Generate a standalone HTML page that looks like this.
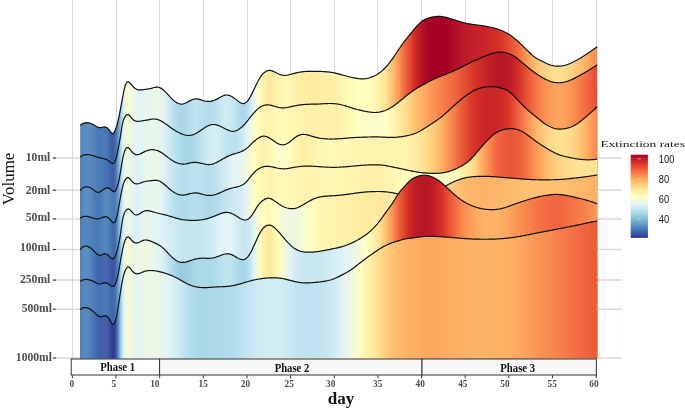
<!DOCTYPE html>
<html><head><meta charset="utf-8"><title>Extinction rates ridgeline</title>
<style>
html,body{margin:0;padding:0;background:#fff;}
body{width:685px;height:409px;overflow:hidden;font-family:"Liberation Serif",serif;}
svg{display:block;will-change:transform;}
.yl{font:bold 12.5px "Liberation Serif",serif;fill:#4d4d4d;text-anchor:end}
.xl{font:bold 9.9px "Liberation Serif",serif;fill:#4d4d4d;text-anchor:middle}
.ph{font:bold 12.1px "Liberation Serif",serif;fill:#111;text-anchor:middle}
.lg{font:10px "Liberation Sans",sans-serif;fill:#111}
</style></head><body>
<svg width="685" height="409" viewBox="0 0 685 409">
<rect width="685" height="409" fill="#fff"/>

<g stroke="#dadada" stroke-width="1" fill="none">
<line x1="72.5" y1="0" x2="72.5" y2="358.2"/>
<line x1="116.5" y1="0" x2="116.5" y2="358.2"/>
<line x1="159.5" y1="0" x2="159.5" y2="358.2"/>
<line x1="203.5" y1="0" x2="203.5" y2="358.2"/>
<line x1="247.5" y1="0" x2="247.5" y2="358.2"/>
<line x1="290.5" y1="0" x2="290.5" y2="358.2"/>
<line x1="334.5" y1="0" x2="334.5" y2="358.2"/>
<line x1="377.5" y1="0" x2="377.5" y2="358.2"/>
<line x1="421.5" y1="0" x2="421.5" y2="358.2"/>
<line x1="465.5" y1="0" x2="465.5" y2="358.2"/>
<line x1="508.5" y1="0" x2="508.5" y2="358.2"/>
<line x1="552.5" y1="0" x2="552.5" y2="358.2"/>
<line x1="596.5" y1="0" x2="596.5" y2="358.2"/>
<line x1="55.5" y1="158.0" x2="621.7" y2="158.0" stroke="#d9d9d9" stroke-width="1.5"/>
<line x1="55.5" y1="190.2" x2="621.7" y2="190.2" stroke="#d9d9d9" stroke-width="1.5"/>
<line x1="55.5" y1="218.9" x2="621.7" y2="218.9" stroke="#d9d9d9" stroke-width="1.5"/>
<line x1="55.5" y1="249.5" x2="621.7" y2="249.5" stroke="#d9d9d9" stroke-width="1.5"/>
<line x1="55.5" y1="280.1" x2="621.7" y2="280.1" stroke="#d9d9d9" stroke-width="1.5"/>
<line x1="55.5" y1="309.2" x2="621.7" y2="309.2" stroke="#d9d9d9" stroke-width="1.5"/>
<line x1="55.5" y1="358.0" x2="621.7" y2="358.0" stroke="#d9d9d9" stroke-width="1.5"/>
</g>
<defs>
<linearGradient id="g1" gradientUnits="userSpaceOnUse" x1="80.2" y1="0" x2="597.3" y2="0">
<stop offset="0.0000" stop-color="#5182bb"/>
<stop offset="0.0039" stop-color="#5688be"/>
<stop offset="0.0077" stop-color="#598bc0"/>
<stop offset="0.0116" stop-color="#5b8dc1"/>
<stop offset="0.0155" stop-color="#5a8dc0"/>
<stop offset="0.0193" stop-color="#598bbf"/>
<stop offset="0.0232" stop-color="#5687be"/>
<stop offset="0.0271" stop-color="#5283bb"/>
<stop offset="0.0309" stop-color="#4d7db8"/>
<stop offset="0.0348" stop-color="#4878b6"/>
<stop offset="0.0387" stop-color="#4777b5"/>
<stop offset="0.0425" stop-color="#4979b6"/>
<stop offset="0.0464" stop-color="#4a7ab7"/>
<stop offset="0.0503" stop-color="#4878b6"/>
<stop offset="0.0541" stop-color="#4471b2"/>
<stop offset="0.0580" stop-color="#4164ac"/>
<stop offset="0.0619" stop-color="#3e59a6"/>
<stop offset="0.0658" stop-color="#405fa9"/>
<stop offset="0.0696" stop-color="#4777b5"/>
<stop offset="0.0735" stop-color="#6498c7"/>
<stop offset="0.0774" stop-color="#8cc0db"/>
<stop offset="0.0812" stop-color="#bbe1ee"/>
<stop offset="0.0851" stop-color="#e5f5f0"/>
<stop offset="0.0890" stop-color="#f6fbd3"/>
<stop offset="0.0928" stop-color="#f9fccd"/>
<stop offset="0.0967" stop-color="#f5fbd4"/>
<stop offset="0.1006" stop-color="#eff8df"/>
<stop offset="0.1044" stop-color="#eaf6e8"/>
<stop offset="0.1083" stop-color="#e6f5ef"/>
<stop offset="0.1122" stop-color="#e4f4f2"/>
<stop offset="0.1160" stop-color="#e3f4f3"/>
<stop offset="0.1199" stop-color="#e4f4f2"/>
<stop offset="0.1238" stop-color="#e5f4f1"/>
<stop offset="0.1276" stop-color="#e6f5f0"/>
<stop offset="0.1315" stop-color="#e6f5ee"/>
<stop offset="0.1354" stop-color="#e7f5ec"/>
<stop offset="0.1392" stop-color="#e9f6ea"/>
<stop offset="0.1431" stop-color="#eaf6e8"/>
<stop offset="0.1470" stop-color="#ebf7e6"/>
<stop offset="0.1508" stop-color="#ebf7e6"/>
<stop offset="0.1547" stop-color="#e9f6e9"/>
<stop offset="0.1586" stop-color="#e6f5ee"/>
<stop offset="0.1624" stop-color="#e2f3f6"/>
<stop offset="0.1663" stop-color="#daf0f6"/>
<stop offset="0.1702" stop-color="#d0ebf3"/>
<stop offset="0.1740" stop-color="#c7e6f1"/>
<stop offset="0.1779" stop-color="#bee2ee"/>
<stop offset="0.1818" stop-color="#b6deec"/>
<stop offset="0.1857" stop-color="#b0dbea"/>
<stop offset="0.1895" stop-color="#abd9e9"/>
<stop offset="0.1934" stop-color="#a9d7e8"/>
<stop offset="0.1973" stop-color="#a8d7e8"/>
<stop offset="0.2011" stop-color="#aad9e9"/>
<stop offset="0.2050" stop-color="#aedbea"/>
<stop offset="0.2089" stop-color="#b3ddeb"/>
<stop offset="0.2127" stop-color="#b7dfec"/>
<stop offset="0.2166" stop-color="#bbe1ed"/>
<stop offset="0.2205" stop-color="#bee2ee"/>
<stop offset="0.2243" stop-color="#bfe3ef"/>
<stop offset="0.2282" stop-color="#bee2ee"/>
<stop offset="0.2321" stop-color="#bce1ee"/>
<stop offset="0.2359" stop-color="#b9e0ed"/>
<stop offset="0.2398" stop-color="#b6deec"/>
<stop offset="0.2437" stop-color="#b5deec"/>
<stop offset="0.2475" stop-color="#b4ddeb"/>
<stop offset="0.2514" stop-color="#b4ddec"/>
<stop offset="0.2553" stop-color="#b6deec"/>
<stop offset="0.2591" stop-color="#b9e0ed"/>
<stop offset="0.2630" stop-color="#bde1ee"/>
<stop offset="0.2669" stop-color="#c1e4ef"/>
<stop offset="0.2707" stop-color="#c6e6f1"/>
<stop offset="0.2746" stop-color="#cae8f2"/>
<stop offset="0.2785" stop-color="#ceeaf3"/>
<stop offset="0.2823" stop-color="#cfebf3"/>
<stop offset="0.2862" stop-color="#cfeaf3"/>
<stop offset="0.2901" stop-color="#cce9f2"/>
<stop offset="0.2939" stop-color="#c8e7f1"/>
<stop offset="0.2978" stop-color="#c2e4ef"/>
<stop offset="0.3017" stop-color="#bce1ee"/>
<stop offset="0.3056" stop-color="#b5deec"/>
<stop offset="0.3094" stop-color="#afdbea"/>
<stop offset="0.3133" stop-color="#abd9e9"/>
<stop offset="0.3172" stop-color="#abd9e9"/>
<stop offset="0.3210" stop-color="#b0dbea"/>
<stop offset="0.3249" stop-color="#b9e0ed"/>
<stop offset="0.3288" stop-color="#c7e7f1"/>
<stop offset="0.3326" stop-color="#d8eff6"/>
<stop offset="0.3365" stop-color="#e6f5ee"/>
<stop offset="0.3404" stop-color="#f2f9db"/>
<stop offset="0.3442" stop-color="#fbfdc9"/>
<stop offset="0.3481" stop-color="#fffbba"/>
<stop offset="0.3520" stop-color="#fff5af"/>
<stop offset="0.3558" stop-color="#fff0a8"/>
<stop offset="0.3597" stop-color="#ffeca2"/>
<stop offset="0.3636" stop-color="#ffea9f"/>
<stop offset="0.3674" stop-color="#ffea9f"/>
<stop offset="0.3713" stop-color="#ffeba1"/>
<stop offset="0.3752" stop-color="#ffeda4"/>
<stop offset="0.3790" stop-color="#fff0a8"/>
<stop offset="0.3829" stop-color="#fff2ac"/>
<stop offset="0.3868" stop-color="#fff4af"/>
<stop offset="0.3906" stop-color="#fff6b1"/>
<stop offset="0.3945" stop-color="#fff6b2"/>
<stop offset="0.3984" stop-color="#fff6b1"/>
<stop offset="0.4022" stop-color="#fff5b0"/>
<stop offset="0.4061" stop-color="#fff4af"/>
<stop offset="0.4100" stop-color="#fff3ac"/>
<stop offset="0.4138" stop-color="#fff1aa"/>
<stop offset="0.4177" stop-color="#fff0a8"/>
<stop offset="0.4216" stop-color="#ffefa7"/>
<stop offset="0.4254" stop-color="#ffeea5"/>
<stop offset="0.4293" stop-color="#ffeda4"/>
<stop offset="0.4332" stop-color="#ffeda4"/>
<stop offset="0.4371" stop-color="#ffeda3"/>
<stop offset="0.4409" stop-color="#ffeca3"/>
<stop offset="0.4448" stop-color="#ffeca2"/>
<stop offset="0.4487" stop-color="#ffeca2"/>
<stop offset="0.4525" stop-color="#ffeca2"/>
<stop offset="0.4564" stop-color="#ffeca2"/>
<stop offset="0.4603" stop-color="#ffeca3"/>
<stop offset="0.4641" stop-color="#ffeca3"/>
<stop offset="0.4680" stop-color="#ffeda3"/>
<stop offset="0.4719" stop-color="#ffeda4"/>
<stop offset="0.4757" stop-color="#ffeda4"/>
<stop offset="0.4796" stop-color="#ffeea5"/>
<stop offset="0.4835" stop-color="#ffeea6"/>
<stop offset="0.4873" stop-color="#ffefa7"/>
<stop offset="0.4912" stop-color="#fff0a8"/>
<stop offset="0.4951" stop-color="#fff1aa"/>
<stop offset="0.4989" stop-color="#fff3ac"/>
<stop offset="0.5028" stop-color="#fff4ae"/>
<stop offset="0.5067" stop-color="#fff5b0"/>
<stop offset="0.5105" stop-color="#fff7b2"/>
<stop offset="0.5144" stop-color="#fff8b4"/>
<stop offset="0.5183" stop-color="#fff9b6"/>
<stop offset="0.5221" stop-color="#fffab8"/>
<stop offset="0.5260" stop-color="#fffcba"/>
<stop offset="0.5299" stop-color="#fffdbc"/>
<stop offset="0.5337" stop-color="#fffebd"/>
<stop offset="0.5376" stop-color="#ffffbe"/>
<stop offset="0.5415" stop-color="#ffffbf"/>
<stop offset="0.5453" stop-color="#ffffc0"/>
<stop offset="0.5492" stop-color="#ffffbf"/>
<stop offset="0.5531" stop-color="#fffebe"/>
<stop offset="0.5570" stop-color="#fffdbc"/>
<stop offset="0.5608" stop-color="#fffcba"/>
<stop offset="0.5647" stop-color="#fffab7"/>
<stop offset="0.5686" stop-color="#fff8b4"/>
<stop offset="0.5724" stop-color="#fff5b0"/>
<stop offset="0.5763" stop-color="#fff2ab"/>
<stop offset="0.5802" stop-color="#ffefa6"/>
<stop offset="0.5840" stop-color="#ffeaa0"/>
<stop offset="0.5879" stop-color="#ffe699"/>
<stop offset="0.5918" stop-color="#fee191"/>
<stop offset="0.5956" stop-color="#fed788"/>
<stop offset="0.5995" stop-color="#ffcd7e"/>
<stop offset="0.6034" stop-color="#fec274"/>
<stop offset="0.6072" stop-color="#feb769"/>
<stop offset="0.6111" stop-color="#fdaa5f"/>
<stop offset="0.6150" stop-color="#fb9a57"/>
<stop offset="0.6188" stop-color="#f98b50"/>
<stop offset="0.6227" stop-color="#f67b49"/>
<stop offset="0.6266" stop-color="#f46c43"/>
<stop offset="0.6304" stop-color="#ee613c"/>
<stop offset="0.6343" stop-color="#e85537"/>
<stop offset="0.6382" stop-color="#e24931"/>
<stop offset="0.6420" stop-color="#dc3d2c"/>
<stop offset="0.6459" stop-color="#d62f27"/>
<stop offset="0.6498" stop-color="#cc2827"/>
<stop offset="0.6536" stop-color="#c32127"/>
<stop offset="0.6575" stop-color="#bb1a27"/>
<stop offset="0.6614" stop-color="#b51427"/>
<stop offset="0.6652" stop-color="#b00f26"/>
<stop offset="0.6691" stop-color="#ac0926"/>
<stop offset="0.6730" stop-color="#a90526"/>
<stop offset="0.6769" stop-color="#a70226"/>
<stop offset="0.6807" stop-color="#a50026"/>
<stop offset="0.6846" stop-color="#a50026"/>
<stop offset="0.6885" stop-color="#a50026"/>
<stop offset="0.6923" stop-color="#a50026"/>
<stop offset="0.6962" stop-color="#a50026"/>
<stop offset="0.7001" stop-color="#a50026"/>
<stop offset="0.7039" stop-color="#a50026"/>
<stop offset="0.7078" stop-color="#a60126"/>
<stop offset="0.7117" stop-color="#a80426"/>
<stop offset="0.7155" stop-color="#aa0726"/>
<stop offset="0.7194" stop-color="#ad0b26"/>
<stop offset="0.7233" stop-color="#af0e26"/>
<stop offset="0.7271" stop-color="#b21127"/>
<stop offset="0.7310" stop-color="#b51427"/>
<stop offset="0.7349" stop-color="#b71627"/>
<stop offset="0.7387" stop-color="#b91927"/>
<stop offset="0.7426" stop-color="#bc1b27"/>
<stop offset="0.7465" stop-color="#bd1c27"/>
<stop offset="0.7503" stop-color="#bf1e27"/>
<stop offset="0.7542" stop-color="#c11f27"/>
<stop offset="0.7581" stop-color="#c22027"/>
<stop offset="0.7619" stop-color="#c32127"/>
<stop offset="0.7658" stop-color="#c42227"/>
<stop offset="0.7697" stop-color="#c52327"/>
<stop offset="0.7735" stop-color="#c62327"/>
<stop offset="0.7774" stop-color="#c72427"/>
<stop offset="0.7813" stop-color="#c92527"/>
<stop offset="0.7851" stop-color="#ca2727"/>
<stop offset="0.7890" stop-color="#cc2827"/>
<stop offset="0.7929" stop-color="#ce2927"/>
<stop offset="0.7968" stop-color="#cf2b27"/>
<stop offset="0.8006" stop-color="#d12c27"/>
<stop offset="0.8045" stop-color="#d42e27"/>
<stop offset="0.8084" stop-color="#d62f27"/>
<stop offset="0.8122" stop-color="#d83328"/>
<stop offset="0.8161" stop-color="#da382a"/>
<stop offset="0.8200" stop-color="#dc3d2c"/>
<stop offset="0.8238" stop-color="#df422e"/>
<stop offset="0.8277" stop-color="#e14830"/>
<stop offset="0.8316" stop-color="#e44f33"/>
<stop offset="0.8354" stop-color="#e85637"/>
<stop offset="0.8393" stop-color="#ec5d3a"/>
<stop offset="0.8432" stop-color="#ef643e"/>
<stop offset="0.8470" stop-color="#f36c42"/>
<stop offset="0.8509" stop-color="#f67647"/>
<stop offset="0.8548" stop-color="#f7814b"/>
<stop offset="0.8586" stop-color="#f98b50"/>
<stop offset="0.8625" stop-color="#fa9655"/>
<stop offset="0.8664" stop-color="#fca05a"/>
<stop offset="0.8702" stop-color="#fdaa5f"/>
<stop offset="0.8741" stop-color="#fdb265"/>
<stop offset="0.8780" stop-color="#feb96b"/>
<stop offset="0.8818" stop-color="#febe70"/>
<stop offset="0.8857" stop-color="#fec374"/>
<stop offset="0.8896" stop-color="#fec778"/>
<stop offset="0.8934" stop-color="#ffcb7c"/>
<stop offset="0.8973" stop-color="#ffcf80"/>
<stop offset="0.9012" stop-color="#fed384"/>
<stop offset="0.9050" stop-color="#fed787"/>
<stop offset="0.9089" stop-color="#feda8a"/>
<stop offset="0.9128" stop-color="#fedc8c"/>
<stop offset="0.9167" stop-color="#fede8e"/>
<stop offset="0.9205" stop-color="#fedf8f"/>
<stop offset="0.9244" stop-color="#fedf8f"/>
<stop offset="0.9283" stop-color="#fedf8f"/>
<stop offset="0.9321" stop-color="#fede8e"/>
<stop offset="0.9360" stop-color="#fedc8c"/>
<stop offset="0.9399" stop-color="#feda8a"/>
<stop offset="0.9437" stop-color="#fed787"/>
<stop offset="0.9476" stop-color="#fed484"/>
<stop offset="0.9515" stop-color="#ffd081"/>
<stop offset="0.9553" stop-color="#ffcc7d"/>
<stop offset="0.9592" stop-color="#fec879"/>
<stop offset="0.9631" stop-color="#fec375"/>
<stop offset="0.9669" stop-color="#febf70"/>
<stop offset="0.9708" stop-color="#feb96c"/>
<stop offset="0.9747" stop-color="#feb467"/>
<stop offset="0.9785" stop-color="#fdaf62"/>
<stop offset="0.9824" stop-color="#fca85e"/>
<stop offset="0.9863" stop-color="#fca25b"/>
<stop offset="0.9901" stop-color="#fb9a57"/>
<stop offset="0.9940" stop-color="#fa9354"/>
<stop offset="0.9979" stop-color="#f98c50"/>
</linearGradient>
<linearGradient id="g2" gradientUnits="userSpaceOnUse" x1="80.2" y1="0" x2="597.3" y2="0">
<stop offset="0.0000" stop-color="#4e7eb9"/>
<stop offset="0.0039" stop-color="#5385bc"/>
<stop offset="0.0077" stop-color="#5788be"/>
<stop offset="0.0116" stop-color="#588abf"/>
<stop offset="0.0155" stop-color="#588abf"/>
<stop offset="0.0193" stop-color="#5688be"/>
<stop offset="0.0232" stop-color="#5486bd"/>
<stop offset="0.0271" stop-color="#5283bb"/>
<stop offset="0.0309" stop-color="#4f80ba"/>
<stop offset="0.0348" stop-color="#4d7db8"/>
<stop offset="0.0387" stop-color="#4b7bb7"/>
<stop offset="0.0425" stop-color="#4979b6"/>
<stop offset="0.0464" stop-color="#4777b5"/>
<stop offset="0.0503" stop-color="#4574b4"/>
<stop offset="0.0541" stop-color="#446fb1"/>
<stop offset="0.0580" stop-color="#4266ad"/>
<stop offset="0.0619" stop-color="#405fa9"/>
<stop offset="0.0658" stop-color="#4162ab"/>
<stop offset="0.0696" stop-color="#4a7ab7"/>
<stop offset="0.0735" stop-color="#6ea5cd"/>
<stop offset="0.0774" stop-color="#9ccde2"/>
<stop offset="0.0812" stop-color="#d4edf4"/>
<stop offset="0.0851" stop-color="#ebf6e7"/>
<stop offset="0.0890" stop-color="#f2f9d9"/>
<stop offset="0.0928" stop-color="#f4fad6"/>
<stop offset="0.0967" stop-color="#f0f8de"/>
<stop offset="0.1006" stop-color="#e9f6e9"/>
<stop offset="0.1044" stop-color="#e5f5f1"/>
<stop offset="0.1083" stop-color="#e3f4f4"/>
<stop offset="0.1122" stop-color="#e2f4f5"/>
<stop offset="0.1160" stop-color="#e3f4f4"/>
<stop offset="0.1199" stop-color="#e4f4f3"/>
<stop offset="0.1238" stop-color="#e4f4f1"/>
<stop offset="0.1276" stop-color="#e5f5f0"/>
<stop offset="0.1315" stop-color="#e6f5ee"/>
<stop offset="0.1354" stop-color="#e7f5ec"/>
<stop offset="0.1392" stop-color="#e8f6eb"/>
<stop offset="0.1431" stop-color="#e9f6ea"/>
<stop offset="0.1470" stop-color="#e8f6eb"/>
<stop offset="0.1508" stop-color="#e7f5ee"/>
<stop offset="0.1547" stop-color="#e4f4f1"/>
<stop offset="0.1586" stop-color="#e1f3f6"/>
<stop offset="0.1624" stop-color="#dcf1f7"/>
<stop offset="0.1663" stop-color="#d6eef5"/>
<stop offset="0.1702" stop-color="#d0ebf3"/>
<stop offset="0.1740" stop-color="#cae8f2"/>
<stop offset="0.1779" stop-color="#c4e5f0"/>
<stop offset="0.1818" stop-color="#bee2ee"/>
<stop offset="0.1857" stop-color="#b9e0ed"/>
<stop offset="0.1895" stop-color="#b5deec"/>
<stop offset="0.1934" stop-color="#b0dcea"/>
<stop offset="0.1973" stop-color="#addae9"/>
<stop offset="0.2011" stop-color="#a9d8e8"/>
<stop offset="0.2050" stop-color="#a7d6e7"/>
<stop offset="0.2089" stop-color="#a6d5e7"/>
<stop offset="0.2127" stop-color="#a7d6e7"/>
<stop offset="0.2166" stop-color="#a9d7e8"/>
<stop offset="0.2205" stop-color="#acd9e9"/>
<stop offset="0.2243" stop-color="#b0dbea"/>
<stop offset="0.2282" stop-color="#b5deec"/>
<stop offset="0.2321" stop-color="#bbe1ed"/>
<stop offset="0.2359" stop-color="#c1e4ef"/>
<stop offset="0.2398" stop-color="#c7e6f1"/>
<stop offset="0.2437" stop-color="#cce9f2"/>
<stop offset="0.2475" stop-color="#d0ebf3"/>
<stop offset="0.2514" stop-color="#d3edf4"/>
<stop offset="0.2553" stop-color="#d5eef5"/>
<stop offset="0.2591" stop-color="#d6eef5"/>
<stop offset="0.2630" stop-color="#d4edf5"/>
<stop offset="0.2669" stop-color="#d2ecf4"/>
<stop offset="0.2707" stop-color="#ceeaf3"/>
<stop offset="0.2746" stop-color="#cae8f2"/>
<stop offset="0.2785" stop-color="#c6e6f0"/>
<stop offset="0.2823" stop-color="#c2e4ef"/>
<stop offset="0.2862" stop-color="#bee2ee"/>
<stop offset="0.2901" stop-color="#bbe1ed"/>
<stop offset="0.2939" stop-color="#b9e0ed"/>
<stop offset="0.2978" stop-color="#b9e0ed"/>
<stop offset="0.3017" stop-color="#bbe1ee"/>
<stop offset="0.3056" stop-color="#c0e3ef"/>
<stop offset="0.3094" stop-color="#c5e6f0"/>
<stop offset="0.3133" stop-color="#cde9f2"/>
<stop offset="0.3172" stop-color="#d5edf5"/>
<stop offset="0.3210" stop-color="#def2f7"/>
<stop offset="0.3249" stop-color="#e6f5ef"/>
<stop offset="0.3288" stop-color="#edf7e3"/>
<stop offset="0.3326" stop-color="#f3fad8"/>
<stop offset="0.3365" stop-color="#f9fccd"/>
<stop offset="0.3404" stop-color="#fdfec3"/>
<stop offset="0.3442" stop-color="#fffcbb"/>
<stop offset="0.3481" stop-color="#fff9b5"/>
<stop offset="0.3520" stop-color="#fff6b1"/>
<stop offset="0.3558" stop-color="#fff4ae"/>
<stop offset="0.3597" stop-color="#fff3ad"/>
<stop offset="0.3636" stop-color="#fff3ad"/>
<stop offset="0.3674" stop-color="#fff4ae"/>
<stop offset="0.3713" stop-color="#fff5b0"/>
<stop offset="0.3752" stop-color="#fff6b2"/>
<stop offset="0.3790" stop-color="#fff8b4"/>
<stop offset="0.3829" stop-color="#fff9b6"/>
<stop offset="0.3868" stop-color="#fffab8"/>
<stop offset="0.3906" stop-color="#fffbb8"/>
<stop offset="0.3945" stop-color="#fffbb8"/>
<stop offset="0.3984" stop-color="#fffab7"/>
<stop offset="0.4022" stop-color="#fff9b6"/>
<stop offset="0.4061" stop-color="#fff8b4"/>
<stop offset="0.4100" stop-color="#fff7b3"/>
<stop offset="0.4138" stop-color="#fff6b1"/>
<stop offset="0.4177" stop-color="#fff5af"/>
<stop offset="0.4216" stop-color="#fff4ae"/>
<stop offset="0.4254" stop-color="#fff3ad"/>
<stop offset="0.4293" stop-color="#fff3ac"/>
<stop offset="0.4332" stop-color="#fff2ab"/>
<stop offset="0.4371" stop-color="#fff2ab"/>
<stop offset="0.4409" stop-color="#fff2ab"/>
<stop offset="0.4448" stop-color="#fff1aa"/>
<stop offset="0.4487" stop-color="#fff1aa"/>
<stop offset="0.4525" stop-color="#fff1aa"/>
<stop offset="0.4564" stop-color="#fff1aa"/>
<stop offset="0.4603" stop-color="#fff1aa"/>
<stop offset="0.4641" stop-color="#fff1a9"/>
<stop offset="0.4680" stop-color="#fff0a9"/>
<stop offset="0.4719" stop-color="#fff0a8"/>
<stop offset="0.4757" stop-color="#fff0a8"/>
<stop offset="0.4796" stop-color="#fff0a8"/>
<stop offset="0.4835" stop-color="#fff0a8"/>
<stop offset="0.4873" stop-color="#fff0a8"/>
<stop offset="0.4912" stop-color="#fff0a8"/>
<stop offset="0.4951" stop-color="#fff1a9"/>
<stop offset="0.4989" stop-color="#fff1aa"/>
<stop offset="0.5028" stop-color="#fff2ac"/>
<stop offset="0.5067" stop-color="#fff3ad"/>
<stop offset="0.5105" stop-color="#fff5af"/>
<stop offset="0.5144" stop-color="#fff6b2"/>
<stop offset="0.5183" stop-color="#fff8b4"/>
<stop offset="0.5221" stop-color="#fff9b7"/>
<stop offset="0.5260" stop-color="#fffbb9"/>
<stop offset="0.5299" stop-color="#fffdbb"/>
<stop offset="0.5337" stop-color="#fffebd"/>
<stop offset="0.5376" stop-color="#ffffbf"/>
<stop offset="0.5415" stop-color="#fefec2"/>
<stop offset="0.5453" stop-color="#fdfec4"/>
<stop offset="0.5492" stop-color="#fcfec6"/>
<stop offset="0.5531" stop-color="#fbfdc8"/>
<stop offset="0.5570" stop-color="#fafdc9"/>
<stop offset="0.5608" stop-color="#fafccb"/>
<stop offset="0.5647" stop-color="#f9fccc"/>
<stop offset="0.5686" stop-color="#f9fccc"/>
<stop offset="0.5724" stop-color="#f9fccc"/>
<stop offset="0.5763" stop-color="#f9fccb"/>
<stop offset="0.5802" stop-color="#fafdca"/>
<stop offset="0.5840" stop-color="#fbfdc8"/>
<stop offset="0.5879" stop-color="#fdfec5"/>
<stop offset="0.5918" stop-color="#feffc1"/>
<stop offset="0.5956" stop-color="#fffebd"/>
<stop offset="0.5995" stop-color="#fffbb9"/>
<stop offset="0.6034" stop-color="#fff8b4"/>
<stop offset="0.6072" stop-color="#fff5af"/>
<stop offset="0.6111" stop-color="#fff1aa"/>
<stop offset="0.6150" stop-color="#ffeda4"/>
<stop offset="0.6188" stop-color="#ffe99e"/>
<stop offset="0.6227" stop-color="#fee597"/>
<stop offset="0.6266" stop-color="#fee191"/>
<stop offset="0.6304" stop-color="#fedb8b"/>
<stop offset="0.6343" stop-color="#fed485"/>
<stop offset="0.6382" stop-color="#ffce7f"/>
<stop offset="0.6420" stop-color="#fec879"/>
<stop offset="0.6459" stop-color="#fec374"/>
<stop offset="0.6498" stop-color="#febe70"/>
<stop offset="0.6536" stop-color="#feb96b"/>
<stop offset="0.6575" stop-color="#feb467"/>
<stop offset="0.6614" stop-color="#fdb063"/>
<stop offset="0.6652" stop-color="#fdab5f"/>
<stop offset="0.6691" stop-color="#fca65d"/>
<stop offset="0.6730" stop-color="#fca05a"/>
<stop offset="0.6769" stop-color="#fb9b58"/>
<stop offset="0.6807" stop-color="#fa9655"/>
<stop offset="0.6846" stop-color="#fa9153"/>
<stop offset="0.6885" stop-color="#f98c50"/>
<stop offset="0.6923" stop-color="#f8874e"/>
<stop offset="0.6962" stop-color="#f8834c"/>
<stop offset="0.7001" stop-color="#f77f4b"/>
<stop offset="0.7039" stop-color="#f67b49"/>
<stop offset="0.7078" stop-color="#f67647"/>
<stop offset="0.7117" stop-color="#f57245"/>
<stop offset="0.7155" stop-color="#f46d43"/>
<stop offset="0.7194" stop-color="#f26a41"/>
<stop offset="0.7233" stop-color="#f0663f"/>
<stop offset="0.7271" stop-color="#ee623d"/>
<stop offset="0.7310" stop-color="#ec5d3b"/>
<stop offset="0.7349" stop-color="#ea5938"/>
<stop offset="0.7387" stop-color="#e75436"/>
<stop offset="0.7426" stop-color="#e54f34"/>
<stop offset="0.7465" stop-color="#e24a31"/>
<stop offset="0.7503" stop-color="#e0452f"/>
<stop offset="0.7542" stop-color="#de402d"/>
<stop offset="0.7581" stop-color="#db3b2b"/>
<stop offset="0.7619" stop-color="#d93529"/>
<stop offset="0.7658" stop-color="#d73027"/>
<stop offset="0.7697" stop-color="#d32d27"/>
<stop offset="0.7735" stop-color="#d02b27"/>
<stop offset="0.7774" stop-color="#cc2827"/>
<stop offset="0.7813" stop-color="#c92527"/>
<stop offset="0.7851" stop-color="#c52327"/>
<stop offset="0.7890" stop-color="#c22027"/>
<stop offset="0.7929" stop-color="#bf1e27"/>
<stop offset="0.7968" stop-color="#bc1b27"/>
<stop offset="0.8006" stop-color="#ba1927"/>
<stop offset="0.8045" stop-color="#b91827"/>
<stop offset="0.8084" stop-color="#b71727"/>
<stop offset="0.8122" stop-color="#b71627"/>
<stop offset="0.8161" stop-color="#b71627"/>
<stop offset="0.8200" stop-color="#b81727"/>
<stop offset="0.8238" stop-color="#ba1927"/>
<stop offset="0.8277" stop-color="#bc1b27"/>
<stop offset="0.8316" stop-color="#bf1e27"/>
<stop offset="0.8354" stop-color="#c32127"/>
<stop offset="0.8393" stop-color="#c82527"/>
<stop offset="0.8432" stop-color="#ce2927"/>
<stop offset="0.8470" stop-color="#d42e27"/>
<stop offset="0.8509" stop-color="#d93629"/>
<stop offset="0.8548" stop-color="#dd3f2d"/>
<stop offset="0.8586" stop-color="#e14830"/>
<stop offset="0.8625" stop-color="#e55034"/>
<stop offset="0.8664" stop-color="#e95838"/>
<stop offset="0.8702" stop-color="#ed5f3c"/>
<stop offset="0.8741" stop-color="#f0663f"/>
<stop offset="0.8780" stop-color="#f46d43"/>
<stop offset="0.8818" stop-color="#f57546"/>
<stop offset="0.8857" stop-color="#f67c49"/>
<stop offset="0.8896" stop-color="#f8834c"/>
<stop offset="0.8934" stop-color="#f8894f"/>
<stop offset="0.8973" stop-color="#f98f52"/>
<stop offset="0.9012" stop-color="#fa9454"/>
<stop offset="0.9050" stop-color="#fb9856"/>
<stop offset="0.9089" stop-color="#fb9c58"/>
<stop offset="0.9128" stop-color="#fb9f5a"/>
<stop offset="0.9167" stop-color="#fca25b"/>
<stop offset="0.9205" stop-color="#fca35b"/>
<stop offset="0.9244" stop-color="#fca45c"/>
<stop offset="0.9283" stop-color="#fca35c"/>
<stop offset="0.9321" stop-color="#fca25b"/>
<stop offset="0.9360" stop-color="#fca15a"/>
<stop offset="0.9399" stop-color="#fb9e59"/>
<stop offset="0.9437" stop-color="#fb9b57"/>
<stop offset="0.9476" stop-color="#fa9756"/>
<stop offset="0.9515" stop-color="#fa9253"/>
<stop offset="0.9553" stop-color="#f98d51"/>
<stop offset="0.9592" stop-color="#f8884f"/>
<stop offset="0.9631" stop-color="#f8824c"/>
<stop offset="0.9669" stop-color="#f77c49"/>
<stop offset="0.9708" stop-color="#f67647"/>
<stop offset="0.9747" stop-color="#f47044"/>
<stop offset="0.9785" stop-color="#f36a41"/>
<stop offset="0.9824" stop-color="#f0653f"/>
<stop offset="0.9863" stop-color="#ed603c"/>
<stop offset="0.9901" stop-color="#ea5a39"/>
<stop offset="0.9940" stop-color="#e75436"/>
<stop offset="0.9979" stop-color="#e44e33"/>
</linearGradient>
<linearGradient id="g3" gradientUnits="userSpaceOnUse" x1="80.2" y1="0" x2="597.3" y2="0">
<stop offset="0.0000" stop-color="#4e7eb9"/>
<stop offset="0.0039" stop-color="#5687be"/>
<stop offset="0.0077" stop-color="#5a8dc0"/>
<stop offset="0.0116" stop-color="#5c8ec1"/>
<stop offset="0.0155" stop-color="#5b8ec1"/>
<stop offset="0.0193" stop-color="#588abf"/>
<stop offset="0.0232" stop-color="#5485bd"/>
<stop offset="0.0271" stop-color="#4e7fb9"/>
<stop offset="0.0309" stop-color="#4979b6"/>
<stop offset="0.0348" stop-color="#4676b5"/>
<stop offset="0.0387" stop-color="#4979b6"/>
<stop offset="0.0425" stop-color="#4e7fb9"/>
<stop offset="0.0464" stop-color="#5485bc"/>
<stop offset="0.0503" stop-color="#5789be"/>
<stop offset="0.0541" stop-color="#5789bf"/>
<stop offset="0.0580" stop-color="#5485bd"/>
<stop offset="0.0619" stop-color="#4d7db8"/>
<stop offset="0.0658" stop-color="#4979b6"/>
<stop offset="0.0696" stop-color="#5283bc"/>
<stop offset="0.0735" stop-color="#689dc9"/>
<stop offset="0.0774" stop-color="#91c3dd"/>
<stop offset="0.0812" stop-color="#c4e5f0"/>
<stop offset="0.0851" stop-color="#e5f5f0"/>
<stop offset="0.0890" stop-color="#f0f9dd"/>
<stop offset="0.0928" stop-color="#f1f9db"/>
<stop offset="0.0967" stop-color="#edf7e4"/>
<stop offset="0.1006" stop-color="#e6f5ee"/>
<stop offset="0.1044" stop-color="#e1f3f6"/>
<stop offset="0.1083" stop-color="#def2f8"/>
<stop offset="0.1122" stop-color="#dff2f8"/>
<stop offset="0.1160" stop-color="#e1f3f6"/>
<stop offset="0.1199" stop-color="#e4f4f2"/>
<stop offset="0.1238" stop-color="#e7f5ed"/>
<stop offset="0.1276" stop-color="#e9f6ea"/>
<stop offset="0.1315" stop-color="#ebf7e7"/>
<stop offset="0.1354" stop-color="#ecf7e5"/>
<stop offset="0.1392" stop-color="#edf7e4"/>
<stop offset="0.1431" stop-color="#ecf7e4"/>
<stop offset="0.1470" stop-color="#ebf7e6"/>
<stop offset="0.1508" stop-color="#e9f6e9"/>
<stop offset="0.1547" stop-color="#e7f5ee"/>
<stop offset="0.1586" stop-color="#e3f4f3"/>
<stop offset="0.1624" stop-color="#dff3f8"/>
<stop offset="0.1663" stop-color="#d9eff6"/>
<stop offset="0.1702" stop-color="#d2ecf4"/>
<stop offset="0.1740" stop-color="#cce9f2"/>
<stop offset="0.1779" stop-color="#c7e6f1"/>
<stop offset="0.1818" stop-color="#c2e4ef"/>
<stop offset="0.1857" stop-color="#bee2ee"/>
<stop offset="0.1895" stop-color="#bbe1ed"/>
<stop offset="0.1934" stop-color="#b9e0ed"/>
<stop offset="0.1973" stop-color="#b8dfed"/>
<stop offset="0.2011" stop-color="#b8dfec"/>
<stop offset="0.2050" stop-color="#b9dfed"/>
<stop offset="0.2089" stop-color="#bae0ed"/>
<stop offset="0.2127" stop-color="#bce1ee"/>
<stop offset="0.2166" stop-color="#bee2ee"/>
<stop offset="0.2205" stop-color="#bfe2ee"/>
<stop offset="0.2243" stop-color="#bee2ee"/>
<stop offset="0.2282" stop-color="#bde2ee"/>
<stop offset="0.2321" stop-color="#bce1ee"/>
<stop offset="0.2359" stop-color="#bae0ed"/>
<stop offset="0.2398" stop-color="#b8dfed"/>
<stop offset="0.2437" stop-color="#b7deec"/>
<stop offset="0.2475" stop-color="#b6deec"/>
<stop offset="0.2514" stop-color="#b6deec"/>
<stop offset="0.2553" stop-color="#b7dfec"/>
<stop offset="0.2591" stop-color="#bae0ed"/>
<stop offset="0.2630" stop-color="#bee2ee"/>
<stop offset="0.2669" stop-color="#c2e4ef"/>
<stop offset="0.2707" stop-color="#c7e6f1"/>
<stop offset="0.2746" stop-color="#cbe9f2"/>
<stop offset="0.2785" stop-color="#d0ebf3"/>
<stop offset="0.2823" stop-color="#d4edf5"/>
<stop offset="0.2862" stop-color="#d8eff6"/>
<stop offset="0.2901" stop-color="#dcf1f7"/>
<stop offset="0.2939" stop-color="#dff2f8"/>
<stop offset="0.2978" stop-color="#e1f3f6"/>
<stop offset="0.3017" stop-color="#e3f4f4"/>
<stop offset="0.3056" stop-color="#e5f4f1"/>
<stop offset="0.3094" stop-color="#e7f5ee"/>
<stop offset="0.3133" stop-color="#e9f6ea"/>
<stop offset="0.3172" stop-color="#ecf7e6"/>
<stop offset="0.3210" stop-color="#eff8e0"/>
<stop offset="0.3249" stop-color="#f3fad8"/>
<stop offset="0.3288" stop-color="#f7fbd0"/>
<stop offset="0.3326" stop-color="#fbfdc7"/>
<stop offset="0.3365" stop-color="#ffffbf"/>
<stop offset="0.3404" stop-color="#fffbb8"/>
<stop offset="0.3442" stop-color="#fff7b3"/>
<stop offset="0.3481" stop-color="#fff4af"/>
<stop offset="0.3520" stop-color="#fff3ac"/>
<stop offset="0.3558" stop-color="#fff2ac"/>
<stop offset="0.3597" stop-color="#fff3ad"/>
<stop offset="0.3636" stop-color="#fff5b0"/>
<stop offset="0.3674" stop-color="#fff8b4"/>
<stop offset="0.3713" stop-color="#fffbb9"/>
<stop offset="0.3752" stop-color="#ffffbe"/>
<stop offset="0.3790" stop-color="#fdfec4"/>
<stop offset="0.3829" stop-color="#fafdc9"/>
<stop offset="0.3868" stop-color="#f9fccd"/>
<stop offset="0.3906" stop-color="#f8fcce"/>
<stop offset="0.3945" stop-color="#f8fccd"/>
<stop offset="0.3984" stop-color="#fafdca"/>
<stop offset="0.4022" stop-color="#fcfec6"/>
<stop offset="0.4061" stop-color="#ffffbf"/>
<stop offset="0.4100" stop-color="#fffbb9"/>
<stop offset="0.4138" stop-color="#fff7b3"/>
<stop offset="0.4177" stop-color="#fff4ae"/>
<stop offset="0.4216" stop-color="#fff1a9"/>
<stop offset="0.4254" stop-color="#ffefa7"/>
<stop offset="0.4293" stop-color="#ffeea5"/>
<stop offset="0.4332" stop-color="#ffeea5"/>
<stop offset="0.4371" stop-color="#ffefa6"/>
<stop offset="0.4409" stop-color="#fff0a8"/>
<stop offset="0.4448" stop-color="#fff1aa"/>
<stop offset="0.4487" stop-color="#fff3ac"/>
<stop offset="0.4525" stop-color="#fff4ae"/>
<stop offset="0.4564" stop-color="#fff5b0"/>
<stop offset="0.4603" stop-color="#fff6b2"/>
<stop offset="0.4641" stop-color="#fff7b3"/>
<stop offset="0.4680" stop-color="#fff8b4"/>
<stop offset="0.4719" stop-color="#fff8b5"/>
<stop offset="0.4757" stop-color="#fff9b6"/>
<stop offset="0.4796" stop-color="#fff9b6"/>
<stop offset="0.4835" stop-color="#fff9b6"/>
<stop offset="0.4873" stop-color="#fff9b6"/>
<stop offset="0.4912" stop-color="#fff9b6"/>
<stop offset="0.4951" stop-color="#fff9b6"/>
<stop offset="0.4989" stop-color="#fff9b5"/>
<stop offset="0.5028" stop-color="#fff8b5"/>
<stop offset="0.5067" stop-color="#fff8b4"/>
<stop offset="0.5105" stop-color="#fff8b4"/>
<stop offset="0.5144" stop-color="#fff7b3"/>
<stop offset="0.5183" stop-color="#fff7b2"/>
<stop offset="0.5221" stop-color="#fff6b2"/>
<stop offset="0.5260" stop-color="#fff6b1"/>
<stop offset="0.5299" stop-color="#fff6b1"/>
<stop offset="0.5337" stop-color="#fff5b0"/>
<stop offset="0.5376" stop-color="#fff5b0"/>
<stop offset="0.5415" stop-color="#fff5b0"/>
<stop offset="0.5453" stop-color="#fff5af"/>
<stop offset="0.5492" stop-color="#fff5af"/>
<stop offset="0.5531" stop-color="#fff4af"/>
<stop offset="0.5570" stop-color="#fff4af"/>
<stop offset="0.5608" stop-color="#fff4af"/>
<stop offset="0.5647" stop-color="#fff4ae"/>
<stop offset="0.5686" stop-color="#fff4ae"/>
<stop offset="0.5724" stop-color="#fff4ae"/>
<stop offset="0.5763" stop-color="#fff4ae"/>
<stop offset="0.5802" stop-color="#fff4af"/>
<stop offset="0.5840" stop-color="#fff4af"/>
<stop offset="0.5879" stop-color="#fff5af"/>
<stop offset="0.5918" stop-color="#fff5b0"/>
<stop offset="0.5956" stop-color="#fff5b0"/>
<stop offset="0.5995" stop-color="#fff5b0"/>
<stop offset="0.6034" stop-color="#fff5b0"/>
<stop offset="0.6072" stop-color="#fff5b0"/>
<stop offset="0.6111" stop-color="#fff5af"/>
<stop offset="0.6150" stop-color="#fff4af"/>
<stop offset="0.6188" stop-color="#fff4ae"/>
<stop offset="0.6227" stop-color="#fff3ad"/>
<stop offset="0.6266" stop-color="#fff2ac"/>
<stop offset="0.6304" stop-color="#fff2ab"/>
<stop offset="0.6343" stop-color="#fff1a9"/>
<stop offset="0.6382" stop-color="#ffefa7"/>
<stop offset="0.6420" stop-color="#ffeea5"/>
<stop offset="0.6459" stop-color="#ffeca3"/>
<stop offset="0.6498" stop-color="#ffeaa0"/>
<stop offset="0.6536" stop-color="#ffe89c"/>
<stop offset="0.6575" stop-color="#ffe699"/>
<stop offset="0.6614" stop-color="#fee394"/>
<stop offset="0.6652" stop-color="#fee090"/>
<stop offset="0.6691" stop-color="#fedb8b"/>
<stop offset="0.6730" stop-color="#fed686"/>
<stop offset="0.6769" stop-color="#ffd181"/>
<stop offset="0.6807" stop-color="#ffcc7d"/>
<stop offset="0.6846" stop-color="#fec778"/>
<stop offset="0.6885" stop-color="#fec173"/>
<stop offset="0.6923" stop-color="#febc6e"/>
<stop offset="0.6962" stop-color="#feb668"/>
<stop offset="0.7001" stop-color="#fdb063"/>
<stop offset="0.7039" stop-color="#fca85e"/>
<stop offset="0.7078" stop-color="#fca05a"/>
<stop offset="0.7117" stop-color="#fa9755"/>
<stop offset="0.7155" stop-color="#f98d51"/>
<stop offset="0.7194" stop-color="#f8844d"/>
<stop offset="0.7233" stop-color="#f67a49"/>
<stop offset="0.7271" stop-color="#f57145"/>
<stop offset="0.7310" stop-color="#f26941"/>
<stop offset="0.7349" stop-color="#ee613d"/>
<stop offset="0.7387" stop-color="#ea5a39"/>
<stop offset="0.7426" stop-color="#e75336"/>
<stop offset="0.7465" stop-color="#e34c32"/>
<stop offset="0.7503" stop-color="#e0452f"/>
<stop offset="0.7542" stop-color="#dd3f2d"/>
<stop offset="0.7581" stop-color="#da382a"/>
<stop offset="0.7619" stop-color="#d83228"/>
<stop offset="0.7658" stop-color="#d52e27"/>
<stop offset="0.7697" stop-color="#d12c27"/>
<stop offset="0.7735" stop-color="#cf2a27"/>
<stop offset="0.7774" stop-color="#cd2827"/>
<stop offset="0.7813" stop-color="#cb2727"/>
<stop offset="0.7851" stop-color="#ca2627"/>
<stop offset="0.7890" stop-color="#c92627"/>
<stop offset="0.7929" stop-color="#c92627"/>
<stop offset="0.7968" stop-color="#c92627"/>
<stop offset="0.8006" stop-color="#ca2627"/>
<stop offset="0.8045" stop-color="#cb2727"/>
<stop offset="0.8084" stop-color="#cc2827"/>
<stop offset="0.8122" stop-color="#ce2927"/>
<stop offset="0.8161" stop-color="#d02b27"/>
<stop offset="0.8200" stop-color="#d22d27"/>
<stop offset="0.8238" stop-color="#d62f27"/>
<stop offset="0.8277" stop-color="#d93529"/>
<stop offset="0.8316" stop-color="#dc3d2c"/>
<stop offset="0.8354" stop-color="#e04630"/>
<stop offset="0.8393" stop-color="#e54f34"/>
<stop offset="0.8432" stop-color="#ea5939"/>
<stop offset="0.8470" stop-color="#ef633d"/>
<stop offset="0.8509" stop-color="#f36c42"/>
<stop offset="0.8548" stop-color="#f67647"/>
<stop offset="0.8586" stop-color="#f7814b"/>
<stop offset="0.8625" stop-color="#f98b50"/>
<stop offset="0.8664" stop-color="#fa9454"/>
<stop offset="0.8702" stop-color="#fb9c58"/>
<stop offset="0.8741" stop-color="#fca45c"/>
<stop offset="0.8780" stop-color="#fdac60"/>
<stop offset="0.8818" stop-color="#fdb365"/>
<stop offset="0.8857" stop-color="#feb96b"/>
<stop offset="0.8896" stop-color="#febf71"/>
<stop offset="0.8934" stop-color="#fec577"/>
<stop offset="0.8973" stop-color="#ffcb7c"/>
<stop offset="0.9012" stop-color="#ffd081"/>
<stop offset="0.9050" stop-color="#fed586"/>
<stop offset="0.9089" stop-color="#fed989"/>
<stop offset="0.9128" stop-color="#fedc8c"/>
<stop offset="0.9167" stop-color="#fedf8f"/>
<stop offset="0.9205" stop-color="#fee091"/>
<stop offset="0.9244" stop-color="#fee192"/>
<stop offset="0.9283" stop-color="#fee192"/>
<stop offset="0.9321" stop-color="#fee191"/>
<stop offset="0.9360" stop-color="#fee090"/>
<stop offset="0.9399" stop-color="#fedf8f"/>
<stop offset="0.9437" stop-color="#fedd8d"/>
<stop offset="0.9476" stop-color="#fedb8b"/>
<stop offset="0.9515" stop-color="#fed888"/>
<stop offset="0.9553" stop-color="#fed484"/>
<stop offset="0.9592" stop-color="#ffcf80"/>
<stop offset="0.9631" stop-color="#ffca7b"/>
<stop offset="0.9669" stop-color="#fec475"/>
<stop offset="0.9708" stop-color="#febe70"/>
<stop offset="0.9747" stop-color="#feb86a"/>
<stop offset="0.9785" stop-color="#fdb164"/>
<stop offset="0.9824" stop-color="#fdaa5f"/>
<stop offset="0.9863" stop-color="#fca15b"/>
<stop offset="0.9901" stop-color="#fb9956"/>
<stop offset="0.9940" stop-color="#f99052"/>
<stop offset="0.9979" stop-color="#f8874e"/>
</linearGradient>
<linearGradient id="g4" gradientUnits="userSpaceOnUse" x1="80.2" y1="0" x2="597.3" y2="0">
<stop offset="0.0000" stop-color="#4e7eb9"/>
<stop offset="0.0039" stop-color="#5384bc"/>
<stop offset="0.0077" stop-color="#5586bd"/>
<stop offset="0.0116" stop-color="#5587bd"/>
<stop offset="0.0155" stop-color="#5485bd"/>
<stop offset="0.0193" stop-color="#5283bb"/>
<stop offset="0.0232" stop-color="#4f80ba"/>
<stop offset="0.0271" stop-color="#4d7db9"/>
<stop offset="0.0309" stop-color="#4c7cb8"/>
<stop offset="0.0348" stop-color="#4c7cb8"/>
<stop offset="0.0387" stop-color="#4d7eb9"/>
<stop offset="0.0425" stop-color="#5081ba"/>
<stop offset="0.0464" stop-color="#5384bc"/>
<stop offset="0.0503" stop-color="#5485bc"/>
<stop offset="0.0541" stop-color="#5081ba"/>
<stop offset="0.0580" stop-color="#4878b6"/>
<stop offset="0.0619" stop-color="#436db0"/>
<stop offset="0.0658" stop-color="#4369ae"/>
<stop offset="0.0696" stop-color="#4a7ab7"/>
<stop offset="0.0735" stop-color="#6ca2cc"/>
<stop offset="0.0774" stop-color="#9ecee3"/>
<stop offset="0.0812" stop-color="#cae8f2"/>
<stop offset="0.0851" stop-color="#e4f4f2"/>
<stop offset="0.0890" stop-color="#edf7e3"/>
<stop offset="0.0928" stop-color="#f0f8df"/>
<stop offset="0.0967" stop-color="#ebf7e7"/>
<stop offset="0.1006" stop-color="#e4f4f1"/>
<stop offset="0.1044" stop-color="#e0f3f8"/>
<stop offset="0.1083" stop-color="#ddf1f7"/>
<stop offset="0.1122" stop-color="#ddf2f7"/>
<stop offset="0.1160" stop-color="#e0f3f8"/>
<stop offset="0.1199" stop-color="#e2f4f5"/>
<stop offset="0.1238" stop-color="#e4f4f2"/>
<stop offset="0.1276" stop-color="#e5f5f0"/>
<stop offset="0.1315" stop-color="#e6f5ee"/>
<stop offset="0.1354" stop-color="#e7f5ed"/>
<stop offset="0.1392" stop-color="#e8f5ec"/>
<stop offset="0.1431" stop-color="#e8f6eb"/>
<stop offset="0.1470" stop-color="#e8f6eb"/>
<stop offset="0.1508" stop-color="#e7f5ed"/>
<stop offset="0.1547" stop-color="#e5f5f1"/>
<stop offset="0.1586" stop-color="#e1f3f6"/>
<stop offset="0.1624" stop-color="#dbf0f7"/>
<stop offset="0.1663" stop-color="#d4edf4"/>
<stop offset="0.1702" stop-color="#cce9f2"/>
<stop offset="0.1740" stop-color="#c5e6f0"/>
<stop offset="0.1779" stop-color="#bee2ee"/>
<stop offset="0.1818" stop-color="#b8dfed"/>
<stop offset="0.1857" stop-color="#b4ddeb"/>
<stop offset="0.1895" stop-color="#b0dbea"/>
<stop offset="0.1934" stop-color="#aedaea"/>
<stop offset="0.1973" stop-color="#addaea"/>
<stop offset="0.2011" stop-color="#aedaea"/>
<stop offset="0.2050" stop-color="#afdbea"/>
<stop offset="0.2089" stop-color="#b1dceb"/>
<stop offset="0.2127" stop-color="#b3ddeb"/>
<stop offset="0.2166" stop-color="#b5deec"/>
<stop offset="0.2205" stop-color="#b6deec"/>
<stop offset="0.2243" stop-color="#b6deec"/>
<stop offset="0.2282" stop-color="#b5deec"/>
<stop offset="0.2321" stop-color="#b3ddeb"/>
<stop offset="0.2359" stop-color="#b1dceb"/>
<stop offset="0.2398" stop-color="#afdbea"/>
<stop offset="0.2437" stop-color="#addae9"/>
<stop offset="0.2475" stop-color="#acd9e9"/>
<stop offset="0.2514" stop-color="#abd9e9"/>
<stop offset="0.2553" stop-color="#acdae9"/>
<stop offset="0.2591" stop-color="#aedaea"/>
<stop offset="0.2630" stop-color="#b1dceb"/>
<stop offset="0.2669" stop-color="#b4ddeb"/>
<stop offset="0.2707" stop-color="#b8dfec"/>
<stop offset="0.2746" stop-color="#bce1ee"/>
<stop offset="0.2785" stop-color="#bfe3ef"/>
<stop offset="0.2823" stop-color="#c3e5f0"/>
<stop offset="0.2862" stop-color="#c6e6f1"/>
<stop offset="0.2901" stop-color="#c9e8f1"/>
<stop offset="0.2939" stop-color="#cce9f2"/>
<stop offset="0.2978" stop-color="#ceeaf3"/>
<stop offset="0.3017" stop-color="#d0ebf3"/>
<stop offset="0.3056" stop-color="#d2ecf4"/>
<stop offset="0.3094" stop-color="#d4edf5"/>
<stop offset="0.3133" stop-color="#d8eff6"/>
<stop offset="0.3172" stop-color="#def2f7"/>
<stop offset="0.3210" stop-color="#e4f4f3"/>
<stop offset="0.3249" stop-color="#eaf6e8"/>
<stop offset="0.3288" stop-color="#f0f9dd"/>
<stop offset="0.3326" stop-color="#f6fbd1"/>
<stop offset="0.3365" stop-color="#fbfdc7"/>
<stop offset="0.3404" stop-color="#ffffbf"/>
<stop offset="0.3442" stop-color="#fffbb9"/>
<stop offset="0.3481" stop-color="#fff8b4"/>
<stop offset="0.3520" stop-color="#fff6b1"/>
<stop offset="0.3558" stop-color="#fff5af"/>
<stop offset="0.3597" stop-color="#fff4ae"/>
<stop offset="0.3636" stop-color="#fff4ae"/>
<stop offset="0.3674" stop-color="#fff5af"/>
<stop offset="0.3713" stop-color="#fff5b1"/>
<stop offset="0.3752" stop-color="#fff7b2"/>
<stop offset="0.3790" stop-color="#fff8b4"/>
<stop offset="0.3829" stop-color="#fff9b5"/>
<stop offset="0.3868" stop-color="#fffab7"/>
<stop offset="0.3906" stop-color="#fffab7"/>
<stop offset="0.3945" stop-color="#fffab8"/>
<stop offset="0.3984" stop-color="#fffab7"/>
<stop offset="0.4022" stop-color="#fff9b6"/>
<stop offset="0.4061" stop-color="#fff8b5"/>
<stop offset="0.4100" stop-color="#fff7b4"/>
<stop offset="0.4138" stop-color="#fff6b2"/>
<stop offset="0.4177" stop-color="#fff6b1"/>
<stop offset="0.4216" stop-color="#fff5b0"/>
<stop offset="0.4254" stop-color="#fff4af"/>
<stop offset="0.4293" stop-color="#fff4ae"/>
<stop offset="0.4332" stop-color="#fff4ae"/>
<stop offset="0.4371" stop-color="#fff3ad"/>
<stop offset="0.4409" stop-color="#fff3ad"/>
<stop offset="0.4448" stop-color="#fff3ad"/>
<stop offset="0.4487" stop-color="#fff4ae"/>
<stop offset="0.4525" stop-color="#fff4ae"/>
<stop offset="0.4564" stop-color="#fff4af"/>
<stop offset="0.4603" stop-color="#fff5af"/>
<stop offset="0.4641" stop-color="#fff5b0"/>
<stop offset="0.4680" stop-color="#fff5b0"/>
<stop offset="0.4719" stop-color="#fff6b1"/>
<stop offset="0.4757" stop-color="#fff6b1"/>
<stop offset="0.4796" stop-color="#fff6b2"/>
<stop offset="0.4835" stop-color="#fff6b2"/>
<stop offset="0.4873" stop-color="#fff6b2"/>
<stop offset="0.4912" stop-color="#fff6b2"/>
<stop offset="0.4951" stop-color="#fff6b2"/>
<stop offset="0.4989" stop-color="#fff6b2"/>
<stop offset="0.5028" stop-color="#fff6b1"/>
<stop offset="0.5067" stop-color="#fff6b1"/>
<stop offset="0.5105" stop-color="#fff5b0"/>
<stop offset="0.5144" stop-color="#fff5b0"/>
<stop offset="0.5183" stop-color="#fff4af"/>
<stop offset="0.5221" stop-color="#fff4ae"/>
<stop offset="0.5260" stop-color="#fff4ae"/>
<stop offset="0.5299" stop-color="#fff3ad"/>
<stop offset="0.5337" stop-color="#fff3ac"/>
<stop offset="0.5376" stop-color="#fff2ac"/>
<stop offset="0.5415" stop-color="#fff2ab"/>
<stop offset="0.5453" stop-color="#fff1aa"/>
<stop offset="0.5492" stop-color="#fff1aa"/>
<stop offset="0.5531" stop-color="#fff1a9"/>
<stop offset="0.5570" stop-color="#fff1a9"/>
<stop offset="0.5608" stop-color="#fff0a9"/>
<stop offset="0.5647" stop-color="#fff0a9"/>
<stop offset="0.5686" stop-color="#fff0a8"/>
<stop offset="0.5724" stop-color="#fff0a8"/>
<stop offset="0.5763" stop-color="#fff0a9"/>
<stop offset="0.5802" stop-color="#fff1a9"/>
<stop offset="0.5840" stop-color="#fff1aa"/>
<stop offset="0.5879" stop-color="#fff2ab"/>
<stop offset="0.5918" stop-color="#fff2ac"/>
<stop offset="0.5956" stop-color="#fff3ad"/>
<stop offset="0.5995" stop-color="#fff4af"/>
<stop offset="0.6034" stop-color="#fff5b0"/>
<stop offset="0.6072" stop-color="#fff6b2"/>
<stop offset="0.6111" stop-color="#fff8b4"/>
<stop offset="0.6150" stop-color="#fff9b5"/>
<stop offset="0.6188" stop-color="#fffab7"/>
<stop offset="0.6227" stop-color="#fffbb8"/>
<stop offset="0.6266" stop-color="#fffcba"/>
<stop offset="0.6304" stop-color="#fffdbc"/>
<stop offset="0.6343" stop-color="#fffebd"/>
<stop offset="0.6382" stop-color="#ffffbf"/>
<stop offset="0.6420" stop-color="#feffc1"/>
<stop offset="0.6459" stop-color="#fdfec3"/>
<stop offset="0.6498" stop-color="#fdfec5"/>
<stop offset="0.6536" stop-color="#fcfec6"/>
<stop offset="0.6575" stop-color="#fbfdc7"/>
<stop offset="0.6614" stop-color="#fbfdc8"/>
<stop offset="0.6652" stop-color="#fafdc9"/>
<stop offset="0.6691" stop-color="#fafdca"/>
<stop offset="0.6730" stop-color="#fafdca"/>
<stop offset="0.6769" stop-color="#fafccb"/>
<stop offset="0.6807" stop-color="#f9fccb"/>
<stop offset="0.6846" stop-color="#f9fccb"/>
<stop offset="0.6885" stop-color="#f9fccb"/>
<stop offset="0.6923" stop-color="#fafccb"/>
<stop offset="0.6962" stop-color="#fafdca"/>
<stop offset="0.7001" stop-color="#fafdc9"/>
<stop offset="0.7039" stop-color="#fbfdc8"/>
<stop offset="0.7078" stop-color="#fcfec6"/>
<stop offset="0.7117" stop-color="#fdfec3"/>
<stop offset="0.7155" stop-color="#feffc0"/>
<stop offset="0.7194" stop-color="#fffebe"/>
<stop offset="0.7233" stop-color="#fffcbb"/>
<stop offset="0.7271" stop-color="#fffab7"/>
<stop offset="0.7310" stop-color="#fff8b4"/>
<stop offset="0.7349" stop-color="#fff5b0"/>
<stop offset="0.7387" stop-color="#fff2ac"/>
<stop offset="0.7426" stop-color="#ffefa7"/>
<stop offset="0.7465" stop-color="#ffeca2"/>
<stop offset="0.7503" stop-color="#ffe89c"/>
<stop offset="0.7542" stop-color="#fee395"/>
<stop offset="0.7581" stop-color="#fedd8e"/>
<stop offset="0.7619" stop-color="#fed585"/>
<stop offset="0.7658" stop-color="#ffcb7c"/>
<stop offset="0.7697" stop-color="#fec273"/>
<stop offset="0.7735" stop-color="#feb86a"/>
<stop offset="0.7774" stop-color="#fdaf61"/>
<stop offset="0.7813" stop-color="#fca35c"/>
<stop offset="0.7851" stop-color="#fb9856"/>
<stop offset="0.7890" stop-color="#f98e51"/>
<stop offset="0.7929" stop-color="#f8844d"/>
<stop offset="0.7968" stop-color="#f67a48"/>
<stop offset="0.8006" stop-color="#f57044"/>
<stop offset="0.8045" stop-color="#f26941"/>
<stop offset="0.8084" stop-color="#f0653f"/>
<stop offset="0.8122" stop-color="#ee613c"/>
<stop offset="0.8161" stop-color="#ec5d3b"/>
<stop offset="0.8200" stop-color="#eb5b39"/>
<stop offset="0.8238" stop-color="#ea5938"/>
<stop offset="0.8277" stop-color="#e95838"/>
<stop offset="0.8316" stop-color="#e95738"/>
<stop offset="0.8354" stop-color="#e95738"/>
<stop offset="0.8393" stop-color="#e95838"/>
<stop offset="0.8432" stop-color="#ea5a39"/>
<stop offset="0.8470" stop-color="#ec5d3a"/>
<stop offset="0.8509" stop-color="#ed603c"/>
<stop offset="0.8548" stop-color="#f0643e"/>
<stop offset="0.8586" stop-color="#f26a41"/>
<stop offset="0.8625" stop-color="#f47044"/>
<stop offset="0.8664" stop-color="#f67847"/>
<stop offset="0.8702" stop-color="#f7804b"/>
<stop offset="0.8741" stop-color="#f8884f"/>
<stop offset="0.8780" stop-color="#f99052"/>
<stop offset="0.8818" stop-color="#fb9756"/>
<stop offset="0.8857" stop-color="#fb9f59"/>
<stop offset="0.8896" stop-color="#fca65d"/>
<stop offset="0.8934" stop-color="#fdac60"/>
<stop offset="0.8973" stop-color="#fdb264"/>
<stop offset="0.9012" stop-color="#feb769"/>
<stop offset="0.9050" stop-color="#febb6d"/>
<stop offset="0.9089" stop-color="#fec072"/>
<stop offset="0.9128" stop-color="#fec576"/>
<stop offset="0.9167" stop-color="#fec97a"/>
<stop offset="0.9205" stop-color="#ffcd7d"/>
<stop offset="0.9244" stop-color="#ffd081"/>
<stop offset="0.9283" stop-color="#fed384"/>
<stop offset="0.9321" stop-color="#fed686"/>
<stop offset="0.9360" stop-color="#fed888"/>
<stop offset="0.9399" stop-color="#feda8a"/>
<stop offset="0.9437" stop-color="#fedb8c"/>
<stop offset="0.9476" stop-color="#fedd8d"/>
<stop offset="0.9515" stop-color="#fedf8f"/>
<stop offset="0.9553" stop-color="#fee090"/>
<stop offset="0.9592" stop-color="#fee192"/>
<stop offset="0.9631" stop-color="#fee293"/>
<stop offset="0.9669" stop-color="#fee294"/>
<stop offset="0.9708" stop-color="#fee395"/>
<stop offset="0.9747" stop-color="#fee395"/>
<stop offset="0.9785" stop-color="#fee495"/>
<stop offset="0.9824" stop-color="#fee496"/>
<stop offset="0.9863" stop-color="#fee495"/>
<stop offset="0.9901" stop-color="#fee395"/>
<stop offset="0.9940" stop-color="#fee394"/>
<stop offset="0.9979" stop-color="#fee294"/>
</linearGradient>
<linearGradient id="g5" gradientUnits="userSpaceOnUse" x1="80.2" y1="0" x2="597.3" y2="0">
<stop offset="0.0000" stop-color="#4e7eb9"/>
<stop offset="0.0039" stop-color="#5688be"/>
<stop offset="0.0077" stop-color="#5a8dc1"/>
<stop offset="0.0116" stop-color="#5b8ec1"/>
<stop offset="0.0155" stop-color="#598bc0"/>
<stop offset="0.0193" stop-color="#5586bd"/>
<stop offset="0.0232" stop-color="#4f7fba"/>
<stop offset="0.0271" stop-color="#4777b5"/>
<stop offset="0.0309" stop-color="#446eb0"/>
<stop offset="0.0348" stop-color="#4266ad"/>
<stop offset="0.0387" stop-color="#4164ac"/>
<stop offset="0.0425" stop-color="#4267ad"/>
<stop offset="0.0464" stop-color="#436baf"/>
<stop offset="0.0503" stop-color="#436aaf"/>
<stop offset="0.0541" stop-color="#4164ac"/>
<stop offset="0.0580" stop-color="#3f5aa7"/>
<stop offset="0.0619" stop-color="#3c53a3"/>
<stop offset="0.0658" stop-color="#3e57a5"/>
<stop offset="0.0696" stop-color="#436caf"/>
<stop offset="0.0735" stop-color="#5a8cc0"/>
<stop offset="0.0774" stop-color="#83b9d7"/>
<stop offset="0.0812" stop-color="#bee2ee"/>
<stop offset="0.0851" stop-color="#e0f3f8"/>
<stop offset="0.0890" stop-color="#e9f6ea"/>
<stop offset="0.0928" stop-color="#ecf7e4"/>
<stop offset="0.0967" stop-color="#e9f6e9"/>
<stop offset="0.1006" stop-color="#e3f4f3"/>
<stop offset="0.1044" stop-color="#dcf1f7"/>
<stop offset="0.1083" stop-color="#daf0f6"/>
<stop offset="0.1122" stop-color="#dbf1f7"/>
<stop offset="0.1160" stop-color="#e0f3f8"/>
<stop offset="0.1199" stop-color="#e4f4f2"/>
<stop offset="0.1238" stop-color="#e7f5ee"/>
<stop offset="0.1276" stop-color="#e8f5ec"/>
<stop offset="0.1315" stop-color="#e8f5ec"/>
<stop offset="0.1354" stop-color="#e6f5ee"/>
<stop offset="0.1392" stop-color="#e5f5f0"/>
<stop offset="0.1431" stop-color="#e3f4f3"/>
<stop offset="0.1470" stop-color="#e2f4f5"/>
<stop offset="0.1508" stop-color="#e0f3f8"/>
<stop offset="0.1547" stop-color="#def2f8"/>
<stop offset="0.1586" stop-color="#ddf1f7"/>
<stop offset="0.1624" stop-color="#dbf0f6"/>
<stop offset="0.1663" stop-color="#d9eff6"/>
<stop offset="0.1702" stop-color="#d6eef5"/>
<stop offset="0.1740" stop-color="#d4edf5"/>
<stop offset="0.1779" stop-color="#d2ecf4"/>
<stop offset="0.1818" stop-color="#cfebf3"/>
<stop offset="0.1857" stop-color="#cde9f2"/>
<stop offset="0.1895" stop-color="#cae8f2"/>
<stop offset="0.1934" stop-color="#c8e7f1"/>
<stop offset="0.1973" stop-color="#c7e6f1"/>
<stop offset="0.2011" stop-color="#c6e6f0"/>
<stop offset="0.2050" stop-color="#c5e5f0"/>
<stop offset="0.2089" stop-color="#c4e5f0"/>
<stop offset="0.2127" stop-color="#c3e5f0"/>
<stop offset="0.2166" stop-color="#c3e5f0"/>
<stop offset="0.2205" stop-color="#c3e5f0"/>
<stop offset="0.2243" stop-color="#c4e5f0"/>
<stop offset="0.2282" stop-color="#c4e5f0"/>
<stop offset="0.2321" stop-color="#c5e5f0"/>
<stop offset="0.2359" stop-color="#c6e6f1"/>
<stop offset="0.2398" stop-color="#c8e7f1"/>
<stop offset="0.2437" stop-color="#cae8f2"/>
<stop offset="0.2475" stop-color="#cce9f2"/>
<stop offset="0.2514" stop-color="#ceeaf3"/>
<stop offset="0.2553" stop-color="#d1ecf4"/>
<stop offset="0.2591" stop-color="#d4edf5"/>
<stop offset="0.2630" stop-color="#d8eff6"/>
<stop offset="0.2669" stop-color="#dbf1f7"/>
<stop offset="0.2707" stop-color="#def2f8"/>
<stop offset="0.2746" stop-color="#e1f3f7"/>
<stop offset="0.2785" stop-color="#e2f4f5"/>
<stop offset="0.2823" stop-color="#e3f4f4"/>
<stop offset="0.2862" stop-color="#e3f4f4"/>
<stop offset="0.2901" stop-color="#e1f3f6"/>
<stop offset="0.2939" stop-color="#dff2f8"/>
<stop offset="0.2978" stop-color="#daf0f6"/>
<stop offset="0.3017" stop-color="#d6eef5"/>
<stop offset="0.3056" stop-color="#d0ebf3"/>
<stop offset="0.3094" stop-color="#cbe9f2"/>
<stop offset="0.3133" stop-color="#c7e7f1"/>
<stop offset="0.3172" stop-color="#c5e6f0"/>
<stop offset="0.3210" stop-color="#c5e6f0"/>
<stop offset="0.3249" stop-color="#c9e7f1"/>
<stop offset="0.3288" stop-color="#d0ebf3"/>
<stop offset="0.3326" stop-color="#daf0f6"/>
<stop offset="0.3365" stop-color="#e5f5f0"/>
<stop offset="0.3404" stop-color="#eef8e1"/>
<stop offset="0.3442" stop-color="#f5fbd4"/>
<stop offset="0.3481" stop-color="#fafdc9"/>
<stop offset="0.3520" stop-color="#feffc1"/>
<stop offset="0.3558" stop-color="#fffdbc"/>
<stop offset="0.3597" stop-color="#fffab8"/>
<stop offset="0.3636" stop-color="#fff9b6"/>
<stop offset="0.3674" stop-color="#fffab7"/>
<stop offset="0.3713" stop-color="#fffcbb"/>
<stop offset="0.3752" stop-color="#ffffc0"/>
<stop offset="0.3790" stop-color="#fcfdc6"/>
<stop offset="0.3829" stop-color="#f9fccd"/>
<stop offset="0.3868" stop-color="#f6fbd3"/>
<stop offset="0.3906" stop-color="#f3fad8"/>
<stop offset="0.3945" stop-color="#f1f9dc"/>
<stop offset="0.3984" stop-color="#eff8df"/>
<stop offset="0.4022" stop-color="#eef8e2"/>
<stop offset="0.4061" stop-color="#edf7e3"/>
<stop offset="0.4100" stop-color="#edf7e4"/>
<stop offset="0.4138" stop-color="#edf7e3"/>
<stop offset="0.4177" stop-color="#eef8e1"/>
<stop offset="0.4216" stop-color="#f0f9dd"/>
<stop offset="0.4254" stop-color="#f2f9d9"/>
<stop offset="0.4293" stop-color="#f5fad4"/>
<stop offset="0.4332" stop-color="#f8fccf"/>
<stop offset="0.4371" stop-color="#fafdca"/>
<stop offset="0.4409" stop-color="#fdfec4"/>
<stop offset="0.4448" stop-color="#ffffbf"/>
<stop offset="0.4487" stop-color="#fffdbc"/>
<stop offset="0.4525" stop-color="#fffbb8"/>
<stop offset="0.4564" stop-color="#fff9b6"/>
<stop offset="0.4603" stop-color="#fff7b3"/>
<stop offset="0.4641" stop-color="#fff6b2"/>
<stop offset="0.4680" stop-color="#fff5b0"/>
<stop offset="0.4719" stop-color="#fff5af"/>
<stop offset="0.4757" stop-color="#fff4af"/>
<stop offset="0.4796" stop-color="#fff4ae"/>
<stop offset="0.4835" stop-color="#fff4ae"/>
<stop offset="0.4873" stop-color="#fff3ad"/>
<stop offset="0.4912" stop-color="#fff3ad"/>
<stop offset="0.4951" stop-color="#fff3ad"/>
<stop offset="0.4989" stop-color="#fff2ac"/>
<stop offset="0.5028" stop-color="#fff2ab"/>
<stop offset="0.5067" stop-color="#fff1aa"/>
<stop offset="0.5105" stop-color="#fff1aa"/>
<stop offset="0.5144" stop-color="#fff0a9"/>
<stop offset="0.5183" stop-color="#fff0a8"/>
<stop offset="0.5221" stop-color="#ffefa7"/>
<stop offset="0.5260" stop-color="#ffeea6"/>
<stop offset="0.5299" stop-color="#ffeea4"/>
<stop offset="0.5337" stop-color="#ffeda3"/>
<stop offset="0.5376" stop-color="#ffeca2"/>
<stop offset="0.5415" stop-color="#ffeca2"/>
<stop offset="0.5453" stop-color="#ffeba1"/>
<stop offset="0.5492" stop-color="#ffeba0"/>
<stop offset="0.5531" stop-color="#ffeaa0"/>
<stop offset="0.5570" stop-color="#ffea9f"/>
<stop offset="0.5608" stop-color="#ffea9f"/>
<stop offset="0.5647" stop-color="#ffe99e"/>
<stop offset="0.5686" stop-color="#ffe99e"/>
<stop offset="0.5724" stop-color="#ffe99e"/>
<stop offset="0.5763" stop-color="#ffe99e"/>
<stop offset="0.5802" stop-color="#ffe99e"/>
<stop offset="0.5840" stop-color="#ffe99e"/>
<stop offset="0.5879" stop-color="#ffea9f"/>
<stop offset="0.5918" stop-color="#ffea9f"/>
<stop offset="0.5956" stop-color="#ffeba0"/>
<stop offset="0.5995" stop-color="#ffeba1"/>
<stop offset="0.6034" stop-color="#ffeca2"/>
<stop offset="0.6072" stop-color="#ffeda4"/>
<stop offset="0.6111" stop-color="#ffeea5"/>
<stop offset="0.6150" stop-color="#ffefa7"/>
<stop offset="0.6188" stop-color="#fff0a9"/>
<stop offset="0.6227" stop-color="#fff1aa"/>
<stop offset="0.6266" stop-color="#fff2ac"/>
<stop offset="0.6304" stop-color="#fff3ad"/>
<stop offset="0.6343" stop-color="#fff4ae"/>
<stop offset="0.6382" stop-color="#fff5af"/>
<stop offset="0.6420" stop-color="#fff5b0"/>
<stop offset="0.6459" stop-color="#fff6b1"/>
<stop offset="0.6498" stop-color="#fff6b1"/>
<stop offset="0.6536" stop-color="#fff6b1"/>
<stop offset="0.6575" stop-color="#fff6b1"/>
<stop offset="0.6614" stop-color="#fff5b0"/>
<stop offset="0.6652" stop-color="#fff4af"/>
<stop offset="0.6691" stop-color="#fff3ad"/>
<stop offset="0.6730" stop-color="#fff2ab"/>
<stop offset="0.6769" stop-color="#fff1a9"/>
<stop offset="0.6807" stop-color="#ffefa6"/>
<stop offset="0.6846" stop-color="#ffeca3"/>
<stop offset="0.6885" stop-color="#ffea9f"/>
<stop offset="0.6923" stop-color="#ffe79b"/>
<stop offset="0.6962" stop-color="#fee496"/>
<stop offset="0.7001" stop-color="#fee192"/>
<stop offset="0.7039" stop-color="#fedd8d"/>
<stop offset="0.7078" stop-color="#fed889"/>
<stop offset="0.7117" stop-color="#fed484"/>
<stop offset="0.7155" stop-color="#ffd080"/>
<stop offset="0.7194" stop-color="#ffcc7d"/>
<stop offset="0.7233" stop-color="#fec879"/>
<stop offset="0.7271" stop-color="#fec576"/>
<stop offset="0.7310" stop-color="#fec273"/>
<stop offset="0.7349" stop-color="#febf71"/>
<stop offset="0.7387" stop-color="#febd6e"/>
<stop offset="0.7426" stop-color="#febb6d"/>
<stop offset="0.7465" stop-color="#feb96b"/>
<stop offset="0.7503" stop-color="#feb76a"/>
<stop offset="0.7542" stop-color="#feb669"/>
<stop offset="0.7581" stop-color="#feb568"/>
<stop offset="0.7619" stop-color="#feb567"/>
<stop offset="0.7658" stop-color="#feb467"/>
<stop offset="0.7697" stop-color="#fdb466"/>
<stop offset="0.7735" stop-color="#fdb466"/>
<stop offset="0.7774" stop-color="#fdb466"/>
<stop offset="0.7813" stop-color="#fdb466"/>
<stop offset="0.7851" stop-color="#fdb466"/>
<stop offset="0.7890" stop-color="#feb466"/>
<stop offset="0.7929" stop-color="#feb467"/>
<stop offset="0.7968" stop-color="#feb567"/>
<stop offset="0.8006" stop-color="#feb568"/>
<stop offset="0.8045" stop-color="#feb668"/>
<stop offset="0.8084" stop-color="#feb769"/>
<stop offset="0.8122" stop-color="#feb769"/>
<stop offset="0.8161" stop-color="#feb86a"/>
<stop offset="0.8200" stop-color="#feb86b"/>
<stop offset="0.8238" stop-color="#feb96b"/>
<stop offset="0.8277" stop-color="#feba6c"/>
<stop offset="0.8316" stop-color="#feba6c"/>
<stop offset="0.8354" stop-color="#febb6d"/>
<stop offset="0.8393" stop-color="#febc6d"/>
<stop offset="0.8432" stop-color="#febc6e"/>
<stop offset="0.8470" stop-color="#febd6f"/>
<stop offset="0.8509" stop-color="#febd6f"/>
<stop offset="0.8548" stop-color="#febe70"/>
<stop offset="0.8586" stop-color="#febf70"/>
<stop offset="0.8625" stop-color="#febf71"/>
<stop offset="0.8664" stop-color="#fec071"/>
<stop offset="0.8702" stop-color="#fec072"/>
<stop offset="0.8741" stop-color="#fec072"/>
<stop offset="0.8780" stop-color="#fec172"/>
<stop offset="0.8818" stop-color="#fec172"/>
<stop offset="0.8857" stop-color="#fec173"/>
<stop offset="0.8896" stop-color="#fec173"/>
<stop offset="0.8934" stop-color="#fec173"/>
<stop offset="0.8973" stop-color="#fec173"/>
<stop offset="0.9012" stop-color="#fec173"/>
<stop offset="0.9050" stop-color="#fec173"/>
<stop offset="0.9089" stop-color="#fec173"/>
<stop offset="0.9128" stop-color="#fec173"/>
<stop offset="0.9167" stop-color="#fec172"/>
<stop offset="0.9205" stop-color="#fec172"/>
<stop offset="0.9244" stop-color="#fec072"/>
<stop offset="0.9283" stop-color="#fec072"/>
<stop offset="0.9321" stop-color="#febf71"/>
<stop offset="0.9360" stop-color="#febf70"/>
<stop offset="0.9399" stop-color="#febe70"/>
<stop offset="0.9437" stop-color="#febd6f"/>
<stop offset="0.9476" stop-color="#febc6e"/>
<stop offset="0.9515" stop-color="#febc6e"/>
<stop offset="0.9553" stop-color="#febb6d"/>
<stop offset="0.9592" stop-color="#feba6c"/>
<stop offset="0.9631" stop-color="#feb96b"/>
<stop offset="0.9669" stop-color="#feb86a"/>
<stop offset="0.9708" stop-color="#feb769"/>
<stop offset="0.9747" stop-color="#feb668"/>
<stop offset="0.9785" stop-color="#feb567"/>
<stop offset="0.9824" stop-color="#fdb466"/>
<stop offset="0.9863" stop-color="#fdb365"/>
<stop offset="0.9901" stop-color="#fdb164"/>
<stop offset="0.9940" stop-color="#fdb063"/>
<stop offset="0.9979" stop-color="#fdaf62"/>
</linearGradient>
<linearGradient id="g6" gradientUnits="userSpaceOnUse" x1="80.2" y1="0" x2="597.3" y2="0">
<stop offset="0.0000" stop-color="#4e7eb9"/>
<stop offset="0.0039" stop-color="#5384bc"/>
<stop offset="0.0077" stop-color="#5587bd"/>
<stop offset="0.0116" stop-color="#5688be"/>
<stop offset="0.0155" stop-color="#5587bd"/>
<stop offset="0.0193" stop-color="#5385bc"/>
<stop offset="0.0232" stop-color="#5081ba"/>
<stop offset="0.0271" stop-color="#4d7db8"/>
<stop offset="0.0309" stop-color="#4878b6"/>
<stop offset="0.0348" stop-color="#4575b4"/>
<stop offset="0.0387" stop-color="#4573b3"/>
<stop offset="0.0425" stop-color="#4676b5"/>
<stop offset="0.0464" stop-color="#4979b6"/>
<stop offset="0.0503" stop-color="#4979b6"/>
<stop offset="0.0541" stop-color="#4575b4"/>
<stop offset="0.0580" stop-color="#436db0"/>
<stop offset="0.0619" stop-color="#4267ad"/>
<stop offset="0.0658" stop-color="#436aaf"/>
<stop offset="0.0696" stop-color="#4b7cb8"/>
<stop offset="0.0735" stop-color="#6aa0cb"/>
<stop offset="0.0774" stop-color="#9acbe1"/>
<stop offset="0.0812" stop-color="#c9e8f2"/>
<stop offset="0.0851" stop-color="#e9f6ea"/>
<stop offset="0.0890" stop-color="#f5fad4"/>
<stop offset="0.0928" stop-color="#f7fccf"/>
<stop offset="0.0967" stop-color="#f4fad7"/>
<stop offset="0.1006" stop-color="#eef8e1"/>
<stop offset="0.1044" stop-color="#eaf6e8"/>
<stop offset="0.1083" stop-color="#e8f6eb"/>
<stop offset="0.1122" stop-color="#e9f6e9"/>
<stop offset="0.1160" stop-color="#ecf7e5"/>
<stop offset="0.1199" stop-color="#eef8e1"/>
<stop offset="0.1238" stop-color="#f0f8de"/>
<stop offset="0.1276" stop-color="#f0f9dd"/>
<stop offset="0.1315" stop-color="#eff8df"/>
<stop offset="0.1354" stop-color="#eef8e2"/>
<stop offset="0.1392" stop-color="#ecf7e5"/>
<stop offset="0.1431" stop-color="#e9f6e9"/>
<stop offset="0.1470" stop-color="#e7f5ed"/>
<stop offset="0.1508" stop-color="#e4f4f2"/>
<stop offset="0.1547" stop-color="#e0f3f8"/>
<stop offset="0.1586" stop-color="#daf0f6"/>
<stop offset="0.1624" stop-color="#d3ecf4"/>
<stop offset="0.1663" stop-color="#cae8f2"/>
<stop offset="0.1702" stop-color="#c1e4ef"/>
<stop offset="0.1740" stop-color="#b9dfed"/>
<stop offset="0.1779" stop-color="#b0dbea"/>
<stop offset="0.1818" stop-color="#a9d7e8"/>
<stop offset="0.1857" stop-color="#a3d2e5"/>
<stop offset="0.1895" stop-color="#9ecee3"/>
<stop offset="0.1934" stop-color="#9ccce2"/>
<stop offset="0.1973" stop-color="#9bcbe2"/>
<stop offset="0.2011" stop-color="#9bcce2"/>
<stop offset="0.2050" stop-color="#9dcde3"/>
<stop offset="0.2089" stop-color="#9fcfe4"/>
<stop offset="0.2127" stop-color="#a2d1e5"/>
<stop offset="0.2166" stop-color="#a5d4e6"/>
<stop offset="0.2205" stop-color="#a7d6e7"/>
<stop offset="0.2243" stop-color="#a9d8e8"/>
<stop offset="0.2282" stop-color="#abd9e9"/>
<stop offset="0.2321" stop-color="#acd9e9"/>
<stop offset="0.2359" stop-color="#acdae9"/>
<stop offset="0.2398" stop-color="#acdae9"/>
<stop offset="0.2437" stop-color="#acdae9"/>
<stop offset="0.2475" stop-color="#acd9e9"/>
<stop offset="0.2514" stop-color="#acdae9"/>
<stop offset="0.2553" stop-color="#addaea"/>
<stop offset="0.2591" stop-color="#afdbea"/>
<stop offset="0.2630" stop-color="#b2dceb"/>
<stop offset="0.2669" stop-color="#b5deec"/>
<stop offset="0.2707" stop-color="#b8dfed"/>
<stop offset="0.2746" stop-color="#bbe1ed"/>
<stop offset="0.2785" stop-color="#bee2ee"/>
<stop offset="0.2823" stop-color="#bfe3ef"/>
<stop offset="0.2862" stop-color="#bfe3ef"/>
<stop offset="0.2901" stop-color="#bee2ee"/>
<stop offset="0.2939" stop-color="#bbe1ed"/>
<stop offset="0.2978" stop-color="#b6deec"/>
<stop offset="0.3017" stop-color="#b1dceb"/>
<stop offset="0.3056" stop-color="#acd9e9"/>
<stop offset="0.3094" stop-color="#a8d7e8"/>
<stop offset="0.3133" stop-color="#a6d5e7"/>
<stop offset="0.3172" stop-color="#a7d6e7"/>
<stop offset="0.3210" stop-color="#acdae9"/>
<stop offset="0.3249" stop-color="#b5deec"/>
<stop offset="0.3288" stop-color="#c2e4ef"/>
<stop offset="0.3326" stop-color="#d2ecf4"/>
<stop offset="0.3365" stop-color="#e2f4f4"/>
<stop offset="0.3404" stop-color="#eff8e0"/>
<stop offset="0.3442" stop-color="#f9fccd"/>
<stop offset="0.3481" stop-color="#fffdbc"/>
<stop offset="0.3520" stop-color="#fff5b0"/>
<stop offset="0.3558" stop-color="#fff0a8"/>
<stop offset="0.3597" stop-color="#ffeca3"/>
<stop offset="0.3636" stop-color="#ffeaa0"/>
<stop offset="0.3674" stop-color="#ffeba0"/>
<stop offset="0.3713" stop-color="#ffeda3"/>
<stop offset="0.3752" stop-color="#fff0a9"/>
<stop offset="0.3790" stop-color="#fff5b0"/>
<stop offset="0.3829" stop-color="#fffab8"/>
<stop offset="0.3868" stop-color="#feffc0"/>
<stop offset="0.3906" stop-color="#f9fccb"/>
<stop offset="0.3945" stop-color="#f4fad6"/>
<stop offset="0.3984" stop-color="#eff8e0"/>
<stop offset="0.4022" stop-color="#e9f6ea"/>
<stop offset="0.4061" stop-color="#e3f4f3"/>
<stop offset="0.4100" stop-color="#ddf2f7"/>
<stop offset="0.4138" stop-color="#d7eef5"/>
<stop offset="0.4177" stop-color="#d2ecf4"/>
<stop offset="0.4216" stop-color="#ceeaf3"/>
<stop offset="0.4254" stop-color="#cbe8f2"/>
<stop offset="0.4293" stop-color="#c9e7f1"/>
<stop offset="0.4332" stop-color="#c7e7f1"/>
<stop offset="0.4371" stop-color="#c6e6f1"/>
<stop offset="0.4409" stop-color="#c6e6f1"/>
<stop offset="0.4448" stop-color="#c6e6f1"/>
<stop offset="0.4487" stop-color="#c7e6f1"/>
<stop offset="0.4525" stop-color="#c7e7f1"/>
<stop offset="0.4564" stop-color="#c8e7f1"/>
<stop offset="0.4603" stop-color="#c9e8f1"/>
<stop offset="0.4641" stop-color="#cae8f2"/>
<stop offset="0.4680" stop-color="#cce9f2"/>
<stop offset="0.4719" stop-color="#cdeaf3"/>
<stop offset="0.4757" stop-color="#cfeaf3"/>
<stop offset="0.4796" stop-color="#d0ebf3"/>
<stop offset="0.4835" stop-color="#d2ecf4"/>
<stop offset="0.4873" stop-color="#d4edf4"/>
<stop offset="0.4912" stop-color="#d6eef5"/>
<stop offset="0.4951" stop-color="#d7eff6"/>
<stop offset="0.4989" stop-color="#d9f0f6"/>
<stop offset="0.5028" stop-color="#dbf1f7"/>
<stop offset="0.5067" stop-color="#def2f7"/>
<stop offset="0.5105" stop-color="#e0f3f8"/>
<stop offset="0.5144" stop-color="#e2f4f5"/>
<stop offset="0.5183" stop-color="#e4f4f2"/>
<stop offset="0.5221" stop-color="#e6f5ee"/>
<stop offset="0.5260" stop-color="#e9f6ea"/>
<stop offset="0.5299" stop-color="#ecf7e6"/>
<stop offset="0.5337" stop-color="#eef8e1"/>
<stop offset="0.5376" stop-color="#f1f9dc"/>
<stop offset="0.5415" stop-color="#f4fad7"/>
<stop offset="0.5453" stop-color="#f7fbd1"/>
<stop offset="0.5492" stop-color="#fafccb"/>
<stop offset="0.5531" stop-color="#fdfec4"/>
<stop offset="0.5570" stop-color="#fffebd"/>
<stop offset="0.5608" stop-color="#fffab7"/>
<stop offset="0.5647" stop-color="#fff5b0"/>
<stop offset="0.5686" stop-color="#fff0a8"/>
<stop offset="0.5724" stop-color="#ffeba0"/>
<stop offset="0.5763" stop-color="#fee597"/>
<stop offset="0.5802" stop-color="#fede8e"/>
<stop offset="0.5840" stop-color="#fed383"/>
<stop offset="0.5879" stop-color="#fec879"/>
<stop offset="0.5918" stop-color="#febd6e"/>
<stop offset="0.5956" stop-color="#fdb264"/>
<stop offset="0.5995" stop-color="#fca55c"/>
<stop offset="0.6034" stop-color="#fa9755"/>
<stop offset="0.6072" stop-color="#f8874e"/>
<stop offset="0.6111" stop-color="#f57546"/>
<stop offset="0.6150" stop-color="#f0663f"/>
<stop offset="0.6188" stop-color="#ea5a39"/>
<stop offset="0.6227" stop-color="#e55034"/>
<stop offset="0.6266" stop-color="#e0452f"/>
<stop offset="0.6304" stop-color="#db392a"/>
<stop offset="0.6343" stop-color="#d42e27"/>
<stop offset="0.6382" stop-color="#cd2827"/>
<stop offset="0.6420" stop-color="#c62427"/>
<stop offset="0.6459" stop-color="#c22027"/>
<stop offset="0.6498" stop-color="#be1d27"/>
<stop offset="0.6536" stop-color="#bb1a27"/>
<stop offset="0.6575" stop-color="#b91827"/>
<stop offset="0.6614" stop-color="#b81727"/>
<stop offset="0.6652" stop-color="#b71727"/>
<stop offset="0.6691" stop-color="#b81727"/>
<stop offset="0.6730" stop-color="#b91827"/>
<stop offset="0.6769" stop-color="#bb1a27"/>
<stop offset="0.6807" stop-color="#be1d27"/>
<stop offset="0.6846" stop-color="#c22027"/>
<stop offset="0.6885" stop-color="#c62427"/>
<stop offset="0.6923" stop-color="#cc2827"/>
<stop offset="0.6962" stop-color="#d22c27"/>
<stop offset="0.7001" stop-color="#d83228"/>
<stop offset="0.7039" stop-color="#dc3c2b"/>
<stop offset="0.7078" stop-color="#e0462f"/>
<stop offset="0.7117" stop-color="#e54f33"/>
<stop offset="0.7155" stop-color="#e95738"/>
<stop offset="0.7194" stop-color="#ed5f3c"/>
<stop offset="0.7233" stop-color="#f16740"/>
<stop offset="0.7271" stop-color="#f46f44"/>
<stop offset="0.7310" stop-color="#f67848"/>
<stop offset="0.7349" stop-color="#f7804b"/>
<stop offset="0.7387" stop-color="#f8884e"/>
<stop offset="0.7426" stop-color="#f98e51"/>
<stop offset="0.7465" stop-color="#fa9454"/>
<stop offset="0.7503" stop-color="#fb9957"/>
<stop offset="0.7542" stop-color="#fb9e59"/>
<stop offset="0.7581" stop-color="#fca25b"/>
<stop offset="0.7619" stop-color="#fca65d"/>
<stop offset="0.7658" stop-color="#fda95f"/>
<stop offset="0.7697" stop-color="#fdac60"/>
<stop offset="0.7735" stop-color="#fdae61"/>
<stop offset="0.7774" stop-color="#fdb063"/>
<stop offset="0.7813" stop-color="#fdb164"/>
<stop offset="0.7851" stop-color="#fdb265"/>
<stop offset="0.7890" stop-color="#fdb366"/>
<stop offset="0.7929" stop-color="#fdb466"/>
<stop offset="0.7968" stop-color="#fdb466"/>
<stop offset="0.8006" stop-color="#fdb366"/>
<stop offset="0.8045" stop-color="#fdb365"/>
<stop offset="0.8084" stop-color="#fdb264"/>
<stop offset="0.8122" stop-color="#fdb063"/>
<stop offset="0.8161" stop-color="#fdaf62"/>
<stop offset="0.8200" stop-color="#fdac60"/>
<stop offset="0.8238" stop-color="#fda95e"/>
<stop offset="0.8277" stop-color="#fca65d"/>
<stop offset="0.8316" stop-color="#fca25b"/>
<stop offset="0.8354" stop-color="#fb9e59"/>
<stop offset="0.8393" stop-color="#fb9a57"/>
<stop offset="0.8432" stop-color="#fa9755"/>
<stop offset="0.8470" stop-color="#fa9354"/>
<stop offset="0.8509" stop-color="#fa9052"/>
<stop offset="0.8548" stop-color="#f98d51"/>
<stop offset="0.8586" stop-color="#f9894f"/>
<stop offset="0.8625" stop-color="#f8864e"/>
<stop offset="0.8664" stop-color="#f8834c"/>
<stop offset="0.8702" stop-color="#f77f4b"/>
<stop offset="0.8741" stop-color="#f77c49"/>
<stop offset="0.8780" stop-color="#f67948"/>
<stop offset="0.8818" stop-color="#f67647"/>
<stop offset="0.8857" stop-color="#f57446"/>
<stop offset="0.8896" stop-color="#f57145"/>
<stop offset="0.8934" stop-color="#f46f44"/>
<stop offset="0.8973" stop-color="#f46d43"/>
<stop offset="0.9012" stop-color="#f36c42"/>
<stop offset="0.9050" stop-color="#f36a42"/>
<stop offset="0.9089" stop-color="#f26941"/>
<stop offset="0.9128" stop-color="#f26840"/>
<stop offset="0.9167" stop-color="#f16840"/>
<stop offset="0.9205" stop-color="#f16840"/>
<stop offset="0.9244" stop-color="#f16840"/>
<stop offset="0.9283" stop-color="#f26840"/>
<stop offset="0.9321" stop-color="#f26941"/>
<stop offset="0.9360" stop-color="#f36b42"/>
<stop offset="0.9399" stop-color="#f36c42"/>
<stop offset="0.9437" stop-color="#f46e43"/>
<stop offset="0.9476" stop-color="#f57044"/>
<stop offset="0.9515" stop-color="#f57345"/>
<stop offset="0.9553" stop-color="#f57546"/>
<stop offset="0.9592" stop-color="#f67847"/>
<stop offset="0.9631" stop-color="#f67a48"/>
<stop offset="0.9669" stop-color="#f77d4a"/>
<stop offset="0.9708" stop-color="#f77f4b"/>
<stop offset="0.9747" stop-color="#f7824c"/>
<stop offset="0.9785" stop-color="#f8854d"/>
<stop offset="0.9824" stop-color="#f8884f"/>
<stop offset="0.9863" stop-color="#f98b50"/>
<stop offset="0.9901" stop-color="#f98f52"/>
<stop offset="0.9940" stop-color="#fa9253"/>
<stop offset="0.9979" stop-color="#fa9655"/>
</linearGradient>
<linearGradient id="g7" gradientUnits="userSpaceOnUse" x1="80.2" y1="0" x2="597.3" y2="0">
<stop offset="0.0000" stop-color="#4f80ba"/>
<stop offset="0.0039" stop-color="#5586bd"/>
<stop offset="0.0077" stop-color="#5789bf"/>
<stop offset="0.0116" stop-color="#5789bf"/>
<stop offset="0.0155" stop-color="#5587bd"/>
<stop offset="0.0193" stop-color="#5182bb"/>
<stop offset="0.0232" stop-color="#4b7bb7"/>
<stop offset="0.0271" stop-color="#4574b3"/>
<stop offset="0.0309" stop-color="#436aaf"/>
<stop offset="0.0348" stop-color="#4162ab"/>
<stop offset="0.0387" stop-color="#405ea9"/>
<stop offset="0.0425" stop-color="#405fa9"/>
<stop offset="0.0464" stop-color="#4162ab"/>
<stop offset="0.0503" stop-color="#4161aa"/>
<stop offset="0.0541" stop-color="#3f5aa7"/>
<stop offset="0.0580" stop-color="#394a9f"/>
<stop offset="0.0619" stop-color="#323997"/>
<stop offset="0.0658" stop-color="#333b97"/>
<stop offset="0.0696" stop-color="#3e59a6"/>
<stop offset="0.0735" stop-color="#5b8dc1"/>
<stop offset="0.0774" stop-color="#90c3dd"/>
<stop offset="0.0812" stop-color="#c4e5f0"/>
<stop offset="0.0851" stop-color="#e5f4f1"/>
<stop offset="0.0890" stop-color="#f1f9dc"/>
<stop offset="0.0928" stop-color="#f6fbd3"/>
<stop offset="0.0967" stop-color="#f2f9da"/>
<stop offset="0.1006" stop-color="#ebf7e6"/>
<stop offset="0.1044" stop-color="#e6f5ef"/>
<stop offset="0.1083" stop-color="#e4f4f2"/>
<stop offset="0.1122" stop-color="#e4f4f2"/>
<stop offset="0.1160" stop-color="#e5f5f0"/>
<stop offset="0.1199" stop-color="#e8f5ec"/>
<stop offset="0.1238" stop-color="#eaf6e8"/>
<stop offset="0.1276" stop-color="#ebf7e6"/>
<stop offset="0.1315" stop-color="#ecf7e4"/>
<stop offset="0.1354" stop-color="#edf7e4"/>
<stop offset="0.1392" stop-color="#ecf7e4"/>
<stop offset="0.1431" stop-color="#ecf7e5"/>
<stop offset="0.1470" stop-color="#ebf7e6"/>
<stop offset="0.1508" stop-color="#eaf6e8"/>
<stop offset="0.1547" stop-color="#e9f6ea"/>
<stop offset="0.1586" stop-color="#e7f5ec"/>
<stop offset="0.1624" stop-color="#e6f5ef"/>
<stop offset="0.1663" stop-color="#e4f4f2"/>
<stop offset="0.1702" stop-color="#e2f4f5"/>
<stop offset="0.1740" stop-color="#e0f3f8"/>
<stop offset="0.1779" stop-color="#dcf1f7"/>
<stop offset="0.1818" stop-color="#d8eff6"/>
<stop offset="0.1857" stop-color="#d4edf5"/>
<stop offset="0.1895" stop-color="#d0ebf3"/>
<stop offset="0.1934" stop-color="#cbe9f2"/>
<stop offset="0.1973" stop-color="#c6e6f1"/>
<stop offset="0.2011" stop-color="#c1e4ef"/>
<stop offset="0.2050" stop-color="#bde2ee"/>
<stop offset="0.2089" stop-color="#b9dfed"/>
<stop offset="0.2127" stop-color="#b5deec"/>
<stop offset="0.2166" stop-color="#b2dceb"/>
<stop offset="0.2205" stop-color="#afdbea"/>
<stop offset="0.2243" stop-color="#addaea"/>
<stop offset="0.2282" stop-color="#acd9e9"/>
<stop offset="0.2321" stop-color="#abd9e9"/>
<stop offset="0.2359" stop-color="#aad8e9"/>
<stop offset="0.2398" stop-color="#aad8e8"/>
<stop offset="0.2437" stop-color="#aad8e9"/>
<stop offset="0.2475" stop-color="#aad8e9"/>
<stop offset="0.2514" stop-color="#abd9e9"/>
<stop offset="0.2553" stop-color="#abd9e9"/>
<stop offset="0.2591" stop-color="#acdae9"/>
<stop offset="0.2630" stop-color="#addae9"/>
<stop offset="0.2669" stop-color="#addaea"/>
<stop offset="0.2707" stop-color="#aedaea"/>
<stop offset="0.2746" stop-color="#aedaea"/>
<stop offset="0.2785" stop-color="#aedbea"/>
<stop offset="0.2823" stop-color="#afdbea"/>
<stop offset="0.2862" stop-color="#b0dbea"/>
<stop offset="0.2901" stop-color="#b1dceb"/>
<stop offset="0.2939" stop-color="#b2dceb"/>
<stop offset="0.2978" stop-color="#b4ddeb"/>
<stop offset="0.3017" stop-color="#b6deec"/>
<stop offset="0.3056" stop-color="#b8dfec"/>
<stop offset="0.3094" stop-color="#bae0ed"/>
<stop offset="0.3133" stop-color="#bde1ee"/>
<stop offset="0.3172" stop-color="#bfe3ef"/>
<stop offset="0.3210" stop-color="#c2e4ef"/>
<stop offset="0.3249" stop-color="#c4e5f0"/>
<stop offset="0.3288" stop-color="#c7e6f1"/>
<stop offset="0.3326" stop-color="#c9e7f1"/>
<stop offset="0.3365" stop-color="#cbe8f2"/>
<stop offset="0.3404" stop-color="#cde9f2"/>
<stop offset="0.3442" stop-color="#ceeaf3"/>
<stop offset="0.3481" stop-color="#d0ebf3"/>
<stop offset="0.3520" stop-color="#d1ebf4"/>
<stop offset="0.3558" stop-color="#d2ecf4"/>
<stop offset="0.3597" stop-color="#d3ecf4"/>
<stop offset="0.3636" stop-color="#d3edf4"/>
<stop offset="0.3674" stop-color="#d4edf4"/>
<stop offset="0.3713" stop-color="#d4edf5"/>
<stop offset="0.3752" stop-color="#d4edf5"/>
<stop offset="0.3790" stop-color="#d4edf4"/>
<stop offset="0.3829" stop-color="#d3edf4"/>
<stop offset="0.3868" stop-color="#d2ecf4"/>
<stop offset="0.3906" stop-color="#d1ebf4"/>
<stop offset="0.3945" stop-color="#cfebf3"/>
<stop offset="0.3984" stop-color="#cdeaf3"/>
<stop offset="0.4022" stop-color="#cbe9f2"/>
<stop offset="0.4061" stop-color="#c9e7f1"/>
<stop offset="0.4100" stop-color="#c7e6f1"/>
<stop offset="0.4138" stop-color="#c5e5f0"/>
<stop offset="0.4177" stop-color="#c3e4f0"/>
<stop offset="0.4216" stop-color="#c1e4ef"/>
<stop offset="0.4254" stop-color="#c0e3ef"/>
<stop offset="0.4293" stop-color="#bfe3ef"/>
<stop offset="0.4332" stop-color="#bfe2ee"/>
<stop offset="0.4371" stop-color="#bee2ee"/>
<stop offset="0.4409" stop-color="#bee2ee"/>
<stop offset="0.4448" stop-color="#bfe2ef"/>
<stop offset="0.4487" stop-color="#bfe3ef"/>
<stop offset="0.4525" stop-color="#c0e3ef"/>
<stop offset="0.4564" stop-color="#c1e3ef"/>
<stop offset="0.4603" stop-color="#c2e4ef"/>
<stop offset="0.4641" stop-color="#c3e4f0"/>
<stop offset="0.4680" stop-color="#c4e5f0"/>
<stop offset="0.4719" stop-color="#c5e6f0"/>
<stop offset="0.4757" stop-color="#c7e6f1"/>
<stop offset="0.4796" stop-color="#c9e7f1"/>
<stop offset="0.4835" stop-color="#cbe8f2"/>
<stop offset="0.4873" stop-color="#cdeaf3"/>
<stop offset="0.4912" stop-color="#d1ebf4"/>
<stop offset="0.4951" stop-color="#d4edf5"/>
<stop offset="0.4989" stop-color="#d8eff6"/>
<stop offset="0.5028" stop-color="#dcf1f7"/>
<stop offset="0.5067" stop-color="#e0f3f8"/>
<stop offset="0.5105" stop-color="#e3f4f3"/>
<stop offset="0.5144" stop-color="#e6f5ee"/>
<stop offset="0.5183" stop-color="#eaf6e9"/>
<stop offset="0.5221" stop-color="#edf7e3"/>
<stop offset="0.5260" stop-color="#f1f9dd"/>
<stop offset="0.5299" stop-color="#f4fad6"/>
<stop offset="0.5337" stop-color="#f8fccf"/>
<stop offset="0.5376" stop-color="#fbfdc8"/>
<stop offset="0.5415" stop-color="#feffc0"/>
<stop offset="0.5453" stop-color="#fffcba"/>
<stop offset="0.5492" stop-color="#fff8b4"/>
<stop offset="0.5531" stop-color="#fff4af"/>
<stop offset="0.5570" stop-color="#fff1a9"/>
<stop offset="0.5608" stop-color="#ffeda4"/>
<stop offset="0.5647" stop-color="#ffe99e"/>
<stop offset="0.5686" stop-color="#ffe699"/>
<stop offset="0.5724" stop-color="#fee394"/>
<stop offset="0.5763" stop-color="#fedf8f"/>
<stop offset="0.5802" stop-color="#feda8a"/>
<stop offset="0.5840" stop-color="#fed585"/>
<stop offset="0.5879" stop-color="#ffd181"/>
<stop offset="0.5918" stop-color="#ffcd7d"/>
<stop offset="0.5956" stop-color="#fec97a"/>
<stop offset="0.5995" stop-color="#fec677"/>
<stop offset="0.6034" stop-color="#fec374"/>
<stop offset="0.6072" stop-color="#fec071"/>
<stop offset="0.6111" stop-color="#febd6f"/>
<stop offset="0.6150" stop-color="#febb6d"/>
<stop offset="0.6188" stop-color="#feb86b"/>
<stop offset="0.6227" stop-color="#feb668"/>
<stop offset="0.6266" stop-color="#feb467"/>
<stop offset="0.6304" stop-color="#fdb265"/>
<stop offset="0.6343" stop-color="#fdb164"/>
<stop offset="0.6382" stop-color="#fdb063"/>
<stop offset="0.6420" stop-color="#fdaf62"/>
<stop offset="0.6459" stop-color="#fdae61"/>
<stop offset="0.6498" stop-color="#fdad60"/>
<stop offset="0.6536" stop-color="#fdab60"/>
<stop offset="0.6575" stop-color="#fdaa5f"/>
<stop offset="0.6614" stop-color="#fda95e"/>
<stop offset="0.6652" stop-color="#fca85e"/>
<stop offset="0.6691" stop-color="#fca75e"/>
<stop offset="0.6730" stop-color="#fca75e"/>
<stop offset="0.6769" stop-color="#fca75d"/>
<stop offset="0.6807" stop-color="#fca75e"/>
<stop offset="0.6846" stop-color="#fca85e"/>
<stop offset="0.6885" stop-color="#fca85e"/>
<stop offset="0.6923" stop-color="#fca85e"/>
<stop offset="0.6962" stop-color="#fda95e"/>
<stop offset="0.7001" stop-color="#fdaa5f"/>
<stop offset="0.7039" stop-color="#fdaa5f"/>
<stop offset="0.7078" stop-color="#fdab5f"/>
<stop offset="0.7117" stop-color="#fdac60"/>
<stop offset="0.7155" stop-color="#fdad60"/>
<stop offset="0.7194" stop-color="#fdad61"/>
<stop offset="0.7233" stop-color="#fdae61"/>
<stop offset="0.7271" stop-color="#fdaf62"/>
<stop offset="0.7310" stop-color="#fdb062"/>
<stop offset="0.7349" stop-color="#fdb063"/>
<stop offset="0.7387" stop-color="#fdb164"/>
<stop offset="0.7426" stop-color="#fdb164"/>
<stop offset="0.7465" stop-color="#fdb265"/>
<stop offset="0.7503" stop-color="#fdb265"/>
<stop offset="0.7542" stop-color="#fdb365"/>
<stop offset="0.7581" stop-color="#fdb366"/>
<stop offset="0.7619" stop-color="#fdb466"/>
<stop offset="0.7658" stop-color="#fdb466"/>
<stop offset="0.7697" stop-color="#feb467"/>
<stop offset="0.7735" stop-color="#feb467"/>
<stop offset="0.7774" stop-color="#feb467"/>
<stop offset="0.7813" stop-color="#feb467"/>
<stop offset="0.7851" stop-color="#feb467"/>
<stop offset="0.7890" stop-color="#feb467"/>
<stop offset="0.7929" stop-color="#feb467"/>
<stop offset="0.7968" stop-color="#fdb466"/>
<stop offset="0.8006" stop-color="#fdb466"/>
<stop offset="0.8045" stop-color="#fdb366"/>
<stop offset="0.8084" stop-color="#fdb365"/>
<stop offset="0.8122" stop-color="#fdb265"/>
<stop offset="0.8161" stop-color="#fdb264"/>
<stop offset="0.8200" stop-color="#fdb164"/>
<stop offset="0.8238" stop-color="#fdb063"/>
<stop offset="0.8277" stop-color="#fdaf62"/>
<stop offset="0.8316" stop-color="#fdae61"/>
<stop offset="0.8354" stop-color="#fdad61"/>
<stop offset="0.8393" stop-color="#fdac60"/>
<stop offset="0.8432" stop-color="#fdaa5f"/>
<stop offset="0.8470" stop-color="#fda95e"/>
<stop offset="0.8509" stop-color="#fca75e"/>
<stop offset="0.8548" stop-color="#fca55d"/>
<stop offset="0.8586" stop-color="#fca35c"/>
<stop offset="0.8625" stop-color="#fca15b"/>
<stop offset="0.8664" stop-color="#fb9f5a"/>
<stop offset="0.8702" stop-color="#fb9d59"/>
<stop offset="0.8741" stop-color="#fb9b58"/>
<stop offset="0.8780" stop-color="#fb9957"/>
<stop offset="0.8818" stop-color="#fa9756"/>
<stop offset="0.8857" stop-color="#fa9555"/>
<stop offset="0.8896" stop-color="#fa9354"/>
<stop offset="0.8934" stop-color="#fa9153"/>
<stop offset="0.8973" stop-color="#f98f52"/>
<stop offset="0.9012" stop-color="#f98d51"/>
<stop offset="0.9050" stop-color="#f98b50"/>
<stop offset="0.9089" stop-color="#f9894f"/>
<stop offset="0.9128" stop-color="#f8874e"/>
<stop offset="0.9167" stop-color="#f8854d"/>
<stop offset="0.9205" stop-color="#f8834c"/>
<stop offset="0.9244" stop-color="#f7814b"/>
<stop offset="0.9283" stop-color="#f77f4a"/>
<stop offset="0.9321" stop-color="#f77d4a"/>
<stop offset="0.9360" stop-color="#f67b49"/>
<stop offset="0.9399" stop-color="#f67948"/>
<stop offset="0.9437" stop-color="#f67647"/>
<stop offset="0.9476" stop-color="#f57446"/>
<stop offset="0.9515" stop-color="#f57245"/>
<stop offset="0.9553" stop-color="#f47044"/>
<stop offset="0.9592" stop-color="#f46d43"/>
<stop offset="0.9631" stop-color="#f36b42"/>
<stop offset="0.9669" stop-color="#f26941"/>
<stop offset="0.9708" stop-color="#f16740"/>
<stop offset="0.9747" stop-color="#f0653f"/>
<stop offset="0.9785" stop-color="#ef643e"/>
<stop offset="0.9824" stop-color="#ee623d"/>
<stop offset="0.9863" stop-color="#ed603c"/>
<stop offset="0.9901" stop-color="#ec5e3b"/>
<stop offset="0.9940" stop-color="#eb5c3a"/>
<stop offset="0.9979" stop-color="#ea5a39"/>
</linearGradient>
<linearGradient id="lg" x1="0" y1="1" x2="0" y2="0">
<stop offset="0.000" stop-color="#313695"/>
<stop offset="0.025" stop-color="#38469d"/>
<stop offset="0.050" stop-color="#3d55a5"/>
<stop offset="0.075" stop-color="#4265ac"/>
<stop offset="0.100" stop-color="#4575b4"/>
<stop offset="0.125" stop-color="#5283bb"/>
<stop offset="0.150" stop-color="#5e91c3"/>
<stop offset="0.175" stop-color="#699fca"/>
<stop offset="0.200" stop-color="#74add1"/>
<stop offset="0.225" stop-color="#82b8d7"/>
<stop offset="0.250" stop-color="#90c3dd"/>
<stop offset="0.275" stop-color="#9ecee3"/>
<stop offset="0.300" stop-color="#abd9e9"/>
<stop offset="0.325" stop-color="#b9dfed"/>
<stop offset="0.350" stop-color="#c6e6f0"/>
<stop offset="0.375" stop-color="#d3ecf4"/>
<stop offset="0.400" stop-color="#e0f3f8"/>
<stop offset="0.425" stop-color="#e9f6ea"/>
<stop offset="0.450" stop-color="#f1f9dc"/>
<stop offset="0.475" stop-color="#f8fcce"/>
<stop offset="0.500" stop-color="#ffffbf"/>
<stop offset="0.525" stop-color="#fff7b3"/>
<stop offset="0.550" stop-color="#ffefa7"/>
<stop offset="0.575" stop-color="#ffe89c"/>
<stop offset="0.600" stop-color="#fee090"/>
<stop offset="0.625" stop-color="#fed484"/>
<stop offset="0.650" stop-color="#fec778"/>
<stop offset="0.675" stop-color="#febb6d"/>
<stop offset="0.700" stop-color="#fdae61"/>
<stop offset="0.725" stop-color="#fb9f59"/>
<stop offset="0.750" stop-color="#f98f52"/>
<stop offset="0.775" stop-color="#f77e4a"/>
<stop offset="0.800" stop-color="#f46d43"/>
<stop offset="0.825" stop-color="#ed5f3c"/>
<stop offset="0.850" stop-color="#e65135"/>
<stop offset="0.875" stop-color="#de422e"/>
<stop offset="0.900" stop-color="#d73027"/>
<stop offset="0.925" stop-color="#ca2727"/>
<stop offset="0.950" stop-color="#be1d27"/>
<stop offset="0.975" stop-color="#b11027"/>
<stop offset="1.000" stop-color="#a50026"/>
</linearGradient></defs>
<path d="M80.2,125.20 L81.2,124.48 L82.2,123.89 L83.2,123.42 L84.2,123.08 L85.2,122.84 L86.2,122.72 L87.2,122.70 L88.2,122.78 L89.2,122.95 L90.2,123.21 L91.2,123.55 L92.2,123.97 L93.2,124.46 L94.2,125.02 L95.2,125.64 L96.2,126.27 L97.2,126.84 L98.2,127.30 L99.2,127.57 L100.2,127.61 L101.2,127.46 L102.2,127.22 L103.2,127.00 L104.2,126.90 L105.2,127.00 L106.2,127.35 L107.2,127.95 L108.2,128.83 L109.2,130.00 L110.2,131.41 L111.2,132.73 L112.2,133.56 L113.2,133.50 L114.2,132.34 L115.2,130.26 L116.2,127.52 L117.2,124.21 L118.2,120.19 L119.2,115.51 L120.2,110.40 L121.2,105.08 L122.2,99.70 L123.2,94.40 L124.2,89.44 L125.2,85.47 L126.2,83.03 L127.2,81.90 L128.2,81.77 L129.2,82.31 L130.2,83.28 L131.2,84.47 L132.2,85.67 L133.2,86.75 L134.2,87.70 L135.2,88.49 L136.2,89.10 L137.2,89.53 L138.2,89.80 L139.2,89.94 L140.2,89.96 L141.2,89.91 L142.2,89.79 L143.2,89.66 L144.2,89.52 L145.2,89.38 L146.2,89.25 L147.2,89.11 L148.2,88.95 L149.2,88.77 L150.2,88.56 L151.2,88.32 L152.2,88.05 L153.2,87.78 L154.2,87.52 L155.2,87.32 L156.2,87.19 L157.2,87.16 L158.2,87.26 L159.2,87.50 L160.2,87.87 L161.2,88.38 L162.2,89.01 L163.2,89.76 L164.2,90.62 L165.2,91.58 L166.2,92.62 L167.2,93.72 L168.2,94.84 L169.2,95.97 L170.2,97.07 L171.2,98.12 L172.2,99.11 L173.2,100.02 L174.2,100.86 L175.2,101.62 L176.2,102.30 L177.2,102.88 L178.2,103.37 L179.2,103.75 L180.2,103.99 L181.2,104.10 L182.2,104.05 L183.2,103.86 L184.2,103.55 L185.2,103.14 L186.2,102.67 L187.2,102.16 L188.2,101.64 L189.2,101.12 L190.2,100.63 L191.2,100.17 L192.2,99.76 L193.2,99.42 L194.2,99.15 L195.2,98.97 L196.2,98.90 L197.2,98.94 L198.2,99.09 L199.2,99.31 L200.2,99.59 L201.2,99.91 L202.2,100.24 L203.2,100.55 L204.2,100.84 L205.2,101.08 L206.2,101.26 L207.2,101.39 L208.2,101.45 L209.2,101.44 L210.2,101.36 L211.2,101.19 L212.2,100.95 L213.2,100.65 L214.2,100.29 L215.2,99.87 L216.2,99.41 L217.2,98.90 L218.2,98.36 L219.2,97.80 L220.2,97.25 L221.2,96.72 L222.2,96.22 L223.2,95.79 L224.2,95.43 L225.2,95.17 L226.2,95.02 L227.2,95.01 L228.2,95.14 L229.2,95.40 L230.2,95.78 L231.2,96.26 L232.2,96.82 L233.2,97.45 L234.2,98.14 L235.2,98.87 L236.2,99.63 L237.2,100.39 L238.2,101.15 L239.2,101.88 L240.2,102.54 L241.2,103.07 L242.2,103.44 L243.2,103.59 L244.2,103.48 L245.2,103.06 L246.2,102.36 L247.2,101.39 L248.2,100.16 L249.2,98.69 L250.2,96.99 L251.2,95.13 L252.2,93.13 L253.2,91.04 L254.2,88.92 L255.2,86.80 L256.2,84.73 L257.2,82.72 L258.2,80.82 L259.2,79.04 L260.2,77.40 L261.2,75.94 L262.2,74.66 L263.2,73.57 L264.2,72.65 L265.2,71.90 L266.2,71.30 L267.2,70.85 L268.2,70.55 L269.2,70.40 L270.2,70.42 L271.2,70.61 L272.2,70.92 L273.2,71.33 L274.2,71.80 L275.2,72.30 L276.2,72.81 L277.2,73.31 L278.2,73.78 L279.2,74.21 L280.2,74.58 L281.2,74.88 L282.2,75.11 L283.2,75.26 L284.2,75.33 L285.2,75.33 L286.2,75.27 L287.2,75.14 L288.2,74.96 L289.2,74.74 L290.2,74.48 L291.2,74.21 L292.2,73.92 L293.2,73.63 L294.2,73.35 L295.2,73.09 L296.2,72.85 L297.2,72.63 L298.2,72.43 L299.2,72.25 L300.2,72.08 L301.2,71.94 L302.2,71.81 L303.2,71.70 L304.2,71.60 L305.2,71.52 L306.2,71.45 L307.2,71.40 L308.2,71.36 L309.2,71.33 L310.2,71.31 L311.2,71.30 L312.2,71.30 L313.2,71.30 L314.2,71.30 L315.2,71.31 L316.2,71.32 L317.2,71.34 L318.2,71.36 L319.2,71.39 L320.2,71.42 L321.2,71.46 L322.2,71.51 L323.2,71.56 L324.2,71.63 L325.2,71.70 L326.2,71.78 L327.2,71.87 L328.2,71.97 L329.2,72.08 L330.2,72.21 L331.2,72.36 L332.2,72.52 L333.2,72.70 L334.2,72.90 L335.2,73.12 L336.2,73.35 L337.2,73.60 L338.2,73.86 L339.2,74.12 L340.2,74.39 L341.2,74.67 L342.2,74.94 L343.2,75.22 L344.2,75.49 L345.2,75.75 L346.2,76.01 L347.2,76.27 L348.2,76.52 L349.2,76.76 L350.2,77.00 L351.2,77.23 L352.2,77.46 L353.2,77.68 L354.2,77.89 L355.2,78.10 L356.2,78.29 L357.2,78.46 L358.2,78.62 L359.2,78.74 L360.2,78.84 L361.2,78.90 L362.2,78.92 L363.2,78.90 L364.2,78.83 L365.2,78.72 L366.2,78.56 L367.2,78.36 L368.2,78.12 L369.2,77.85 L370.2,77.54 L371.2,77.19 L372.2,76.80 L373.2,76.39 L374.2,75.94 L375.2,75.44 L376.2,74.91 L377.2,74.32 L378.2,73.69 L379.2,73.01 L380.2,72.28 L381.2,71.48 L382.2,70.63 L383.2,69.73 L384.2,68.76 L385.2,67.74 L386.2,66.67 L387.2,65.53 L388.2,64.35 L389.2,63.10 L390.2,61.81 L391.2,60.48 L392.2,59.10 L393.2,57.69 L394.2,56.24 L395.2,54.76 L396.2,53.25 L397.2,51.74 L398.2,50.22 L399.2,48.72 L400.2,47.24 L401.2,45.79 L402.2,44.38 L403.2,43.00 L404.2,41.66 L405.2,40.34 L406.2,39.04 L407.2,37.77 L408.2,36.52 L409.2,35.28 L410.2,34.06 L411.2,32.84 L412.2,31.63 L413.2,30.42 L414.2,29.21 L415.2,28.02 L416.2,26.85 L417.2,25.73 L418.2,24.66 L419.2,23.65 L420.2,22.71 L421.2,21.86 L422.2,21.10 L423.2,20.44 L424.2,19.86 L425.2,19.36 L426.2,18.92 L427.2,18.53 L428.2,18.19 L429.2,17.88 L430.2,17.60 L431.2,17.35 L432.2,17.13 L433.2,16.94 L434.2,16.77 L435.2,16.63 L436.2,16.52 L437.2,16.44 L438.2,16.40 L439.2,16.41 L440.2,16.45 L441.2,16.53 L442.2,16.64 L443.2,16.79 L444.2,16.97 L445.2,17.17 L446.2,17.40 L447.2,17.65 L448.2,17.92 L449.2,18.21 L450.2,18.51 L451.2,18.82 L452.2,19.14 L453.2,19.47 L454.2,19.80 L455.2,20.12 L456.2,20.45 L457.2,20.77 L458.2,21.09 L459.2,21.40 L460.2,21.70 L461.2,22.00 L462.2,22.28 L463.2,22.55 L464.2,22.80 L465.2,23.04 L466.2,23.27 L467.2,23.48 L468.2,23.68 L469.2,23.86 L470.2,24.04 L471.2,24.20 L472.2,24.36 L473.2,24.50 L474.2,24.64 L475.2,24.76 L476.2,24.89 L477.2,25.01 L478.2,25.13 L479.2,25.26 L480.2,25.39 L481.2,25.53 L482.2,25.67 L483.2,25.83 L484.2,26.00 L485.2,26.19 L486.2,26.38 L487.2,26.58 L488.2,26.79 L489.2,27.00 L490.2,27.22 L491.2,27.44 L492.2,27.67 L493.2,27.90 L494.2,28.14 L495.2,28.40 L496.2,28.67 L497.2,28.97 L498.2,29.30 L499.2,29.66 L500.2,30.04 L501.2,30.44 L502.2,30.86 L503.2,31.29 L504.2,31.73 L505.2,32.20 L506.2,32.69 L507.2,33.22 L508.2,33.80 L509.2,34.43 L510.2,35.11 L511.2,35.83 L512.2,36.58 L513.2,37.36 L514.2,38.16 L515.2,38.98 L516.2,39.81 L517.2,40.67 L518.2,41.55 L519.2,42.46 L520.2,43.39 L521.2,44.34 L522.2,45.32 L523.2,46.30 L524.2,47.30 L525.2,48.30 L526.2,49.31 L527.2,50.31 L528.2,51.31 L529.2,52.30 L530.2,53.28 L531.2,54.23 L532.2,55.14 L533.2,56.00 L534.2,56.78 L535.2,57.48 L536.2,58.10 L537.2,58.67 L538.2,59.19 L539.2,59.70 L540.2,60.20 L541.2,60.72 L542.2,61.25 L543.2,61.77 L544.2,62.29 L545.2,62.80 L546.2,63.29 L547.2,63.75 L548.2,64.18 L549.2,64.57 L550.2,64.92 L551.2,65.22 L552.2,65.49 L553.2,65.71 L554.2,65.89 L555.2,66.03 L556.2,66.13 L557.2,66.19 L558.2,66.21 L559.2,66.19 L560.2,66.13 L561.2,66.02 L562.2,65.88 L563.2,65.70 L564.2,65.49 L565.2,65.23 L566.2,64.94 L567.2,64.61 L568.2,64.24 L569.2,63.85 L570.2,63.43 L571.2,62.98 L572.2,62.51 L573.2,62.02 L574.2,61.51 L575.2,60.99 L576.2,60.46 L577.2,59.91 L578.2,59.35 L579.2,58.77 L580.2,58.18 L581.2,57.57 L582.2,56.94 L583.2,56.31 L584.2,55.66 L585.2,55.01 L586.2,54.35 L587.2,53.69 L588.2,53.02 L589.2,52.34 L590.2,51.66 L591.2,50.97 L592.2,50.27 L593.2,49.57 L594.2,48.86 L595.2,48.14 L596.2,47.41 L597.2,46.67 L597.3,358.2 L80.2,358.2 Z" fill="url(#g1)" stroke="none"/>
<path d="M80.2,125.20 L81.2,124.48 L82.2,123.89 L83.2,123.42 L84.2,123.08 L85.2,122.84 L86.2,122.72 L87.2,122.70 L88.2,122.78 L89.2,122.95 L90.2,123.21 L91.2,123.55 L92.2,123.97 L93.2,124.46 L94.2,125.02 L95.2,125.64 L96.2,126.27 L97.2,126.84 L98.2,127.30 L99.2,127.57 L100.2,127.61 L101.2,127.46 L102.2,127.22 L103.2,127.00 L104.2,126.90 L105.2,127.00 L106.2,127.35 L107.2,127.95 L108.2,128.83 L109.2,130.00 L110.2,131.41 L111.2,132.73 L112.2,133.56 L113.2,133.50 L114.2,132.34 L115.2,130.26 L116.2,127.52 L117.2,124.21 L118.2,120.19 L119.2,115.51 L120.2,110.40 L121.2,105.08 L122.2,99.70 L123.2,94.40 L124.2,89.44 L125.2,85.47 L126.2,83.03 L127.2,81.90 L128.2,81.77 L129.2,82.31 L130.2,83.28 L131.2,84.47 L132.2,85.67 L133.2,86.75 L134.2,87.70 L135.2,88.49 L136.2,89.10 L137.2,89.53 L138.2,89.80 L139.2,89.94 L140.2,89.96 L141.2,89.91 L142.2,89.79 L143.2,89.66 L144.2,89.52 L145.2,89.38 L146.2,89.25 L147.2,89.11 L148.2,88.95 L149.2,88.77 L150.2,88.56 L151.2,88.32 L152.2,88.05 L153.2,87.78 L154.2,87.52 L155.2,87.32 L156.2,87.19 L157.2,87.16 L158.2,87.26 L159.2,87.50 L160.2,87.87 L161.2,88.38 L162.2,89.01 L163.2,89.76 L164.2,90.62 L165.2,91.58 L166.2,92.62 L167.2,93.72 L168.2,94.84 L169.2,95.97 L170.2,97.07 L171.2,98.12 L172.2,99.11 L173.2,100.02 L174.2,100.86 L175.2,101.62 L176.2,102.30 L177.2,102.88 L178.2,103.37 L179.2,103.75 L180.2,103.99 L181.2,104.10 L182.2,104.05 L183.2,103.86 L184.2,103.55 L185.2,103.14 L186.2,102.67 L187.2,102.16 L188.2,101.64 L189.2,101.12 L190.2,100.63 L191.2,100.17 L192.2,99.76 L193.2,99.42 L194.2,99.15 L195.2,98.97 L196.2,98.90 L197.2,98.94 L198.2,99.09 L199.2,99.31 L200.2,99.59 L201.2,99.91 L202.2,100.24 L203.2,100.55 L204.2,100.84 L205.2,101.08 L206.2,101.26 L207.2,101.39 L208.2,101.45 L209.2,101.44 L210.2,101.36 L211.2,101.19 L212.2,100.95 L213.2,100.65 L214.2,100.29 L215.2,99.87 L216.2,99.41 L217.2,98.90 L218.2,98.36 L219.2,97.80 L220.2,97.25 L221.2,96.72 L222.2,96.22 L223.2,95.79 L224.2,95.43 L225.2,95.17 L226.2,95.02 L227.2,95.01 L228.2,95.14 L229.2,95.40 L230.2,95.78 L231.2,96.26 L232.2,96.82 L233.2,97.45 L234.2,98.14 L235.2,98.87 L236.2,99.63 L237.2,100.39 L238.2,101.15 L239.2,101.88 L240.2,102.54 L241.2,103.07 L242.2,103.44 L243.2,103.59 L244.2,103.48 L245.2,103.06 L246.2,102.36 L247.2,101.39 L248.2,100.16 L249.2,98.69 L250.2,96.99 L251.2,95.13 L252.2,93.13 L253.2,91.04 L254.2,88.92 L255.2,86.80 L256.2,84.73 L257.2,82.72 L258.2,80.82 L259.2,79.04 L260.2,77.40 L261.2,75.94 L262.2,74.66 L263.2,73.57 L264.2,72.65 L265.2,71.90 L266.2,71.30 L267.2,70.85 L268.2,70.55 L269.2,70.40 L270.2,70.42 L271.2,70.61 L272.2,70.92 L273.2,71.33 L274.2,71.80 L275.2,72.30 L276.2,72.81 L277.2,73.31 L278.2,73.78 L279.2,74.21 L280.2,74.58 L281.2,74.88 L282.2,75.11 L283.2,75.26 L284.2,75.33 L285.2,75.33 L286.2,75.27 L287.2,75.14 L288.2,74.96 L289.2,74.74 L290.2,74.48 L291.2,74.21 L292.2,73.92 L293.2,73.63 L294.2,73.35 L295.2,73.09 L296.2,72.85 L297.2,72.63 L298.2,72.43 L299.2,72.25 L300.2,72.08 L301.2,71.94 L302.2,71.81 L303.2,71.70 L304.2,71.60 L305.2,71.52 L306.2,71.45 L307.2,71.40 L308.2,71.36 L309.2,71.33 L310.2,71.31 L311.2,71.30 L312.2,71.30 L313.2,71.30 L314.2,71.30 L315.2,71.31 L316.2,71.32 L317.2,71.34 L318.2,71.36 L319.2,71.39 L320.2,71.42 L321.2,71.46 L322.2,71.51 L323.2,71.56 L324.2,71.63 L325.2,71.70 L326.2,71.78 L327.2,71.87 L328.2,71.97 L329.2,72.08 L330.2,72.21 L331.2,72.36 L332.2,72.52 L333.2,72.70 L334.2,72.90 L335.2,73.12 L336.2,73.35 L337.2,73.60 L338.2,73.86 L339.2,74.12 L340.2,74.39 L341.2,74.67 L342.2,74.94 L343.2,75.22 L344.2,75.49 L345.2,75.75 L346.2,76.01 L347.2,76.27 L348.2,76.52 L349.2,76.76 L350.2,77.00 L351.2,77.23 L352.2,77.46 L353.2,77.68 L354.2,77.89 L355.2,78.10 L356.2,78.29 L357.2,78.46 L358.2,78.62 L359.2,78.74 L360.2,78.84 L361.2,78.90 L362.2,78.92 L363.2,78.90 L364.2,78.83 L365.2,78.72 L366.2,78.56 L367.2,78.36 L368.2,78.12 L369.2,77.85 L370.2,77.54 L371.2,77.19 L372.2,76.80 L373.2,76.39 L374.2,75.94 L375.2,75.44 L376.2,74.91 L377.2,74.32 L378.2,73.69 L379.2,73.01 L380.2,72.28 L381.2,71.48 L382.2,70.63 L383.2,69.73 L384.2,68.76 L385.2,67.74 L386.2,66.67 L387.2,65.53 L388.2,64.35 L389.2,63.10 L390.2,61.81 L391.2,60.48 L392.2,59.10 L393.2,57.69 L394.2,56.24 L395.2,54.76 L396.2,53.25 L397.2,51.74 L398.2,50.22 L399.2,48.72 L400.2,47.24 L401.2,45.79 L402.2,44.38 L403.2,43.00 L404.2,41.66 L405.2,40.34 L406.2,39.04 L407.2,37.77 L408.2,36.52 L409.2,35.28 L410.2,34.06 L411.2,32.84 L412.2,31.63 L413.2,30.42 L414.2,29.21 L415.2,28.02 L416.2,26.85 L417.2,25.73 L418.2,24.66 L419.2,23.65 L420.2,22.71 L421.2,21.86 L422.2,21.10 L423.2,20.44 L424.2,19.86 L425.2,19.36 L426.2,18.92 L427.2,18.53 L428.2,18.19 L429.2,17.88 L430.2,17.60 L431.2,17.35 L432.2,17.13 L433.2,16.94 L434.2,16.77 L435.2,16.63 L436.2,16.52 L437.2,16.44 L438.2,16.40 L439.2,16.41 L440.2,16.45 L441.2,16.53 L442.2,16.64 L443.2,16.79 L444.2,16.97 L445.2,17.17 L446.2,17.40 L447.2,17.65 L448.2,17.92 L449.2,18.21 L450.2,18.51 L451.2,18.82 L452.2,19.14 L453.2,19.47 L454.2,19.80 L455.2,20.12 L456.2,20.45 L457.2,20.77 L458.2,21.09 L459.2,21.40 L460.2,21.70 L461.2,22.00 L462.2,22.28 L463.2,22.55 L464.2,22.80 L465.2,23.04 L466.2,23.27 L467.2,23.48 L468.2,23.68 L469.2,23.86 L470.2,24.04 L471.2,24.20 L472.2,24.36 L473.2,24.50 L474.2,24.64 L475.2,24.76 L476.2,24.89 L477.2,25.01 L478.2,25.13 L479.2,25.26 L480.2,25.39 L481.2,25.53 L482.2,25.67 L483.2,25.83 L484.2,26.00 L485.2,26.19 L486.2,26.38 L487.2,26.58 L488.2,26.79 L489.2,27.00 L490.2,27.22 L491.2,27.44 L492.2,27.67 L493.2,27.90 L494.2,28.14 L495.2,28.40 L496.2,28.67 L497.2,28.97 L498.2,29.30 L499.2,29.66 L500.2,30.04 L501.2,30.44 L502.2,30.86 L503.2,31.29 L504.2,31.73 L505.2,32.20 L506.2,32.69 L507.2,33.22 L508.2,33.80 L509.2,34.43 L510.2,35.11 L511.2,35.83 L512.2,36.58 L513.2,37.36 L514.2,38.16 L515.2,38.98 L516.2,39.81 L517.2,40.67 L518.2,41.55 L519.2,42.46 L520.2,43.39 L521.2,44.34 L522.2,45.32 L523.2,46.30 L524.2,47.30 L525.2,48.30 L526.2,49.31 L527.2,50.31 L528.2,51.31 L529.2,52.30 L530.2,53.28 L531.2,54.23 L532.2,55.14 L533.2,56.00 L534.2,56.78 L535.2,57.48 L536.2,58.10 L537.2,58.67 L538.2,59.19 L539.2,59.70 L540.2,60.20 L541.2,60.72 L542.2,61.25 L543.2,61.77 L544.2,62.29 L545.2,62.80 L546.2,63.29 L547.2,63.75 L548.2,64.18 L549.2,64.57 L550.2,64.92 L551.2,65.22 L552.2,65.49 L553.2,65.71 L554.2,65.89 L555.2,66.03 L556.2,66.13 L557.2,66.19 L558.2,66.21 L559.2,66.19 L560.2,66.13 L561.2,66.02 L562.2,65.88 L563.2,65.70 L564.2,65.49 L565.2,65.23 L566.2,64.94 L567.2,64.61 L568.2,64.24 L569.2,63.85 L570.2,63.43 L571.2,62.98 L572.2,62.51 L573.2,62.02 L574.2,61.51 L575.2,60.99 L576.2,60.46 L577.2,59.91 L578.2,59.35 L579.2,58.77 L580.2,58.18 L581.2,57.57 L582.2,56.94 L583.2,56.31 L584.2,55.66 L585.2,55.01 L586.2,54.35 L587.2,53.69 L588.2,53.02 L589.2,52.34 L590.2,51.66 L591.2,50.97 L592.2,50.27 L593.2,49.57 L594.2,48.86 L595.2,48.14 L596.2,47.41 L597.2,46.67" fill="none" stroke="#111" stroke-width="1.2" stroke-linejoin="round"/>
<path d="M80.2,157.10 L81.2,156.32 L82.2,155.69 L83.2,155.22 L84.2,154.87 L85.2,154.64 L86.2,154.53 L87.2,154.51 L88.2,154.58 L89.2,154.72 L90.2,154.92 L91.2,155.17 L92.2,155.46 L93.2,155.78 L94.2,156.11 L95.2,156.44 L96.2,156.76 L97.2,157.06 L98.2,157.33 L99.2,157.58 L100.2,157.81 L101.2,158.04 L102.2,158.27 L103.2,158.51 L104.2,158.77 L105.2,159.06 L106.2,159.41 L107.2,159.85 L108.2,160.44 L109.2,161.20 L110.2,162.13 L111.2,163.01 L112.2,163.60 L113.2,163.64 L114.2,162.88 L115.2,161.08 L116.2,158.00 L117.2,153.59 L118.2,148.51 L119.2,143.41 L120.2,137.86 L121.2,131.30 L122.2,125.00 L123.2,120.82 L124.2,118.34 L125.2,116.61 L126.2,115.32 L127.2,114.58 L128.2,114.56 L129.2,115.26 L130.2,116.41 L131.2,117.68 L132.2,118.80 L133.2,119.70 L134.2,120.39 L135.2,120.88 L136.2,121.18 L137.2,121.32 L138.2,121.34 L139.2,121.27 L140.2,121.14 L141.2,120.98 L142.2,120.83 L143.2,120.68 L144.2,120.53 L145.2,120.37 L146.2,120.21 L147.2,120.04 L148.2,119.86 L149.2,119.66 L150.2,119.46 L151.2,119.28 L152.2,119.13 L153.2,119.02 L154.2,118.99 L155.2,119.04 L156.2,119.18 L157.2,119.40 L158.2,119.71 L159.2,120.09 L160.2,120.53 L161.2,121.05 L162.2,121.62 L163.2,122.24 L164.2,122.91 L165.2,123.62 L166.2,124.35 L167.2,125.09 L168.2,125.84 L169.2,126.58 L170.2,127.31 L171.2,128.02 L172.2,128.70 L173.2,129.36 L174.2,129.99 L175.2,130.59 L176.2,131.16 L177.2,131.71 L178.2,132.24 L179.2,132.73 L180.2,133.21 L181.2,133.66 L182.2,134.07 L183.2,134.45 L184.2,134.78 L185.2,135.06 L186.2,135.28 L187.2,135.43 L188.2,135.50 L189.2,135.49 L190.2,135.39 L191.2,135.21 L192.2,134.95 L193.2,134.62 L194.2,134.22 L195.2,133.76 L196.2,133.24 L197.2,132.68 L198.2,132.07 L199.2,131.43 L200.2,130.76 L201.2,130.08 L202.2,129.40 L203.2,128.72 L204.2,128.06 L205.2,127.43 L206.2,126.84 L207.2,126.30 L208.2,125.81 L209.2,125.39 L210.2,125.04 L211.2,124.77 L212.2,124.59 L213.2,124.51 L214.2,124.52 L215.2,124.64 L216.2,124.84 L217.2,125.12 L218.2,125.46 L219.2,125.86 L220.2,126.29 L221.2,126.76 L222.2,127.25 L223.2,127.75 L224.2,128.24 L225.2,128.73 L226.2,129.21 L227.2,129.66 L228.2,130.09 L229.2,130.47 L230.2,130.81 L231.2,131.08 L232.2,131.25 L233.2,131.31 L234.2,131.23 L235.2,131.02 L236.2,130.68 L237.2,130.23 L238.2,129.68 L239.2,129.05 L240.2,128.34 L241.2,127.55 L242.2,126.68 L243.2,125.73 L244.2,124.72 L245.2,123.63 L246.2,122.47 L247.2,121.25 L248.2,120.00 L249.2,118.72 L250.2,117.43 L251.2,116.16 L252.2,114.91 L253.2,113.70 L254.2,112.56 L255.2,111.47 L256.2,110.45 L257.2,109.50 L258.2,108.62 L259.2,107.83 L260.2,107.13 L261.2,106.53 L262.2,106.01 L263.2,105.59 L264.2,105.27 L265.2,105.04 L266.2,104.90 L267.2,104.86 L268.2,104.90 L269.2,105.01 L270.2,105.19 L271.2,105.41 L272.2,105.66 L273.2,105.94 L274.2,106.23 L275.2,106.51 L276.2,106.79 L277.2,107.05 L278.2,107.29 L279.2,107.49 L280.2,107.66 L281.2,107.79 L282.2,107.87 L283.2,107.90 L284.2,107.87 L285.2,107.78 L286.2,107.65 L287.2,107.48 L288.2,107.28 L289.2,107.06 L290.2,106.82 L291.2,106.59 L292.2,106.35 L293.2,106.13 L294.2,105.92 L295.2,105.72 L296.2,105.54 L297.2,105.36 L298.2,105.20 L299.2,105.05 L300.2,104.92 L301.2,104.79 L302.2,104.68 L303.2,104.58 L304.2,104.50 L305.2,104.43 L306.2,104.37 L307.2,104.32 L308.2,104.28 L309.2,104.25 L310.2,104.22 L311.2,104.20 L312.2,104.18 L313.2,104.16 L314.2,104.14 L315.2,104.12 L316.2,104.09 L317.2,104.06 L318.2,104.03 L319.2,103.99 L320.2,103.94 L321.2,103.88 L322.2,103.82 L323.2,103.76 L324.2,103.70 L325.2,103.64 L326.2,103.59 L327.2,103.55 L328.2,103.51 L329.2,103.49 L330.2,103.49 L331.2,103.50 L332.2,103.53 L333.2,103.58 L334.2,103.65 L335.2,103.74 L336.2,103.85 L337.2,103.99 L338.2,104.14 L339.2,104.32 L340.2,104.52 L341.2,104.75 L342.2,104.99 L343.2,105.26 L344.2,105.54 L345.2,105.84 L346.2,106.15 L347.2,106.47 L348.2,106.79 L349.2,107.11 L350.2,107.44 L351.2,107.76 L352.2,108.07 L353.2,108.37 L354.2,108.66 L355.2,108.94 L356.2,109.21 L357.2,109.46 L358.2,109.71 L359.2,109.95 L360.2,110.18 L361.2,110.40 L362.2,110.62 L363.2,110.83 L364.2,111.04 L365.2,111.24 L366.2,111.44 L367.2,111.64 L368.2,111.82 L369.2,112.00 L370.2,112.15 L371.2,112.28 L372.2,112.39 L373.2,112.46 L374.2,112.50 L375.2,112.50 L376.2,112.46 L377.2,112.39 L378.2,112.27 L379.2,112.12 L380.2,111.93 L381.2,111.71 L382.2,111.44 L383.2,111.15 L384.2,110.81 L385.2,110.44 L386.2,110.04 L387.2,109.60 L388.2,109.12 L389.2,108.60 L390.2,108.05 L391.2,107.46 L392.2,106.83 L393.2,106.17 L394.2,105.48 L395.2,104.76 L396.2,104.01 L397.2,103.24 L398.2,102.45 L399.2,101.65 L400.2,100.84 L401.2,100.01 L402.2,99.19 L403.2,98.36 L404.2,97.53 L405.2,96.70 L406.2,95.88 L407.2,95.07 L408.2,94.28 L409.2,93.50 L410.2,92.74 L411.2,92.00 L412.2,91.29 L413.2,90.60 L414.2,89.94 L415.2,89.31 L416.2,88.69 L417.2,88.09 L418.2,87.51 L419.2,86.93 L420.2,86.38 L421.2,85.82 L422.2,85.28 L423.2,84.74 L424.2,84.20 L425.2,83.66 L426.2,83.12 L427.2,82.59 L428.2,82.06 L429.2,81.53 L430.2,81.01 L431.2,80.49 L432.2,79.99 L433.2,79.50 L434.2,79.01 L435.2,78.54 L436.2,78.09 L437.2,77.65 L438.2,77.23 L439.2,76.81 L440.2,76.41 L441.2,76.02 L442.2,75.63 L443.2,75.24 L444.2,74.86 L445.2,74.48 L446.2,74.09 L447.2,73.70 L448.2,73.30 L449.2,72.90 L450.2,72.48 L451.2,72.05 L452.2,71.62 L453.2,71.17 L454.2,70.72 L455.2,70.26 L456.2,69.79 L457.2,69.32 L458.2,68.84 L459.2,68.35 L460.2,67.85 L461.2,67.35 L462.2,66.84 L463.2,66.33 L464.2,65.82 L465.2,65.30 L466.2,64.79 L467.2,64.27 L468.2,63.76 L469.2,63.26 L470.2,62.76 L471.2,62.26 L472.2,61.78 L473.2,61.30 L474.2,60.83 L475.2,60.38 L476.2,59.93 L477.2,59.49 L478.2,59.05 L479.2,58.62 L480.2,58.20 L481.2,57.77 L482.2,57.34 L483.2,56.91 L484.2,56.49 L485.2,56.06 L486.2,55.64 L487.2,55.23 L488.2,54.83 L489.2,54.45 L490.2,54.09 L491.2,53.76 L492.2,53.45 L493.2,53.18 L494.2,52.93 L495.2,52.72 L496.2,52.53 L497.2,52.37 L498.2,52.24 L499.2,52.15 L500.2,52.10 L501.2,52.10 L502.2,52.16 L503.2,52.27 L504.2,52.42 L505.2,52.62 L506.2,52.85 L507.2,53.11 L508.2,53.42 L509.2,53.76 L510.2,54.17 L511.2,54.63 L512.2,55.15 L513.2,55.73 L514.2,56.36 L515.2,57.04 L516.2,57.76 L517.2,58.52 L518.2,59.30 L519.2,60.10 L520.2,60.92 L521.2,61.75 L522.2,62.59 L523.2,63.43 L524.2,64.28 L525.2,65.12 L526.2,65.97 L527.2,66.81 L528.2,67.64 L529.2,68.46 L530.2,69.27 L531.2,70.06 L532.2,70.84 L533.2,71.60 L534.2,72.34 L535.2,73.05 L536.2,73.75 L537.2,74.42 L538.2,75.07 L539.2,75.70 L540.2,76.32 L541.2,76.91 L542.2,77.49 L543.2,78.04 L544.2,78.58 L545.2,79.10 L546.2,79.59 L547.2,80.05 L548.2,80.48 L549.2,80.88 L550.2,81.25 L551.2,81.58 L552.2,81.87 L553.2,82.12 L554.2,82.33 L555.2,82.49 L556.2,82.62 L557.2,82.70 L558.2,82.74 L559.2,82.74 L560.2,82.69 L561.2,82.61 L562.2,82.49 L563.2,82.33 L564.2,82.13 L565.2,81.89 L566.2,81.62 L567.2,81.32 L568.2,80.98 L569.2,80.61 L570.2,80.21 L571.2,79.79 L572.2,79.33 L573.2,78.86 L574.2,78.37 L575.2,77.86 L576.2,77.34 L577.2,76.80 L578.2,76.26 L579.2,75.72 L580.2,75.17 L581.2,74.61 L582.2,74.05 L583.2,73.48 L584.2,72.91 L585.2,72.33 L586.2,71.75 L587.2,71.16 L588.2,70.56 L589.2,69.96 L590.2,69.35 L591.2,68.73 L592.2,68.11 L593.2,67.47 L594.2,66.83 L595.2,66.19 L596.2,65.53 L597.2,64.87 L597.3,358.2 L80.2,358.2 Z" fill="url(#g2)" stroke="none"/>
<path d="M80.2,157.10 L81.2,156.32 L82.2,155.69 L83.2,155.22 L84.2,154.87 L85.2,154.64 L86.2,154.53 L87.2,154.51 L88.2,154.58 L89.2,154.72 L90.2,154.92 L91.2,155.17 L92.2,155.46 L93.2,155.78 L94.2,156.11 L95.2,156.44 L96.2,156.76 L97.2,157.06 L98.2,157.33 L99.2,157.58 L100.2,157.81 L101.2,158.04 L102.2,158.27 L103.2,158.51 L104.2,158.77 L105.2,159.06 L106.2,159.41 L107.2,159.85 L108.2,160.44 L109.2,161.20 L110.2,162.13 L111.2,163.01 L112.2,163.60 L113.2,163.64 L114.2,162.88 L115.2,161.08 L116.2,158.00 L117.2,153.59 L118.2,148.51 L119.2,143.41 L120.2,137.86 L121.2,131.30 L122.2,125.00 L123.2,120.82 L124.2,118.34 L125.2,116.61 L126.2,115.32 L127.2,114.58 L128.2,114.56 L129.2,115.26 L130.2,116.41 L131.2,117.68 L132.2,118.80 L133.2,119.70 L134.2,120.39 L135.2,120.88 L136.2,121.18 L137.2,121.32 L138.2,121.34 L139.2,121.27 L140.2,121.14 L141.2,120.98 L142.2,120.83 L143.2,120.68 L144.2,120.53 L145.2,120.37 L146.2,120.21 L147.2,120.04 L148.2,119.86 L149.2,119.66 L150.2,119.46 L151.2,119.28 L152.2,119.13 L153.2,119.02 L154.2,118.99 L155.2,119.04 L156.2,119.18 L157.2,119.40 L158.2,119.71 L159.2,120.09 L160.2,120.53 L161.2,121.05 L162.2,121.62 L163.2,122.24 L164.2,122.91 L165.2,123.62 L166.2,124.35 L167.2,125.09 L168.2,125.84 L169.2,126.58 L170.2,127.31 L171.2,128.02 L172.2,128.70 L173.2,129.36 L174.2,129.99 L175.2,130.59 L176.2,131.16 L177.2,131.71 L178.2,132.24 L179.2,132.73 L180.2,133.21 L181.2,133.66 L182.2,134.07 L183.2,134.45 L184.2,134.78 L185.2,135.06 L186.2,135.28 L187.2,135.43 L188.2,135.50 L189.2,135.49 L190.2,135.39 L191.2,135.21 L192.2,134.95 L193.2,134.62 L194.2,134.22 L195.2,133.76 L196.2,133.24 L197.2,132.68 L198.2,132.07 L199.2,131.43 L200.2,130.76 L201.2,130.08 L202.2,129.40 L203.2,128.72 L204.2,128.06 L205.2,127.43 L206.2,126.84 L207.2,126.30 L208.2,125.81 L209.2,125.39 L210.2,125.04 L211.2,124.77 L212.2,124.59 L213.2,124.51 L214.2,124.52 L215.2,124.64 L216.2,124.84 L217.2,125.12 L218.2,125.46 L219.2,125.86 L220.2,126.29 L221.2,126.76 L222.2,127.25 L223.2,127.75 L224.2,128.24 L225.2,128.73 L226.2,129.21 L227.2,129.66 L228.2,130.09 L229.2,130.47 L230.2,130.81 L231.2,131.08 L232.2,131.25 L233.2,131.31 L234.2,131.23 L235.2,131.02 L236.2,130.68 L237.2,130.23 L238.2,129.68 L239.2,129.05 L240.2,128.34 L241.2,127.55 L242.2,126.68 L243.2,125.73 L244.2,124.72 L245.2,123.63 L246.2,122.47 L247.2,121.25 L248.2,120.00 L249.2,118.72 L250.2,117.43 L251.2,116.16 L252.2,114.91 L253.2,113.70 L254.2,112.56 L255.2,111.47 L256.2,110.45 L257.2,109.50 L258.2,108.62 L259.2,107.83 L260.2,107.13 L261.2,106.53 L262.2,106.01 L263.2,105.59 L264.2,105.27 L265.2,105.04 L266.2,104.90 L267.2,104.86 L268.2,104.90 L269.2,105.01 L270.2,105.19 L271.2,105.41 L272.2,105.66 L273.2,105.94 L274.2,106.23 L275.2,106.51 L276.2,106.79 L277.2,107.05 L278.2,107.29 L279.2,107.49 L280.2,107.66 L281.2,107.79 L282.2,107.87 L283.2,107.90 L284.2,107.87 L285.2,107.78 L286.2,107.65 L287.2,107.48 L288.2,107.28 L289.2,107.06 L290.2,106.82 L291.2,106.59 L292.2,106.35 L293.2,106.13 L294.2,105.92 L295.2,105.72 L296.2,105.54 L297.2,105.36 L298.2,105.20 L299.2,105.05 L300.2,104.92 L301.2,104.79 L302.2,104.68 L303.2,104.58 L304.2,104.50 L305.2,104.43 L306.2,104.37 L307.2,104.32 L308.2,104.28 L309.2,104.25 L310.2,104.22 L311.2,104.20 L312.2,104.18 L313.2,104.16 L314.2,104.14 L315.2,104.12 L316.2,104.09 L317.2,104.06 L318.2,104.03 L319.2,103.99 L320.2,103.94 L321.2,103.88 L322.2,103.82 L323.2,103.76 L324.2,103.70 L325.2,103.64 L326.2,103.59 L327.2,103.55 L328.2,103.51 L329.2,103.49 L330.2,103.49 L331.2,103.50 L332.2,103.53 L333.2,103.58 L334.2,103.65 L335.2,103.74 L336.2,103.85 L337.2,103.99 L338.2,104.14 L339.2,104.32 L340.2,104.52 L341.2,104.75 L342.2,104.99 L343.2,105.26 L344.2,105.54 L345.2,105.84 L346.2,106.15 L347.2,106.47 L348.2,106.79 L349.2,107.11 L350.2,107.44 L351.2,107.76 L352.2,108.07 L353.2,108.37 L354.2,108.66 L355.2,108.94 L356.2,109.21 L357.2,109.46 L358.2,109.71 L359.2,109.95 L360.2,110.18 L361.2,110.40 L362.2,110.62 L363.2,110.83 L364.2,111.04 L365.2,111.24 L366.2,111.44 L367.2,111.64 L368.2,111.82 L369.2,112.00 L370.2,112.15 L371.2,112.28 L372.2,112.39 L373.2,112.46 L374.2,112.50 L375.2,112.50 L376.2,112.46 L377.2,112.39 L378.2,112.27 L379.2,112.12 L380.2,111.93 L381.2,111.71 L382.2,111.44 L383.2,111.15 L384.2,110.81 L385.2,110.44 L386.2,110.04 L387.2,109.60 L388.2,109.12 L389.2,108.60 L390.2,108.05 L391.2,107.46 L392.2,106.83 L393.2,106.17 L394.2,105.48 L395.2,104.76 L396.2,104.01 L397.2,103.24 L398.2,102.45 L399.2,101.65 L400.2,100.84 L401.2,100.01 L402.2,99.19 L403.2,98.36 L404.2,97.53 L405.2,96.70 L406.2,95.88 L407.2,95.07 L408.2,94.28 L409.2,93.50 L410.2,92.74 L411.2,92.00 L412.2,91.29 L413.2,90.60 L414.2,89.94 L415.2,89.31 L416.2,88.69 L417.2,88.09 L418.2,87.51 L419.2,86.93 L420.2,86.38 L421.2,85.82 L422.2,85.28 L423.2,84.74 L424.2,84.20 L425.2,83.66 L426.2,83.12 L427.2,82.59 L428.2,82.06 L429.2,81.53 L430.2,81.01 L431.2,80.49 L432.2,79.99 L433.2,79.50 L434.2,79.01 L435.2,78.54 L436.2,78.09 L437.2,77.65 L438.2,77.23 L439.2,76.81 L440.2,76.41 L441.2,76.02 L442.2,75.63 L443.2,75.24 L444.2,74.86 L445.2,74.48 L446.2,74.09 L447.2,73.70 L448.2,73.30 L449.2,72.90 L450.2,72.48 L451.2,72.05 L452.2,71.62 L453.2,71.17 L454.2,70.72 L455.2,70.26 L456.2,69.79 L457.2,69.32 L458.2,68.84 L459.2,68.35 L460.2,67.85 L461.2,67.35 L462.2,66.84 L463.2,66.33 L464.2,65.82 L465.2,65.30 L466.2,64.79 L467.2,64.27 L468.2,63.76 L469.2,63.26 L470.2,62.76 L471.2,62.26 L472.2,61.78 L473.2,61.30 L474.2,60.83 L475.2,60.38 L476.2,59.93 L477.2,59.49 L478.2,59.05 L479.2,58.62 L480.2,58.20 L481.2,57.77 L482.2,57.34 L483.2,56.91 L484.2,56.49 L485.2,56.06 L486.2,55.64 L487.2,55.23 L488.2,54.83 L489.2,54.45 L490.2,54.09 L491.2,53.76 L492.2,53.45 L493.2,53.18 L494.2,52.93 L495.2,52.72 L496.2,52.53 L497.2,52.37 L498.2,52.24 L499.2,52.15 L500.2,52.10 L501.2,52.10 L502.2,52.16 L503.2,52.27 L504.2,52.42 L505.2,52.62 L506.2,52.85 L507.2,53.11 L508.2,53.42 L509.2,53.76 L510.2,54.17 L511.2,54.63 L512.2,55.15 L513.2,55.73 L514.2,56.36 L515.2,57.04 L516.2,57.76 L517.2,58.52 L518.2,59.30 L519.2,60.10 L520.2,60.92 L521.2,61.75 L522.2,62.59 L523.2,63.43 L524.2,64.28 L525.2,65.12 L526.2,65.97 L527.2,66.81 L528.2,67.64 L529.2,68.46 L530.2,69.27 L531.2,70.06 L532.2,70.84 L533.2,71.60 L534.2,72.34 L535.2,73.05 L536.2,73.75 L537.2,74.42 L538.2,75.07 L539.2,75.70 L540.2,76.32 L541.2,76.91 L542.2,77.49 L543.2,78.04 L544.2,78.58 L545.2,79.10 L546.2,79.59 L547.2,80.05 L548.2,80.48 L549.2,80.88 L550.2,81.25 L551.2,81.58 L552.2,81.87 L553.2,82.12 L554.2,82.33 L555.2,82.49 L556.2,82.62 L557.2,82.70 L558.2,82.74 L559.2,82.74 L560.2,82.69 L561.2,82.61 L562.2,82.49 L563.2,82.33 L564.2,82.13 L565.2,81.89 L566.2,81.62 L567.2,81.32 L568.2,80.98 L569.2,80.61 L570.2,80.21 L571.2,79.79 L572.2,79.33 L573.2,78.86 L574.2,78.37 L575.2,77.86 L576.2,77.34 L577.2,76.80 L578.2,76.26 L579.2,75.72 L580.2,75.17 L581.2,74.61 L582.2,74.05 L583.2,73.48 L584.2,72.91 L585.2,72.33 L586.2,71.75 L587.2,71.16 L588.2,70.56 L589.2,69.96 L590.2,69.35 L591.2,68.73 L592.2,68.11 L593.2,67.47 L594.2,66.83 L595.2,66.19 L596.2,65.53 L597.2,64.87" fill="none" stroke="#111" stroke-width="1.2" stroke-linejoin="round"/>
<path d="M80.2,190.50 L81.2,189.34 L82.2,188.42 L83.2,187.71 L84.2,187.21 L85.2,186.90 L86.2,186.77 L87.2,186.80 L88.2,186.98 L89.2,187.30 L90.2,187.73 L91.2,188.27 L92.2,188.91 L93.2,189.62 L94.2,190.39 L95.2,191.15 L96.2,191.79 L97.2,192.24 L98.2,192.40 L99.2,192.22 L100.2,191.75 L101.2,191.10 L102.2,190.36 L103.2,189.63 L104.2,188.99 L105.2,188.47 L106.2,188.12 L107.2,187.96 L108.2,188.03 L109.2,188.35 L110.2,188.96 L111.2,189.86 L112.2,190.84 L113.2,191.55 L114.2,191.66 L115.2,190.95 L116.2,189.38 L117.2,186.89 L118.2,183.42 L119.2,178.91 L120.2,173.32 L121.2,167.11 L122.2,161.08 L123.2,156.06 L124.2,152.35 L125.2,149.80 L126.2,148.22 L127.2,147.54 L128.2,147.67 L129.2,148.44 L130.2,149.60 L131.2,150.88 L132.2,152.04 L133.2,153.03 L134.2,153.80 L135.2,154.35 L136.2,154.65 L137.2,154.71 L138.2,154.58 L139.2,154.29 L140.2,153.88 L141.2,153.39 L142.2,152.87 L143.2,152.35 L144.2,151.85 L145.2,151.39 L146.2,150.98 L147.2,150.61 L148.2,150.30 L149.2,150.04 L150.2,149.85 L151.2,149.72 L152.2,149.67 L153.2,149.70 L154.2,149.80 L155.2,149.97 L156.2,150.21 L157.2,150.52 L158.2,150.90 L159.2,151.35 L160.2,151.86 L161.2,152.44 L162.2,153.08 L163.2,153.77 L164.2,154.50 L165.2,155.26 L166.2,156.03 L167.2,156.82 L168.2,157.60 L169.2,158.36 L170.2,159.10 L171.2,159.80 L172.2,160.45 L173.2,161.05 L174.2,161.60 L175.2,162.10 L176.2,162.55 L177.2,162.94 L178.2,163.28 L179.2,163.56 L180.2,163.78 L181.2,163.95 L182.2,164.06 L183.2,164.11 L184.2,164.09 L185.2,164.01 L186.2,163.86 L187.2,163.66 L188.2,163.43 L189.2,163.19 L190.2,162.94 L191.2,162.73 L192.2,162.55 L193.2,162.44 L194.2,162.39 L195.2,162.40 L196.2,162.47 L197.2,162.57 L198.2,162.72 L199.2,162.89 L200.2,163.09 L201.2,163.31 L202.2,163.53 L203.2,163.76 L204.2,163.98 L205.2,164.18 L206.2,164.36 L207.2,164.49 L208.2,164.57 L209.2,164.58 L210.2,164.52 L211.2,164.38 L212.2,164.15 L213.2,163.85 L214.2,163.49 L215.2,163.07 L216.2,162.61 L217.2,162.11 L218.2,161.58 L219.2,161.02 L220.2,160.46 L221.2,159.89 L222.2,159.32 L223.2,158.76 L224.2,158.20 L225.2,157.65 L226.2,157.12 L227.2,156.62 L228.2,156.14 L229.2,155.69 L230.2,155.27 L231.2,154.89 L232.2,154.53 L233.2,154.19 L234.2,153.87 L235.2,153.56 L236.2,153.26 L237.2,152.95 L238.2,152.64 L239.2,152.31 L240.2,151.96 L241.2,151.57 L242.2,151.14 L243.2,150.65 L244.2,150.08 L245.2,149.44 L246.2,148.71 L247.2,147.89 L248.2,147.01 L249.2,146.08 L250.2,145.12 L251.2,144.15 L252.2,143.18 L253.2,142.23 L254.2,141.31 L255.2,140.43 L256.2,139.61 L257.2,138.85 L258.2,138.17 L259.2,137.57 L260.2,137.07 L261.2,136.67 L262.2,136.38 L263.2,136.22 L264.2,136.18 L265.2,136.29 L266.2,136.53 L267.2,136.88 L268.2,137.34 L269.2,137.88 L270.2,138.49 L271.2,139.15 L272.2,139.85 L273.2,140.56 L274.2,141.27 L275.2,141.96 L276.2,142.61 L277.2,143.20 L278.2,143.72 L279.2,144.14 L280.2,144.47 L281.2,144.70 L282.2,144.80 L283.2,144.76 L284.2,144.61 L285.2,144.33 L286.2,143.94 L287.2,143.45 L288.2,142.87 L289.2,142.21 L290.2,141.48 L291.2,140.69 L292.2,139.87 L293.2,139.05 L294.2,138.24 L295.2,137.46 L296.2,136.75 L297.2,136.12 L298.2,135.59 L299.2,135.16 L300.2,134.82 L301.2,134.58 L302.2,134.43 L303.2,134.38 L304.2,134.41 L305.2,134.52 L306.2,134.69 L307.2,134.91 L308.2,135.17 L309.2,135.45 L310.2,135.74 L311.2,136.04 L312.2,136.33 L313.2,136.61 L314.2,136.89 L315.2,137.15 L316.2,137.41 L317.2,137.64 L318.2,137.86 L319.2,138.06 L320.2,138.23 L321.2,138.39 L322.2,138.52 L323.2,138.64 L324.2,138.74 L325.2,138.82 L326.2,138.89 L327.2,138.94 L328.2,138.98 L329.2,139.01 L330.2,139.03 L331.2,139.04 L332.2,139.03 L333.2,139.02 L334.2,139.00 L335.2,138.97 L336.2,138.93 L337.2,138.88 L338.2,138.82 L339.2,138.76 L340.2,138.69 L341.2,138.62 L342.2,138.53 L343.2,138.45 L344.2,138.36 L345.2,138.28 L346.2,138.19 L347.2,138.10 L348.2,138.01 L349.2,137.93 L350.2,137.85 L351.2,137.77 L352.2,137.70 L353.2,137.63 L354.2,137.57 L355.2,137.51 L356.2,137.46 L357.2,137.41 L358.2,137.36 L359.2,137.32 L360.2,137.28 L361.2,137.24 L362.2,137.21 L363.2,137.17 L364.2,137.14 L365.2,137.11 L366.2,137.08 L367.2,137.05 L368.2,137.02 L369.2,137.00 L370.2,136.98 L371.2,136.96 L372.2,136.94 L373.2,136.93 L374.2,136.92 L375.2,136.92 L376.2,136.92 L377.2,136.93 L378.2,136.95 L379.2,136.97 L380.2,137.00 L381.2,137.03 L382.2,137.08 L383.2,137.12 L384.2,137.17 L385.2,137.22 L386.2,137.27 L387.2,137.31 L388.2,137.35 L389.2,137.38 L390.2,137.40 L391.2,137.41 L392.2,137.40 L393.2,137.38 L394.2,137.34 L395.2,137.29 L396.2,137.23 L397.2,137.15 L398.2,137.06 L399.2,136.95 L400.2,136.83 L401.2,136.71 L402.2,136.56 L403.2,136.41 L404.2,136.25 L405.2,136.08 L406.2,135.90 L407.2,135.70 L408.2,135.49 L409.2,135.26 L410.2,135.01 L411.2,134.73 L412.2,134.44 L413.2,134.11 L414.2,133.76 L415.2,133.38 L416.2,132.97 L417.2,132.52 L418.2,132.03 L419.2,131.51 L420.2,130.97 L421.2,130.40 L422.2,129.81 L423.2,129.20 L424.2,128.57 L425.2,127.93 L426.2,127.29 L427.2,126.64 L428.2,125.99 L429.2,125.34 L430.2,124.69 L431.2,124.04 L432.2,123.40 L433.2,122.75 L434.2,122.09 L435.2,121.43 L436.2,120.75 L437.2,120.06 L438.2,119.35 L439.2,118.61 L440.2,117.86 L441.2,117.08 L442.2,116.27 L443.2,115.44 L444.2,114.58 L445.2,113.70 L446.2,112.81 L447.2,111.90 L448.2,110.98 L449.2,110.06 L450.2,109.13 L451.2,108.20 L452.2,107.28 L453.2,106.36 L454.2,105.46 L455.2,104.56 L456.2,103.68 L457.2,102.80 L458.2,101.94 L459.2,101.09 L460.2,100.25 L461.2,99.42 L462.2,98.61 L463.2,97.81 L464.2,97.02 L465.2,96.26 L466.2,95.52 L467.2,94.80 L468.2,94.11 L469.2,93.44 L470.2,92.80 L471.2,92.19 L472.2,91.61 L473.2,91.05 L474.2,90.53 L475.2,90.04 L476.2,89.58 L477.2,89.15 L478.2,88.76 L479.2,88.41 L480.2,88.08 L481.2,87.80 L482.2,87.54 L483.2,87.32 L484.2,87.12 L485.2,86.96 L486.2,86.83 L487.2,86.73 L488.2,86.65 L489.2,86.61 L490.2,86.59 L491.2,86.60 L492.2,86.63 L493.2,86.69 L494.2,86.78 L495.2,86.89 L496.2,87.02 L497.2,87.18 L498.2,87.36 L499.2,87.57 L500.2,87.80 L501.2,88.05 L502.2,88.34 L503.2,88.66 L504.2,89.02 L505.2,89.43 L506.2,89.90 L507.2,90.43 L508.2,91.03 L509.2,91.70 L510.2,92.46 L511.2,93.30 L512.2,94.21 L513.2,95.19 L514.2,96.21 L515.2,97.26 L516.2,98.34 L517.2,99.43 L518.2,100.52 L519.2,101.59 L520.2,102.65 L521.2,103.69 L522.2,104.72 L523.2,105.72 L524.2,106.71 L525.2,107.67 L526.2,108.61 L527.2,109.53 L528.2,110.42 L529.2,111.29 L530.2,112.13 L531.2,112.96 L532.2,113.77 L533.2,114.58 L534.2,115.38 L535.2,116.17 L536.2,116.96 L537.2,117.76 L538.2,118.56 L539.2,119.37 L540.2,120.17 L541.2,120.97 L542.2,121.75 L543.2,122.51 L544.2,123.25 L545.2,123.95 L546.2,124.61 L547.2,125.23 L548.2,125.80 L549.2,126.33 L550.2,126.81 L551.2,127.24 L552.2,127.63 L553.2,127.98 L554.2,128.29 L555.2,128.55 L556.2,128.76 L557.2,128.93 L558.2,129.05 L559.2,129.11 L560.2,129.12 L561.2,129.08 L562.2,129.00 L563.2,128.88 L564.2,128.74 L565.2,128.56 L566.2,128.37 L567.2,128.15 L568.2,127.91 L569.2,127.62 L570.2,127.30 L571.2,126.94 L572.2,126.52 L573.2,126.05 L574.2,125.52 L575.2,124.94 L576.2,124.31 L577.2,123.64 L578.2,122.94 L579.2,122.20 L580.2,121.44 L581.2,120.67 L582.2,119.87 L583.2,119.07 L584.2,118.26 L585.2,117.43 L586.2,116.59 L587.2,115.75 L588.2,114.89 L589.2,114.03 L590.2,113.15 L591.2,112.28 L592.2,111.39 L593.2,110.50 L594.2,109.60 L595.2,108.70 L596.2,107.80 L597.2,106.89 L597.3,358.2 L80.2,358.2 Z" fill="url(#g3)" stroke="none"/>
<path d="M80.2,190.50 L81.2,189.34 L82.2,188.42 L83.2,187.71 L84.2,187.21 L85.2,186.90 L86.2,186.77 L87.2,186.80 L88.2,186.98 L89.2,187.30 L90.2,187.73 L91.2,188.27 L92.2,188.91 L93.2,189.62 L94.2,190.39 L95.2,191.15 L96.2,191.79 L97.2,192.24 L98.2,192.40 L99.2,192.22 L100.2,191.75 L101.2,191.10 L102.2,190.36 L103.2,189.63 L104.2,188.99 L105.2,188.47 L106.2,188.12 L107.2,187.96 L108.2,188.03 L109.2,188.35 L110.2,188.96 L111.2,189.86 L112.2,190.84 L113.2,191.55 L114.2,191.66 L115.2,190.95 L116.2,189.38 L117.2,186.89 L118.2,183.42 L119.2,178.91 L120.2,173.32 L121.2,167.11 L122.2,161.08 L123.2,156.06 L124.2,152.35 L125.2,149.80 L126.2,148.22 L127.2,147.54 L128.2,147.67 L129.2,148.44 L130.2,149.60 L131.2,150.88 L132.2,152.04 L133.2,153.03 L134.2,153.80 L135.2,154.35 L136.2,154.65 L137.2,154.71 L138.2,154.58 L139.2,154.29 L140.2,153.88 L141.2,153.39 L142.2,152.87 L143.2,152.35 L144.2,151.85 L145.2,151.39 L146.2,150.98 L147.2,150.61 L148.2,150.30 L149.2,150.04 L150.2,149.85 L151.2,149.72 L152.2,149.67 L153.2,149.70 L154.2,149.80 L155.2,149.97 L156.2,150.21 L157.2,150.52 L158.2,150.90 L159.2,151.35 L160.2,151.86 L161.2,152.44 L162.2,153.08 L163.2,153.77 L164.2,154.50 L165.2,155.26 L166.2,156.03 L167.2,156.82 L168.2,157.60 L169.2,158.36 L170.2,159.10 L171.2,159.80 L172.2,160.45 L173.2,161.05 L174.2,161.60 L175.2,162.10 L176.2,162.55 L177.2,162.94 L178.2,163.28 L179.2,163.56 L180.2,163.78 L181.2,163.95 L182.2,164.06 L183.2,164.11 L184.2,164.09 L185.2,164.01 L186.2,163.86 L187.2,163.66 L188.2,163.43 L189.2,163.19 L190.2,162.94 L191.2,162.73 L192.2,162.55 L193.2,162.44 L194.2,162.39 L195.2,162.40 L196.2,162.47 L197.2,162.57 L198.2,162.72 L199.2,162.89 L200.2,163.09 L201.2,163.31 L202.2,163.53 L203.2,163.76 L204.2,163.98 L205.2,164.18 L206.2,164.36 L207.2,164.49 L208.2,164.57 L209.2,164.58 L210.2,164.52 L211.2,164.38 L212.2,164.15 L213.2,163.85 L214.2,163.49 L215.2,163.07 L216.2,162.61 L217.2,162.11 L218.2,161.58 L219.2,161.02 L220.2,160.46 L221.2,159.89 L222.2,159.32 L223.2,158.76 L224.2,158.20 L225.2,157.65 L226.2,157.12 L227.2,156.62 L228.2,156.14 L229.2,155.69 L230.2,155.27 L231.2,154.89 L232.2,154.53 L233.2,154.19 L234.2,153.87 L235.2,153.56 L236.2,153.26 L237.2,152.95 L238.2,152.64 L239.2,152.31 L240.2,151.96 L241.2,151.57 L242.2,151.14 L243.2,150.65 L244.2,150.08 L245.2,149.44 L246.2,148.71 L247.2,147.89 L248.2,147.01 L249.2,146.08 L250.2,145.12 L251.2,144.15 L252.2,143.18 L253.2,142.23 L254.2,141.31 L255.2,140.43 L256.2,139.61 L257.2,138.85 L258.2,138.17 L259.2,137.57 L260.2,137.07 L261.2,136.67 L262.2,136.38 L263.2,136.22 L264.2,136.18 L265.2,136.29 L266.2,136.53 L267.2,136.88 L268.2,137.34 L269.2,137.88 L270.2,138.49 L271.2,139.15 L272.2,139.85 L273.2,140.56 L274.2,141.27 L275.2,141.96 L276.2,142.61 L277.2,143.20 L278.2,143.72 L279.2,144.14 L280.2,144.47 L281.2,144.70 L282.2,144.80 L283.2,144.76 L284.2,144.61 L285.2,144.33 L286.2,143.94 L287.2,143.45 L288.2,142.87 L289.2,142.21 L290.2,141.48 L291.2,140.69 L292.2,139.87 L293.2,139.05 L294.2,138.24 L295.2,137.46 L296.2,136.75 L297.2,136.12 L298.2,135.59 L299.2,135.16 L300.2,134.82 L301.2,134.58 L302.2,134.43 L303.2,134.38 L304.2,134.41 L305.2,134.52 L306.2,134.69 L307.2,134.91 L308.2,135.17 L309.2,135.45 L310.2,135.74 L311.2,136.04 L312.2,136.33 L313.2,136.61 L314.2,136.89 L315.2,137.15 L316.2,137.41 L317.2,137.64 L318.2,137.86 L319.2,138.06 L320.2,138.23 L321.2,138.39 L322.2,138.52 L323.2,138.64 L324.2,138.74 L325.2,138.82 L326.2,138.89 L327.2,138.94 L328.2,138.98 L329.2,139.01 L330.2,139.03 L331.2,139.04 L332.2,139.03 L333.2,139.02 L334.2,139.00 L335.2,138.97 L336.2,138.93 L337.2,138.88 L338.2,138.82 L339.2,138.76 L340.2,138.69 L341.2,138.62 L342.2,138.53 L343.2,138.45 L344.2,138.36 L345.2,138.28 L346.2,138.19 L347.2,138.10 L348.2,138.01 L349.2,137.93 L350.2,137.85 L351.2,137.77 L352.2,137.70 L353.2,137.63 L354.2,137.57 L355.2,137.51 L356.2,137.46 L357.2,137.41 L358.2,137.36 L359.2,137.32 L360.2,137.28 L361.2,137.24 L362.2,137.21 L363.2,137.17 L364.2,137.14 L365.2,137.11 L366.2,137.08 L367.2,137.05 L368.2,137.02 L369.2,137.00 L370.2,136.98 L371.2,136.96 L372.2,136.94 L373.2,136.93 L374.2,136.92 L375.2,136.92 L376.2,136.92 L377.2,136.93 L378.2,136.95 L379.2,136.97 L380.2,137.00 L381.2,137.03 L382.2,137.08 L383.2,137.12 L384.2,137.17 L385.2,137.22 L386.2,137.27 L387.2,137.31 L388.2,137.35 L389.2,137.38 L390.2,137.40 L391.2,137.41 L392.2,137.40 L393.2,137.38 L394.2,137.34 L395.2,137.29 L396.2,137.23 L397.2,137.15 L398.2,137.06 L399.2,136.95 L400.2,136.83 L401.2,136.71 L402.2,136.56 L403.2,136.41 L404.2,136.25 L405.2,136.08 L406.2,135.90 L407.2,135.70 L408.2,135.49 L409.2,135.26 L410.2,135.01 L411.2,134.73 L412.2,134.44 L413.2,134.11 L414.2,133.76 L415.2,133.38 L416.2,132.97 L417.2,132.52 L418.2,132.03 L419.2,131.51 L420.2,130.97 L421.2,130.40 L422.2,129.81 L423.2,129.20 L424.2,128.57 L425.2,127.93 L426.2,127.29 L427.2,126.64 L428.2,125.99 L429.2,125.34 L430.2,124.69 L431.2,124.04 L432.2,123.40 L433.2,122.75 L434.2,122.09 L435.2,121.43 L436.2,120.75 L437.2,120.06 L438.2,119.35 L439.2,118.61 L440.2,117.86 L441.2,117.08 L442.2,116.27 L443.2,115.44 L444.2,114.58 L445.2,113.70 L446.2,112.81 L447.2,111.90 L448.2,110.98 L449.2,110.06 L450.2,109.13 L451.2,108.20 L452.2,107.28 L453.2,106.36 L454.2,105.46 L455.2,104.56 L456.2,103.68 L457.2,102.80 L458.2,101.94 L459.2,101.09 L460.2,100.25 L461.2,99.42 L462.2,98.61 L463.2,97.81 L464.2,97.02 L465.2,96.26 L466.2,95.52 L467.2,94.80 L468.2,94.11 L469.2,93.44 L470.2,92.80 L471.2,92.19 L472.2,91.61 L473.2,91.05 L474.2,90.53 L475.2,90.04 L476.2,89.58 L477.2,89.15 L478.2,88.76 L479.2,88.41 L480.2,88.08 L481.2,87.80 L482.2,87.54 L483.2,87.32 L484.2,87.12 L485.2,86.96 L486.2,86.83 L487.2,86.73 L488.2,86.65 L489.2,86.61 L490.2,86.59 L491.2,86.60 L492.2,86.63 L493.2,86.69 L494.2,86.78 L495.2,86.89 L496.2,87.02 L497.2,87.18 L498.2,87.36 L499.2,87.57 L500.2,87.80 L501.2,88.05 L502.2,88.34 L503.2,88.66 L504.2,89.02 L505.2,89.43 L506.2,89.90 L507.2,90.43 L508.2,91.03 L509.2,91.70 L510.2,92.46 L511.2,93.30 L512.2,94.21 L513.2,95.19 L514.2,96.21 L515.2,97.26 L516.2,98.34 L517.2,99.43 L518.2,100.52 L519.2,101.59 L520.2,102.65 L521.2,103.69 L522.2,104.72 L523.2,105.72 L524.2,106.71 L525.2,107.67 L526.2,108.61 L527.2,109.53 L528.2,110.42 L529.2,111.29 L530.2,112.13 L531.2,112.96 L532.2,113.77 L533.2,114.58 L534.2,115.38 L535.2,116.17 L536.2,116.96 L537.2,117.76 L538.2,118.56 L539.2,119.37 L540.2,120.17 L541.2,120.97 L542.2,121.75 L543.2,122.51 L544.2,123.25 L545.2,123.95 L546.2,124.61 L547.2,125.23 L548.2,125.80 L549.2,126.33 L550.2,126.81 L551.2,127.24 L552.2,127.63 L553.2,127.98 L554.2,128.29 L555.2,128.55 L556.2,128.76 L557.2,128.93 L558.2,129.05 L559.2,129.11 L560.2,129.12 L561.2,129.08 L562.2,129.00 L563.2,128.88 L564.2,128.74 L565.2,128.56 L566.2,128.37 L567.2,128.15 L568.2,127.91 L569.2,127.62 L570.2,127.30 L571.2,126.94 L572.2,126.52 L573.2,126.05 L574.2,125.52 L575.2,124.94 L576.2,124.31 L577.2,123.64 L578.2,122.94 L579.2,122.20 L580.2,121.44 L581.2,120.67 L582.2,119.87 L583.2,119.07 L584.2,118.26 L585.2,117.43 L586.2,116.59 L587.2,115.75 L588.2,114.89 L589.2,114.03 L590.2,113.15 L591.2,112.28 L592.2,111.39 L593.2,110.50 L594.2,109.60 L595.2,108.70 L596.2,107.80 L597.2,106.89" fill="none" stroke="#111" stroke-width="1.2" stroke-linejoin="round"/>
<path d="M80.2,218.20 L81.2,217.48 L82.2,216.95 L83.2,216.59 L84.2,216.37 L85.2,216.29 L86.2,216.32 L87.2,216.45 L88.2,216.65 L89.2,216.91 L90.2,217.21 L91.2,217.52 L92.2,217.84 L93.2,218.14 L94.2,218.40 L95.2,218.61 L96.2,218.74 L97.2,218.79 L98.2,218.74 L99.2,218.60 L100.2,218.36 L101.2,218.01 L102.2,217.60 L103.2,217.19 L104.2,216.87 L105.2,216.70 L106.2,216.77 L107.2,217.10 L108.2,217.68 L109.2,218.50 L110.2,219.54 L111.2,220.78 L112.2,221.97 L113.2,222.71 L114.2,222.64 L115.2,221.49 L116.2,219.10 L117.2,215.33 L118.2,210.25 L119.2,204.46 L120.2,198.60 L121.2,193.16 L122.2,188.43 L123.2,184.67 L124.2,181.89 L125.2,179.88 L126.2,178.46 L127.2,177.63 L128.2,177.53 L129.2,178.18 L130.2,179.31 L131.2,180.58 L132.2,181.69 L133.2,182.57 L134.2,183.23 L135.2,183.66 L136.2,183.88 L137.2,183.91 L138.2,183.78 L139.2,183.53 L140.2,183.19 L141.2,182.81 L142.2,182.41 L143.2,182.04 L144.2,181.72 L145.2,181.47 L146.2,181.27 L147.2,181.12 L148.2,181.00 L149.2,180.89 L150.2,180.78 L151.2,180.66 L152.2,180.54 L153.2,180.42 L154.2,180.33 L155.2,180.29 L156.2,180.32 L157.2,180.44 L158.2,180.67 L159.2,181.03 L160.2,181.51 L161.2,182.10 L162.2,182.77 L163.2,183.52 L164.2,184.32 L165.2,185.17 L166.2,186.04 L167.2,186.92 L168.2,187.81 L169.2,188.68 L170.2,189.53 L171.2,190.35 L172.2,191.12 L173.2,191.84 L174.2,192.49 L175.2,193.07 L176.2,193.57 L177.2,194.01 L178.2,194.37 L179.2,194.66 L180.2,194.87 L181.2,195.00 L182.2,195.05 L183.2,195.04 L184.2,194.96 L185.2,194.84 L186.2,194.66 L187.2,194.45 L188.2,194.20 L189.2,193.94 L190.2,193.69 L191.2,193.44 L192.2,193.23 L193.2,193.06 L194.2,192.94 L195.2,192.90 L196.2,192.94 L197.2,193.05 L198.2,193.21 L199.2,193.42 L200.2,193.67 L201.2,193.93 L202.2,194.21 L203.2,194.47 L204.2,194.72 L205.2,194.94 L206.2,195.13 L207.2,195.28 L208.2,195.39 L209.2,195.44 L210.2,195.44 L211.2,195.38 L212.2,195.26 L213.2,195.07 L214.2,194.84 L215.2,194.56 L216.2,194.23 L217.2,193.87 L218.2,193.48 L219.2,193.07 L220.2,192.64 L221.2,192.20 L222.2,191.75 L223.2,191.30 L224.2,190.85 L225.2,190.42 L226.2,189.99 L227.2,189.59 L228.2,189.21 L229.2,188.87 L230.2,188.55 L231.2,188.27 L232.2,188.01 L233.2,187.77 L234.2,187.54 L235.2,187.30 L236.2,187.07 L237.2,186.82 L238.2,186.54 L239.2,186.24 L240.2,185.89 L241.2,185.48 L242.2,184.99 L243.2,184.41 L244.2,183.71 L245.2,182.88 L246.2,181.92 L247.2,180.83 L248.2,179.65 L249.2,178.41 L250.2,177.15 L251.2,175.90 L252.2,174.68 L253.2,173.54 L254.2,172.48 L255.2,171.51 L256.2,170.63 L257.2,169.83 L258.2,169.12 L259.2,168.49 L260.2,167.95 L261.2,167.49 L262.2,167.11 L263.2,166.80 L264.2,166.58 L265.2,166.42 L266.2,166.32 L267.2,166.30 L268.2,166.33 L269.2,166.42 L270.2,166.55 L271.2,166.72 L272.2,166.92 L273.2,167.14 L274.2,167.36 L275.2,167.59 L276.2,167.81 L277.2,168.03 L278.2,168.22 L279.2,168.40 L280.2,168.55 L281.2,168.67 L282.2,168.75 L283.2,168.80 L284.2,168.80 L285.2,168.75 L286.2,168.67 L287.2,168.56 L288.2,168.42 L289.2,168.26 L290.2,168.08 L291.2,167.90 L292.2,167.71 L293.2,167.52 L294.2,167.34 L295.2,167.16 L296.2,167.00 L297.2,166.85 L298.2,166.72 L299.2,166.60 L300.2,166.49 L301.2,166.39 L302.2,166.31 L303.2,166.24 L304.2,166.18 L305.2,166.14 L306.2,166.11 L307.2,166.09 L308.2,166.09 L309.2,166.10 L310.2,166.13 L311.2,166.16 L312.2,166.20 L313.2,166.25 L314.2,166.30 L315.2,166.36 L316.2,166.43 L317.2,166.50 L318.2,166.57 L319.2,166.64 L320.2,166.71 L321.2,166.79 L322.2,166.86 L323.2,166.92 L324.2,166.98 L325.2,167.04 L326.2,167.10 L327.2,167.15 L328.2,167.19 L329.2,167.23 L330.2,167.26 L331.2,167.29 L332.2,167.31 L333.2,167.32 L334.2,167.32 L335.2,167.31 L336.2,167.30 L337.2,167.27 L338.2,167.24 L339.2,167.19 L340.2,167.14 L341.2,167.09 L342.2,167.02 L343.2,166.95 L344.2,166.88 L345.2,166.80 L346.2,166.71 L347.2,166.63 L348.2,166.54 L349.2,166.45 L350.2,166.36 L351.2,166.26 L352.2,166.17 L353.2,166.08 L354.2,165.99 L355.2,165.90 L356.2,165.81 L357.2,165.72 L358.2,165.63 L359.2,165.55 L360.2,165.47 L361.2,165.39 L362.2,165.32 L363.2,165.25 L364.2,165.18 L365.2,165.12 L366.2,165.06 L367.2,165.01 L368.2,164.96 L369.2,164.92 L370.2,164.88 L371.2,164.85 L372.2,164.83 L373.2,164.81 L374.2,164.80 L375.2,164.80 L376.2,164.81 L377.2,164.82 L378.2,164.85 L379.2,164.89 L380.2,164.95 L381.2,165.02 L382.2,165.11 L383.2,165.22 L384.2,165.36 L385.2,165.51 L386.2,165.68 L387.2,165.86 L388.2,166.05 L389.2,166.26 L390.2,166.47 L391.2,166.68 L392.2,166.90 L393.2,167.11 L394.2,167.33 L395.2,167.54 L396.2,167.74 L397.2,167.95 L398.2,168.15 L399.2,168.36 L400.2,168.56 L401.2,168.76 L402.2,168.97 L403.2,169.18 L404.2,169.39 L405.2,169.60 L406.2,169.82 L407.2,170.04 L408.2,170.26 L409.2,170.48 L410.2,170.70 L411.2,170.92 L412.2,171.13 L413.2,171.34 L414.2,171.53 L415.2,171.72 L416.2,171.90 L417.2,172.06 L418.2,172.22 L419.2,172.36 L420.2,172.48 L421.2,172.60 L422.2,172.70 L423.2,172.80 L424.2,172.89 L425.2,172.96 L426.2,173.04 L427.2,173.10 L428.2,173.15 L429.2,173.20 L430.2,173.25 L431.2,173.29 L432.2,173.32 L433.2,173.34 L434.2,173.35 L435.2,173.34 L436.2,173.33 L437.2,173.29 L438.2,173.24 L439.2,173.18 L440.2,173.09 L441.2,172.99 L442.2,172.86 L443.2,172.71 L444.2,172.55 L445.2,172.35 L446.2,172.14 L447.2,171.90 L448.2,171.64 L449.2,171.35 L450.2,171.04 L451.2,170.71 L452.2,170.35 L453.2,169.96 L454.2,169.56 L455.2,169.14 L456.2,168.69 L457.2,168.23 L458.2,167.75 L459.2,167.25 L460.2,166.73 L461.2,166.19 L462.2,165.62 L463.2,165.02 L464.2,164.40 L465.2,163.73 L466.2,163.03 L467.2,162.28 L468.2,161.48 L469.2,160.62 L470.2,159.71 L471.2,158.72 L472.2,157.69 L473.2,156.60 L474.2,155.48 L475.2,154.33 L476.2,153.15 L477.2,151.96 L478.2,150.77 L479.2,149.57 L480.2,148.39 L481.2,147.21 L482.2,146.04 L483.2,144.90 L484.2,143.78 L485.2,142.69 L486.2,141.62 L487.2,140.58 L488.2,139.57 L489.2,138.58 L490.2,137.61 L491.2,136.66 L492.2,135.75 L493.2,134.88 L494.2,134.08 L495.2,133.34 L496.2,132.68 L497.2,132.10 L498.2,131.59 L499.2,131.14 L500.2,130.72 L501.2,130.33 L502.2,129.98 L503.2,129.66 L504.2,129.38 L505.2,129.14 L506.2,128.94 L507.2,128.79 L508.2,128.67 L509.2,128.60 L510.2,128.57 L511.2,128.58 L512.2,128.62 L513.2,128.71 L514.2,128.84 L515.2,129.01 L516.2,129.22 L517.2,129.48 L518.2,129.80 L519.2,130.16 L520.2,130.58 L521.2,131.04 L522.2,131.55 L523.2,132.11 L524.2,132.71 L525.2,133.35 L526.2,134.02 L527.2,134.71 L528.2,135.43 L529.2,136.16 L530.2,136.90 L531.2,137.65 L532.2,138.41 L533.2,139.17 L534.2,139.93 L535.2,140.68 L536.2,141.42 L537.2,142.15 L538.2,142.87 L539.2,143.57 L540.2,144.25 L541.2,144.92 L542.2,145.57 L543.2,146.21 L544.2,146.83 L545.2,147.45 L546.2,148.05 L547.2,148.64 L548.2,149.23 L549.2,149.80 L550.2,150.37 L551.2,150.93 L552.2,151.47 L553.2,152.00 L554.2,152.51 L555.2,153.00 L556.2,153.47 L557.2,153.91 L558.2,154.33 L559.2,154.71 L560.2,155.07 L561.2,155.40 L562.2,155.71 L563.2,155.99 L564.2,156.26 L565.2,156.51 L566.2,156.75 L567.2,156.97 L568.2,157.19 L569.2,157.41 L570.2,157.62 L571.2,157.82 L572.2,158.02 L573.2,158.22 L574.2,158.40 L575.2,158.58 L576.2,158.75 L577.2,158.91 L578.2,159.06 L579.2,159.19 L580.2,159.32 L581.2,159.43 L582.2,159.52 L583.2,159.61 L584.2,159.67 L585.2,159.73 L586.2,159.77 L587.2,159.79 L588.2,159.80 L589.2,159.79 L590.2,159.77 L591.2,159.73 L592.2,159.67 L593.2,159.60 L594.2,159.50 L595.2,159.39 L596.2,159.26 L597.2,159.12 L597.3,358.2 L80.2,358.2 Z" fill="url(#g4)" stroke="none"/>
<path d="M80.2,218.20 L81.2,217.48 L82.2,216.95 L83.2,216.59 L84.2,216.37 L85.2,216.29 L86.2,216.32 L87.2,216.45 L88.2,216.65 L89.2,216.91 L90.2,217.21 L91.2,217.52 L92.2,217.84 L93.2,218.14 L94.2,218.40 L95.2,218.61 L96.2,218.74 L97.2,218.79 L98.2,218.74 L99.2,218.60 L100.2,218.36 L101.2,218.01 L102.2,217.60 L103.2,217.19 L104.2,216.87 L105.2,216.70 L106.2,216.77 L107.2,217.10 L108.2,217.68 L109.2,218.50 L110.2,219.54 L111.2,220.78 L112.2,221.97 L113.2,222.71 L114.2,222.64 L115.2,221.49 L116.2,219.10 L117.2,215.33 L118.2,210.25 L119.2,204.46 L120.2,198.60 L121.2,193.16 L122.2,188.43 L123.2,184.67 L124.2,181.89 L125.2,179.88 L126.2,178.46 L127.2,177.63 L128.2,177.53 L129.2,178.18 L130.2,179.31 L131.2,180.58 L132.2,181.69 L133.2,182.57 L134.2,183.23 L135.2,183.66 L136.2,183.88 L137.2,183.91 L138.2,183.78 L139.2,183.53 L140.2,183.19 L141.2,182.81 L142.2,182.41 L143.2,182.04 L144.2,181.72 L145.2,181.47 L146.2,181.27 L147.2,181.12 L148.2,181.00 L149.2,180.89 L150.2,180.78 L151.2,180.66 L152.2,180.54 L153.2,180.42 L154.2,180.33 L155.2,180.29 L156.2,180.32 L157.2,180.44 L158.2,180.67 L159.2,181.03 L160.2,181.51 L161.2,182.10 L162.2,182.77 L163.2,183.52 L164.2,184.32 L165.2,185.17 L166.2,186.04 L167.2,186.92 L168.2,187.81 L169.2,188.68 L170.2,189.53 L171.2,190.35 L172.2,191.12 L173.2,191.84 L174.2,192.49 L175.2,193.07 L176.2,193.57 L177.2,194.01 L178.2,194.37 L179.2,194.66 L180.2,194.87 L181.2,195.00 L182.2,195.05 L183.2,195.04 L184.2,194.96 L185.2,194.84 L186.2,194.66 L187.2,194.45 L188.2,194.20 L189.2,193.94 L190.2,193.69 L191.2,193.44 L192.2,193.23 L193.2,193.06 L194.2,192.94 L195.2,192.90 L196.2,192.94 L197.2,193.05 L198.2,193.21 L199.2,193.42 L200.2,193.67 L201.2,193.93 L202.2,194.21 L203.2,194.47 L204.2,194.72 L205.2,194.94 L206.2,195.13 L207.2,195.28 L208.2,195.39 L209.2,195.44 L210.2,195.44 L211.2,195.38 L212.2,195.26 L213.2,195.07 L214.2,194.84 L215.2,194.56 L216.2,194.23 L217.2,193.87 L218.2,193.48 L219.2,193.07 L220.2,192.64 L221.2,192.20 L222.2,191.75 L223.2,191.30 L224.2,190.85 L225.2,190.42 L226.2,189.99 L227.2,189.59 L228.2,189.21 L229.2,188.87 L230.2,188.55 L231.2,188.27 L232.2,188.01 L233.2,187.77 L234.2,187.54 L235.2,187.30 L236.2,187.07 L237.2,186.82 L238.2,186.54 L239.2,186.24 L240.2,185.89 L241.2,185.48 L242.2,184.99 L243.2,184.41 L244.2,183.71 L245.2,182.88 L246.2,181.92 L247.2,180.83 L248.2,179.65 L249.2,178.41 L250.2,177.15 L251.2,175.90 L252.2,174.68 L253.2,173.54 L254.2,172.48 L255.2,171.51 L256.2,170.63 L257.2,169.83 L258.2,169.12 L259.2,168.49 L260.2,167.95 L261.2,167.49 L262.2,167.11 L263.2,166.80 L264.2,166.58 L265.2,166.42 L266.2,166.32 L267.2,166.30 L268.2,166.33 L269.2,166.42 L270.2,166.55 L271.2,166.72 L272.2,166.92 L273.2,167.14 L274.2,167.36 L275.2,167.59 L276.2,167.81 L277.2,168.03 L278.2,168.22 L279.2,168.40 L280.2,168.55 L281.2,168.67 L282.2,168.75 L283.2,168.80 L284.2,168.80 L285.2,168.75 L286.2,168.67 L287.2,168.56 L288.2,168.42 L289.2,168.26 L290.2,168.08 L291.2,167.90 L292.2,167.71 L293.2,167.52 L294.2,167.34 L295.2,167.16 L296.2,167.00 L297.2,166.85 L298.2,166.72 L299.2,166.60 L300.2,166.49 L301.2,166.39 L302.2,166.31 L303.2,166.24 L304.2,166.18 L305.2,166.14 L306.2,166.11 L307.2,166.09 L308.2,166.09 L309.2,166.10 L310.2,166.13 L311.2,166.16 L312.2,166.20 L313.2,166.25 L314.2,166.30 L315.2,166.36 L316.2,166.43 L317.2,166.50 L318.2,166.57 L319.2,166.64 L320.2,166.71 L321.2,166.79 L322.2,166.86 L323.2,166.92 L324.2,166.98 L325.2,167.04 L326.2,167.10 L327.2,167.15 L328.2,167.19 L329.2,167.23 L330.2,167.26 L331.2,167.29 L332.2,167.31 L333.2,167.32 L334.2,167.32 L335.2,167.31 L336.2,167.30 L337.2,167.27 L338.2,167.24 L339.2,167.19 L340.2,167.14 L341.2,167.09 L342.2,167.02 L343.2,166.95 L344.2,166.88 L345.2,166.80 L346.2,166.71 L347.2,166.63 L348.2,166.54 L349.2,166.45 L350.2,166.36 L351.2,166.26 L352.2,166.17 L353.2,166.08 L354.2,165.99 L355.2,165.90 L356.2,165.81 L357.2,165.72 L358.2,165.63 L359.2,165.55 L360.2,165.47 L361.2,165.39 L362.2,165.32 L363.2,165.25 L364.2,165.18 L365.2,165.12 L366.2,165.06 L367.2,165.01 L368.2,164.96 L369.2,164.92 L370.2,164.88 L371.2,164.85 L372.2,164.83 L373.2,164.81 L374.2,164.80 L375.2,164.80 L376.2,164.81 L377.2,164.82 L378.2,164.85 L379.2,164.89 L380.2,164.95 L381.2,165.02 L382.2,165.11 L383.2,165.22 L384.2,165.36 L385.2,165.51 L386.2,165.68 L387.2,165.86 L388.2,166.05 L389.2,166.26 L390.2,166.47 L391.2,166.68 L392.2,166.90 L393.2,167.11 L394.2,167.33 L395.2,167.54 L396.2,167.74 L397.2,167.95 L398.2,168.15 L399.2,168.36 L400.2,168.56 L401.2,168.76 L402.2,168.97 L403.2,169.18 L404.2,169.39 L405.2,169.60 L406.2,169.82 L407.2,170.04 L408.2,170.26 L409.2,170.48 L410.2,170.70 L411.2,170.92 L412.2,171.13 L413.2,171.34 L414.2,171.53 L415.2,171.72 L416.2,171.90 L417.2,172.06 L418.2,172.22 L419.2,172.36 L420.2,172.48 L421.2,172.60 L422.2,172.70 L423.2,172.80 L424.2,172.89 L425.2,172.96 L426.2,173.04 L427.2,173.10 L428.2,173.15 L429.2,173.20 L430.2,173.25 L431.2,173.29 L432.2,173.32 L433.2,173.34 L434.2,173.35 L435.2,173.34 L436.2,173.33 L437.2,173.29 L438.2,173.24 L439.2,173.18 L440.2,173.09 L441.2,172.99 L442.2,172.86 L443.2,172.71 L444.2,172.55 L445.2,172.35 L446.2,172.14 L447.2,171.90 L448.2,171.64 L449.2,171.35 L450.2,171.04 L451.2,170.71 L452.2,170.35 L453.2,169.96 L454.2,169.56 L455.2,169.14 L456.2,168.69 L457.2,168.23 L458.2,167.75 L459.2,167.25 L460.2,166.73 L461.2,166.19 L462.2,165.62 L463.2,165.02 L464.2,164.40 L465.2,163.73 L466.2,163.03 L467.2,162.28 L468.2,161.48 L469.2,160.62 L470.2,159.71 L471.2,158.72 L472.2,157.69 L473.2,156.60 L474.2,155.48 L475.2,154.33 L476.2,153.15 L477.2,151.96 L478.2,150.77 L479.2,149.57 L480.2,148.39 L481.2,147.21 L482.2,146.04 L483.2,144.90 L484.2,143.78 L485.2,142.69 L486.2,141.62 L487.2,140.58 L488.2,139.57 L489.2,138.58 L490.2,137.61 L491.2,136.66 L492.2,135.75 L493.2,134.88 L494.2,134.08 L495.2,133.34 L496.2,132.68 L497.2,132.10 L498.2,131.59 L499.2,131.14 L500.2,130.72 L501.2,130.33 L502.2,129.98 L503.2,129.66 L504.2,129.38 L505.2,129.14 L506.2,128.94 L507.2,128.79 L508.2,128.67 L509.2,128.60 L510.2,128.57 L511.2,128.58 L512.2,128.62 L513.2,128.71 L514.2,128.84 L515.2,129.01 L516.2,129.22 L517.2,129.48 L518.2,129.80 L519.2,130.16 L520.2,130.58 L521.2,131.04 L522.2,131.55 L523.2,132.11 L524.2,132.71 L525.2,133.35 L526.2,134.02 L527.2,134.71 L528.2,135.43 L529.2,136.16 L530.2,136.90 L531.2,137.65 L532.2,138.41 L533.2,139.17 L534.2,139.93 L535.2,140.68 L536.2,141.42 L537.2,142.15 L538.2,142.87 L539.2,143.57 L540.2,144.25 L541.2,144.92 L542.2,145.57 L543.2,146.21 L544.2,146.83 L545.2,147.45 L546.2,148.05 L547.2,148.64 L548.2,149.23 L549.2,149.80 L550.2,150.37 L551.2,150.93 L552.2,151.47 L553.2,152.00 L554.2,152.51 L555.2,153.00 L556.2,153.47 L557.2,153.91 L558.2,154.33 L559.2,154.71 L560.2,155.07 L561.2,155.40 L562.2,155.71 L563.2,155.99 L564.2,156.26 L565.2,156.51 L566.2,156.75 L567.2,156.97 L568.2,157.19 L569.2,157.41 L570.2,157.62 L571.2,157.82 L572.2,158.02 L573.2,158.22 L574.2,158.40 L575.2,158.58 L576.2,158.75 L577.2,158.91 L578.2,159.06 L579.2,159.19 L580.2,159.32 L581.2,159.43 L582.2,159.52 L583.2,159.61 L584.2,159.67 L585.2,159.73 L586.2,159.77 L587.2,159.79 L588.2,159.80 L589.2,159.79 L590.2,159.77 L591.2,159.73 L592.2,159.67 L593.2,159.60 L594.2,159.50 L595.2,159.39 L596.2,159.26 L597.2,159.12" fill="none" stroke="#111" stroke-width="1.2" stroke-linejoin="round"/>
<path d="M80.2,249.60 L81.2,248.36 L82.2,247.40 L83.2,246.71 L84.2,246.27 L85.2,246.06 L86.2,246.05 L87.2,246.24 L88.2,246.60 L89.2,247.11 L90.2,247.76 L91.2,248.52 L92.2,249.37 L93.2,250.30 L94.2,251.29 L95.2,252.32 L96.2,253.32 L97.2,254.20 L98.2,254.88 L99.2,255.26 L100.2,255.30 L101.2,255.04 L102.2,254.63 L103.2,254.20 L104.2,253.88 L105.2,253.81 L106.2,254.03 L107.2,254.53 L108.2,255.27 L109.2,256.20 L110.2,257.25 L111.2,258.21 L112.2,258.81 L113.2,258.80 L114.2,257.95 L115.2,256.23 L116.2,253.70 L117.2,250.44 L118.2,246.45 L119.2,241.56 L120.2,235.57 L121.2,228.50 L122.2,221.65 L123.2,216.60 L124.2,213.46 L125.2,211.50 L126.2,210.10 L127.2,209.21 L128.2,208.90 L129.2,209.20 L130.2,209.96 L131.2,211.02 L132.2,212.19 L133.2,213.32 L134.2,214.23 L135.2,214.77 L136.2,214.95 L137.2,214.84 L138.2,214.50 L139.2,213.99 L140.2,213.37 L141.2,212.71 L142.2,212.06 L143.2,211.49 L144.2,211.06 L145.2,210.79 L146.2,210.65 L147.2,210.63 L148.2,210.70 L149.2,210.86 L150.2,211.08 L151.2,211.35 L152.2,211.64 L153.2,211.94 L154.2,212.23 L155.2,212.51 L156.2,212.77 L157.2,213.02 L158.2,213.27 L159.2,213.51 L160.2,213.75 L161.2,213.98 L162.2,214.22 L163.2,214.45 L164.2,214.69 L165.2,214.94 L166.2,215.19 L167.2,215.45 L168.2,215.73 L169.2,216.01 L170.2,216.31 L171.2,216.61 L172.2,216.92 L173.2,217.23 L174.2,217.53 L175.2,217.83 L176.2,218.12 L177.2,218.41 L178.2,218.67 L179.2,218.92 L180.2,219.16 L181.2,219.37 L182.2,219.55 L183.2,219.72 L184.2,219.86 L185.2,219.99 L186.2,220.10 L187.2,220.19 L188.2,220.26 L189.2,220.31 L190.2,220.36 L191.2,220.38 L192.2,220.40 L193.2,220.40 L194.2,220.39 L195.2,220.36 L196.2,220.33 L197.2,220.27 L198.2,220.20 L199.2,220.11 L200.2,220.00 L201.2,219.87 L202.2,219.72 L203.2,219.55 L204.2,219.35 L205.2,219.13 L206.2,218.89 L207.2,218.62 L208.2,218.33 L209.2,218.02 L210.2,217.69 L211.2,217.34 L212.2,216.98 L213.2,216.60 L214.2,216.22 L215.2,215.82 L216.2,215.41 L217.2,215.00 L218.2,214.58 L219.2,214.17 L220.2,213.77 L221.2,213.41 L222.2,213.08 L223.2,212.80 L224.2,212.58 L225.2,212.43 L226.2,212.36 L227.2,212.38 L228.2,212.48 L229.2,212.67 L230.2,212.94 L231.2,213.28 L232.2,213.70 L233.2,214.20 L234.2,214.74 L235.2,215.33 L236.2,215.95 L237.2,216.59 L238.2,217.23 L239.2,217.86 L240.2,218.45 L241.2,218.98 L242.2,219.42 L243.2,219.76 L244.2,219.97 L245.2,220.01 L246.2,219.88 L247.2,219.55 L248.2,219.02 L249.2,218.29 L250.2,217.35 L251.2,216.19 L252.2,214.81 L253.2,213.25 L254.2,211.58 L255.2,209.87 L256.2,208.19 L257.2,206.60 L258.2,205.16 L259.2,203.91 L260.2,202.81 L261.2,201.86 L262.2,201.02 L263.2,200.29 L264.2,199.65 L265.2,199.10 L266.2,198.65 L267.2,198.34 L268.2,198.20 L269.2,198.25 L270.2,198.48 L271.2,198.87 L272.2,199.39 L273.2,200.00 L274.2,200.68 L275.2,201.39 L276.2,202.10 L277.2,202.82 L278.2,203.53 L279.2,204.22 L280.2,204.87 L281.2,205.49 L282.2,206.05 L283.2,206.56 L284.2,207.01 L285.2,207.41 L286.2,207.75 L287.2,208.03 L288.2,208.27 L289.2,208.45 L290.2,208.59 L291.2,208.67 L292.2,208.70 L293.2,208.65 L294.2,208.53 L295.2,208.33 L296.2,208.06 L297.2,207.72 L298.2,207.31 L299.2,206.86 L300.2,206.36 L301.2,205.83 L302.2,205.27 L303.2,204.70 L304.2,204.11 L305.2,203.51 L306.2,202.91 L307.2,202.32 L308.2,201.73 L309.2,201.16 L310.2,200.62 L311.2,200.10 L312.2,199.61 L313.2,199.16 L314.2,198.75 L315.2,198.37 L316.2,198.02 L317.2,197.70 L318.2,197.41 L319.2,197.16 L320.2,196.93 L321.2,196.74 L322.2,196.57 L323.2,196.42 L324.2,196.30 L325.2,196.20 L326.2,196.11 L327.2,196.04 L328.2,195.98 L329.2,195.92 L330.2,195.87 L331.2,195.83 L332.2,195.78 L333.2,195.73 L334.2,195.67 L335.2,195.61 L336.2,195.53 L337.2,195.45 L338.2,195.37 L339.2,195.27 L340.2,195.17 L341.2,195.07 L342.2,194.96 L343.2,194.84 L344.2,194.72 L345.2,194.59 L346.2,194.46 L347.2,194.33 L348.2,194.19 L349.2,194.05 L350.2,193.90 L351.2,193.76 L352.2,193.62 L353.2,193.47 L354.2,193.33 L355.2,193.19 L356.2,193.05 L357.2,192.92 L358.2,192.79 L359.2,192.66 L360.2,192.55 L361.2,192.43 L362.2,192.33 L363.2,192.23 L364.2,192.14 L365.2,192.05 L366.2,191.97 L367.2,191.90 L368.2,191.83 L369.2,191.77 L370.2,191.72 L371.2,191.67 L372.2,191.63 L373.2,191.59 L374.2,191.56 L375.2,191.53 L376.2,191.51 L377.2,191.50 L378.2,191.50 L379.2,191.51 L380.2,191.52 L381.2,191.55 L382.2,191.59 L383.2,191.65 L384.2,191.71 L385.2,191.80 L386.2,191.89 L387.2,192.00 L388.2,192.12 L389.2,192.26 L390.2,192.41 L391.2,192.58 L392.2,192.76 L393.2,192.96 L394.2,193.17 L395.2,193.39 L396.2,193.61 L397.2,193.84 L398.2,194.07 L399.2,194.30 L400.2,194.52 L401.2,194.74 L402.2,194.96 L403.2,195.16 L404.2,195.36 L405.2,195.55 L406.2,195.73 L407.2,195.89 L408.2,196.05 L409.2,196.19 L410.2,196.32 L411.2,196.44 L412.2,196.54 L413.2,196.63 L414.2,196.69 L415.2,196.74 L416.2,196.77 L417.2,196.78 L418.2,196.76 L419.2,196.73 L420.2,196.67 L421.2,196.59 L422.2,196.48 L423.2,196.34 L424.2,196.18 L425.2,195.99 L426.2,195.77 L427.2,195.52 L428.2,195.24 L429.2,194.93 L430.2,194.59 L431.2,194.22 L432.2,193.81 L433.2,193.38 L434.2,192.90 L435.2,192.40 L436.2,191.86 L437.2,191.30 L438.2,190.72 L439.2,190.12 L440.2,189.50 L441.2,188.88 L442.2,188.25 L443.2,187.62 L444.2,187.00 L445.2,186.38 L446.2,185.77 L447.2,185.17 L448.2,184.60 L449.2,184.05 L450.2,183.51 L451.2,183.00 L452.2,182.50 L453.2,182.03 L454.2,181.57 L455.2,181.14 L456.2,180.72 L457.2,180.32 L458.2,179.94 L459.2,179.58 L460.2,179.24 L461.2,178.92 L462.2,178.62 L463.2,178.34 L464.2,178.09 L465.2,177.85 L466.2,177.64 L467.2,177.45 L468.2,177.27 L469.2,177.12 L470.2,176.99 L471.2,176.87 L472.2,176.76 L473.2,176.67 L474.2,176.60 L475.2,176.53 L476.2,176.48 L477.2,176.43 L478.2,176.40 L479.2,176.37 L480.2,176.34 L481.2,176.33 L482.2,176.32 L483.2,176.31 L484.2,176.32 L485.2,176.33 L486.2,176.35 L487.2,176.38 L488.2,176.41 L489.2,176.45 L490.2,176.50 L491.2,176.56 L492.2,176.62 L493.2,176.69 L494.2,176.76 L495.2,176.83 L496.2,176.91 L497.2,176.99 L498.2,177.07 L499.2,177.15 L500.2,177.23 L501.2,177.32 L502.2,177.40 L503.2,177.48 L504.2,177.56 L505.2,177.64 L506.2,177.72 L507.2,177.80 L508.2,177.88 L509.2,177.96 L510.2,178.03 L511.2,178.11 L512.2,178.19 L513.2,178.27 L514.2,178.35 L515.2,178.43 L516.2,178.51 L517.2,178.59 L518.2,178.68 L519.2,178.76 L520.2,178.83 L521.2,178.91 L522.2,178.99 L523.2,179.06 L524.2,179.14 L525.2,179.21 L526.2,179.27 L527.2,179.34 L528.2,179.39 L529.2,179.45 L530.2,179.50 L531.2,179.55 L532.2,179.59 L533.2,179.63 L534.2,179.67 L535.2,179.70 L536.2,179.73 L537.2,179.75 L538.2,179.77 L539.2,179.79 L540.2,179.80 L541.2,179.81 L542.2,179.82 L543.2,179.83 L544.2,179.83 L545.2,179.83 L546.2,179.82 L547.2,179.82 L548.2,179.81 L549.2,179.80 L550.2,179.79 L551.2,179.77 L552.2,179.76 L553.2,179.74 L554.2,179.71 L555.2,179.69 L556.2,179.65 L557.2,179.62 L558.2,179.57 L559.2,179.52 L560.2,179.47 L561.2,179.41 L562.2,179.34 L563.2,179.26 L564.2,179.18 L565.2,179.09 L566.2,179.00 L567.2,178.90 L568.2,178.80 L569.2,178.69 L570.2,178.58 L571.2,178.47 L572.2,178.36 L573.2,178.25 L574.2,178.13 L575.2,178.02 L576.2,177.90 L577.2,177.79 L578.2,177.67 L579.2,177.55 L580.2,177.43 L581.2,177.31 L582.2,177.18 L583.2,177.05 L584.2,176.93 L585.2,176.79 L586.2,176.66 L587.2,176.52 L588.2,176.38 L589.2,176.24 L590.2,176.09 L591.2,175.93 L592.2,175.78 L593.2,175.61 L594.2,175.45 L595.2,175.28 L596.2,175.10 L597.2,174.92 L597.3,358.2 L80.2,358.2 Z" fill="url(#g5)" stroke="none"/>
<path d="M80.2,249.60 L81.2,248.36 L82.2,247.40 L83.2,246.71 L84.2,246.27 L85.2,246.06 L86.2,246.05 L87.2,246.24 L88.2,246.60 L89.2,247.11 L90.2,247.76 L91.2,248.52 L92.2,249.37 L93.2,250.30 L94.2,251.29 L95.2,252.32 L96.2,253.32 L97.2,254.20 L98.2,254.88 L99.2,255.26 L100.2,255.30 L101.2,255.04 L102.2,254.63 L103.2,254.20 L104.2,253.88 L105.2,253.81 L106.2,254.03 L107.2,254.53 L108.2,255.27 L109.2,256.20 L110.2,257.25 L111.2,258.21 L112.2,258.81 L113.2,258.80 L114.2,257.95 L115.2,256.23 L116.2,253.70 L117.2,250.44 L118.2,246.45 L119.2,241.56 L120.2,235.57 L121.2,228.50 L122.2,221.65 L123.2,216.60 L124.2,213.46 L125.2,211.50 L126.2,210.10 L127.2,209.21 L128.2,208.90 L129.2,209.20 L130.2,209.96 L131.2,211.02 L132.2,212.19 L133.2,213.32 L134.2,214.23 L135.2,214.77 L136.2,214.95 L137.2,214.84 L138.2,214.50 L139.2,213.99 L140.2,213.37 L141.2,212.71 L142.2,212.06 L143.2,211.49 L144.2,211.06 L145.2,210.79 L146.2,210.65 L147.2,210.63 L148.2,210.70 L149.2,210.86 L150.2,211.08 L151.2,211.35 L152.2,211.64 L153.2,211.94 L154.2,212.23 L155.2,212.51 L156.2,212.77 L157.2,213.02 L158.2,213.27 L159.2,213.51 L160.2,213.75 L161.2,213.98 L162.2,214.22 L163.2,214.45 L164.2,214.69 L165.2,214.94 L166.2,215.19 L167.2,215.45 L168.2,215.73 L169.2,216.01 L170.2,216.31 L171.2,216.61 L172.2,216.92 L173.2,217.23 L174.2,217.53 L175.2,217.83 L176.2,218.12 L177.2,218.41 L178.2,218.67 L179.2,218.92 L180.2,219.16 L181.2,219.37 L182.2,219.55 L183.2,219.72 L184.2,219.86 L185.2,219.99 L186.2,220.10 L187.2,220.19 L188.2,220.26 L189.2,220.31 L190.2,220.36 L191.2,220.38 L192.2,220.40 L193.2,220.40 L194.2,220.39 L195.2,220.36 L196.2,220.33 L197.2,220.27 L198.2,220.20 L199.2,220.11 L200.2,220.00 L201.2,219.87 L202.2,219.72 L203.2,219.55 L204.2,219.35 L205.2,219.13 L206.2,218.89 L207.2,218.62 L208.2,218.33 L209.2,218.02 L210.2,217.69 L211.2,217.34 L212.2,216.98 L213.2,216.60 L214.2,216.22 L215.2,215.82 L216.2,215.41 L217.2,215.00 L218.2,214.58 L219.2,214.17 L220.2,213.77 L221.2,213.41 L222.2,213.08 L223.2,212.80 L224.2,212.58 L225.2,212.43 L226.2,212.36 L227.2,212.38 L228.2,212.48 L229.2,212.67 L230.2,212.94 L231.2,213.28 L232.2,213.70 L233.2,214.20 L234.2,214.74 L235.2,215.33 L236.2,215.95 L237.2,216.59 L238.2,217.23 L239.2,217.86 L240.2,218.45 L241.2,218.98 L242.2,219.42 L243.2,219.76 L244.2,219.97 L245.2,220.01 L246.2,219.88 L247.2,219.55 L248.2,219.02 L249.2,218.29 L250.2,217.35 L251.2,216.19 L252.2,214.81 L253.2,213.25 L254.2,211.58 L255.2,209.87 L256.2,208.19 L257.2,206.60 L258.2,205.16 L259.2,203.91 L260.2,202.81 L261.2,201.86 L262.2,201.02 L263.2,200.29 L264.2,199.65 L265.2,199.10 L266.2,198.65 L267.2,198.34 L268.2,198.20 L269.2,198.25 L270.2,198.48 L271.2,198.87 L272.2,199.39 L273.2,200.00 L274.2,200.68 L275.2,201.39 L276.2,202.10 L277.2,202.82 L278.2,203.53 L279.2,204.22 L280.2,204.87 L281.2,205.49 L282.2,206.05 L283.2,206.56 L284.2,207.01 L285.2,207.41 L286.2,207.75 L287.2,208.03 L288.2,208.27 L289.2,208.45 L290.2,208.59 L291.2,208.67 L292.2,208.70 L293.2,208.65 L294.2,208.53 L295.2,208.33 L296.2,208.06 L297.2,207.72 L298.2,207.31 L299.2,206.86 L300.2,206.36 L301.2,205.83 L302.2,205.27 L303.2,204.70 L304.2,204.11 L305.2,203.51 L306.2,202.91 L307.2,202.32 L308.2,201.73 L309.2,201.16 L310.2,200.62 L311.2,200.10 L312.2,199.61 L313.2,199.16 L314.2,198.75 L315.2,198.37 L316.2,198.02 L317.2,197.70 L318.2,197.41 L319.2,197.16 L320.2,196.93 L321.2,196.74 L322.2,196.57 L323.2,196.42 L324.2,196.30 L325.2,196.20 L326.2,196.11 L327.2,196.04 L328.2,195.98 L329.2,195.92 L330.2,195.87 L331.2,195.83 L332.2,195.78 L333.2,195.73 L334.2,195.67 L335.2,195.61 L336.2,195.53 L337.2,195.45 L338.2,195.37 L339.2,195.27 L340.2,195.17 L341.2,195.07 L342.2,194.96 L343.2,194.84 L344.2,194.72 L345.2,194.59 L346.2,194.46 L347.2,194.33 L348.2,194.19 L349.2,194.05 L350.2,193.90 L351.2,193.76 L352.2,193.62 L353.2,193.47 L354.2,193.33 L355.2,193.19 L356.2,193.05 L357.2,192.92 L358.2,192.79 L359.2,192.66 L360.2,192.55 L361.2,192.43 L362.2,192.33 L363.2,192.23 L364.2,192.14 L365.2,192.05 L366.2,191.97 L367.2,191.90 L368.2,191.83 L369.2,191.77 L370.2,191.72 L371.2,191.67 L372.2,191.63 L373.2,191.59 L374.2,191.56 L375.2,191.53 L376.2,191.51 L377.2,191.50 L378.2,191.50 L379.2,191.51 L380.2,191.52 L381.2,191.55 L382.2,191.59 L383.2,191.65 L384.2,191.71 L385.2,191.80 L386.2,191.89 L387.2,192.00 L388.2,192.12 L389.2,192.26 L390.2,192.41 L391.2,192.58 L392.2,192.76 L393.2,192.96 L394.2,193.17 L395.2,193.39 L396.2,193.61 L397.2,193.84 L398.2,194.07 L399.2,194.30 L400.2,194.52 L401.2,194.74 L402.2,194.96 L403.2,195.16 L404.2,195.36 L405.2,195.55 L406.2,195.73 L407.2,195.89 L408.2,196.05 L409.2,196.19 L410.2,196.32 L411.2,196.44 L412.2,196.54 L413.2,196.63 L414.2,196.69 L415.2,196.74 L416.2,196.77 L417.2,196.78 L418.2,196.76 L419.2,196.73 L420.2,196.67 L421.2,196.59 L422.2,196.48 L423.2,196.34 L424.2,196.18 L425.2,195.99 L426.2,195.77 L427.2,195.52 L428.2,195.24 L429.2,194.93 L430.2,194.59 L431.2,194.22 L432.2,193.81 L433.2,193.38 L434.2,192.90 L435.2,192.40 L436.2,191.86 L437.2,191.30 L438.2,190.72 L439.2,190.12 L440.2,189.50 L441.2,188.88 L442.2,188.25 L443.2,187.62 L444.2,187.00 L445.2,186.38 L446.2,185.77 L447.2,185.17 L448.2,184.60 L449.2,184.05 L450.2,183.51 L451.2,183.00 L452.2,182.50 L453.2,182.03 L454.2,181.57 L455.2,181.14 L456.2,180.72 L457.2,180.32 L458.2,179.94 L459.2,179.58 L460.2,179.24 L461.2,178.92 L462.2,178.62 L463.2,178.34 L464.2,178.09 L465.2,177.85 L466.2,177.64 L467.2,177.45 L468.2,177.27 L469.2,177.12 L470.2,176.99 L471.2,176.87 L472.2,176.76 L473.2,176.67 L474.2,176.60 L475.2,176.53 L476.2,176.48 L477.2,176.43 L478.2,176.40 L479.2,176.37 L480.2,176.34 L481.2,176.33 L482.2,176.32 L483.2,176.31 L484.2,176.32 L485.2,176.33 L486.2,176.35 L487.2,176.38 L488.2,176.41 L489.2,176.45 L490.2,176.50 L491.2,176.56 L492.2,176.62 L493.2,176.69 L494.2,176.76 L495.2,176.83 L496.2,176.91 L497.2,176.99 L498.2,177.07 L499.2,177.15 L500.2,177.23 L501.2,177.32 L502.2,177.40 L503.2,177.48 L504.2,177.56 L505.2,177.64 L506.2,177.72 L507.2,177.80 L508.2,177.88 L509.2,177.96 L510.2,178.03 L511.2,178.11 L512.2,178.19 L513.2,178.27 L514.2,178.35 L515.2,178.43 L516.2,178.51 L517.2,178.59 L518.2,178.68 L519.2,178.76 L520.2,178.83 L521.2,178.91 L522.2,178.99 L523.2,179.06 L524.2,179.14 L525.2,179.21 L526.2,179.27 L527.2,179.34 L528.2,179.39 L529.2,179.45 L530.2,179.50 L531.2,179.55 L532.2,179.59 L533.2,179.63 L534.2,179.67 L535.2,179.70 L536.2,179.73 L537.2,179.75 L538.2,179.77 L539.2,179.79 L540.2,179.80 L541.2,179.81 L542.2,179.82 L543.2,179.83 L544.2,179.83 L545.2,179.83 L546.2,179.82 L547.2,179.82 L548.2,179.81 L549.2,179.80 L550.2,179.79 L551.2,179.77 L552.2,179.76 L553.2,179.74 L554.2,179.71 L555.2,179.69 L556.2,179.65 L557.2,179.62 L558.2,179.57 L559.2,179.52 L560.2,179.47 L561.2,179.41 L562.2,179.34 L563.2,179.26 L564.2,179.18 L565.2,179.09 L566.2,179.00 L567.2,178.90 L568.2,178.80 L569.2,178.69 L570.2,178.58 L571.2,178.47 L572.2,178.36 L573.2,178.25 L574.2,178.13 L575.2,178.02 L576.2,177.90 L577.2,177.79 L578.2,177.67 L579.2,177.55 L580.2,177.43 L581.2,177.31 L582.2,177.18 L583.2,177.05 L584.2,176.93 L585.2,176.79 L586.2,176.66 L587.2,176.52 L588.2,176.38 L589.2,176.24 L590.2,176.09 L591.2,175.93 L592.2,175.78 L593.2,175.61 L594.2,175.45 L595.2,175.28 L596.2,175.10 L597.2,174.92" fill="none" stroke="#111" stroke-width="1.2" stroke-linejoin="round"/>
<path d="M80.2,281.50 L81.2,280.83 L82.2,280.30 L83.2,279.90 L84.2,279.62 L85.2,279.46 L86.2,279.40 L87.2,279.44 L88.2,279.58 L89.2,279.79 L90.2,280.09 L91.2,280.44 L92.2,280.86 L93.2,281.33 L94.2,281.84 L95.2,282.38 L96.2,282.92 L97.2,283.40 L98.2,283.77 L99.2,283.98 L100.2,283.97 L101.2,283.75 L102.2,283.41 L103.2,283.06 L104.2,282.78 L105.2,282.69 L106.2,282.83 L107.2,283.18 L108.2,283.71 L109.2,284.40 L110.2,285.19 L111.2,285.93 L112.2,286.41 L113.2,286.46 L114.2,285.88 L115.2,284.49 L116.2,282.12 L117.2,278.59 L118.2,273.86 L119.2,268.34 L120.2,262.49 L121.2,256.75 L122.2,251.40 L123.2,246.68 L124.2,242.80 L125.2,239.93 L126.2,238.03 L127.2,237.04 L128.2,236.93 L129.2,237.51 L130.2,238.51 L131.2,239.68 L132.2,240.78 L133.2,241.71 L134.2,242.42 L135.2,242.87 L136.2,243.03 L137.2,242.95 L138.2,242.69 L139.2,242.29 L140.2,241.82 L141.2,241.31 L142.2,240.83 L143.2,240.43 L144.2,240.15 L145.2,240.02 L146.2,240.01 L147.2,240.12 L148.2,240.32 L149.2,240.60 L150.2,240.94 L151.2,241.34 L152.2,241.76 L153.2,242.21 L154.2,242.66 L155.2,243.12 L156.2,243.59 L157.2,244.09 L158.2,244.63 L159.2,245.22 L160.2,245.86 L161.2,246.57 L162.2,247.36 L163.2,248.23 L164.2,249.17 L165.2,250.16 L166.2,251.19 L167.2,252.25 L168.2,253.31 L169.2,254.36 L170.2,255.40 L171.2,256.39 L172.2,257.34 L173.2,258.24 L174.2,259.06 L175.2,259.82 L176.2,260.48 L177.2,261.06 L178.2,261.53 L179.2,261.90 L180.2,262.16 L181.2,262.32 L182.2,262.40 L183.2,262.38 L184.2,262.29 L185.2,262.13 L186.2,261.91 L187.2,261.65 L188.2,261.35 L189.2,261.03 L190.2,260.69 L191.2,260.35 L192.2,260.03 L193.2,259.72 L194.2,259.44 L195.2,259.18 L196.2,258.95 L197.2,258.75 L198.2,258.58 L199.2,258.44 L200.2,258.33 L201.2,258.25 L202.2,258.21 L203.2,258.20 L204.2,258.21 L205.2,258.24 L206.2,258.28 L207.2,258.31 L208.2,258.33 L209.2,258.32 L210.2,258.27 L211.2,258.18 L212.2,258.03 L213.2,257.83 L214.2,257.59 L215.2,257.32 L216.2,257.01 L217.2,256.67 L218.2,256.32 L219.2,255.95 L220.2,255.57 L221.2,255.20 L222.2,254.84 L223.2,254.52 L224.2,254.23 L225.2,254.01 L226.2,253.86 L227.2,253.79 L228.2,253.83 L229.2,253.95 L230.2,254.17 L231.2,254.48 L232.2,254.87 L233.2,255.35 L234.2,255.91 L235.2,256.51 L236.2,257.13 L237.2,257.74 L238.2,258.31 L239.2,258.80 L240.2,259.20 L241.2,259.48 L242.2,259.62 L243.2,259.59 L244.2,259.37 L245.2,258.94 L246.2,258.29 L247.2,257.40 L248.2,256.28 L249.2,254.90 L250.2,253.28 L251.2,251.45 L252.2,249.46 L253.2,247.34 L254.2,245.14 L255.2,242.90 L256.2,240.66 L257.2,238.47 L258.2,236.35 L259.2,234.35 L260.2,232.50 L261.2,230.85 L262.2,229.43 L263.2,228.23 L264.2,227.23 L265.2,226.43 L266.2,225.80 L267.2,225.34 L268.2,225.06 L269.2,224.99 L270.2,225.14 L271.2,225.49 L272.2,226.02 L273.2,226.70 L274.2,227.48 L275.2,228.36 L276.2,229.31 L277.2,230.33 L278.2,231.41 L279.2,232.53 L280.2,233.68 L281.2,234.85 L282.2,236.03 L283.2,237.22 L284.2,238.40 L285.2,239.56 L286.2,240.70 L287.2,241.81 L288.2,242.88 L289.2,243.90 L290.2,244.87 L291.2,245.79 L292.2,246.65 L293.2,247.44 L294.2,248.16 L295.2,248.81 L296.2,249.39 L297.2,249.90 L298.2,250.35 L299.2,250.74 L300.2,251.07 L301.2,251.35 L302.2,251.59 L303.2,251.78 L304.2,251.93 L305.2,252.04 L306.2,252.12 L307.2,252.17 L308.2,252.20 L309.2,252.20 L310.2,252.18 L311.2,252.15 L312.2,252.10 L313.2,252.03 L314.2,251.95 L315.2,251.85 L316.2,251.74 L317.2,251.62 L318.2,251.49 L319.2,251.34 L320.2,251.19 L321.2,251.03 L322.2,250.87 L323.2,250.69 L324.2,250.51 L325.2,250.33 L326.2,250.14 L327.2,249.95 L328.2,249.75 L329.2,249.55 L330.2,249.34 L331.2,249.13 L332.2,248.92 L333.2,248.71 L334.2,248.49 L335.2,248.27 L336.2,248.05 L337.2,247.83 L338.2,247.59 L339.2,247.35 L340.2,247.10 L341.2,246.84 L342.2,246.56 L343.2,246.27 L344.2,245.96 L345.2,245.64 L346.2,245.29 L347.2,244.93 L348.2,244.55 L349.2,244.14 L350.2,243.72 L351.2,243.28 L352.2,242.82 L353.2,242.34 L354.2,241.85 L355.2,241.34 L356.2,240.81 L357.2,240.26 L358.2,239.70 L359.2,239.12 L360.2,238.53 L361.2,237.91 L362.2,237.28 L363.2,236.62 L364.2,235.94 L365.2,235.23 L366.2,234.50 L367.2,233.73 L368.2,232.94 L369.2,232.11 L370.2,231.25 L371.2,230.35 L372.2,229.41 L373.2,228.42 L374.2,227.40 L375.2,226.32 L376.2,225.20 L377.2,224.03 L378.2,222.80 L379.2,221.53 L380.2,220.21 L381.2,218.85 L382.2,217.48 L383.2,216.09 L384.2,214.69 L385.2,213.29 L386.2,211.90 L387.2,210.53 L388.2,209.16 L389.2,207.80 L390.2,206.41 L391.2,204.99 L392.2,203.54 L393.2,202.02 L394.2,200.45 L395.2,198.82 L396.2,197.20 L397.2,195.60 L398.2,194.09 L399.2,192.69 L400.2,191.40 L401.2,190.19 L402.2,189.04 L403.2,187.93 L404.2,186.83 L405.2,185.72 L406.2,184.61 L407.2,183.51 L408.2,182.45 L409.2,181.45 L410.2,180.52 L411.2,179.70 L412.2,178.99 L413.2,178.36 L414.2,177.82 L415.2,177.35 L416.2,176.93 L417.2,176.55 L418.2,176.22 L419.2,175.92 L420.2,175.67 L421.2,175.47 L422.2,175.32 L423.2,175.23 L424.2,175.20 L425.2,175.23 L426.2,175.32 L427.2,175.47 L428.2,175.67 L429.2,175.93 L430.2,176.23 L431.2,176.59 L432.2,176.98 L433.2,177.42 L434.2,177.91 L435.2,178.44 L436.2,179.01 L437.2,179.64 L438.2,180.30 L439.2,181.02 L440.2,181.78 L441.2,182.58 L442.2,183.42 L443.2,184.29 L444.2,185.17 L445.2,186.08 L446.2,187.00 L447.2,187.93 L448.2,188.85 L449.2,189.78 L450.2,190.71 L451.2,191.63 L452.2,192.54 L453.2,193.44 L454.2,194.33 L455.2,195.20 L456.2,196.05 L457.2,196.87 L458.2,197.68 L459.2,198.45 L460.2,199.20 L461.2,199.91 L462.2,200.59 L463.2,201.24 L464.2,201.86 L465.2,202.45 L466.2,203.01 L467.2,203.54 L468.2,204.05 L469.2,204.53 L470.2,204.99 L471.2,205.42 L472.2,205.83 L473.2,206.22 L474.2,206.58 L475.2,206.93 L476.2,207.25 L477.2,207.55 L478.2,207.83 L479.2,208.09 L480.2,208.33 L481.2,208.55 L482.2,208.74 L483.2,208.92 L484.2,209.08 L485.2,209.22 L486.2,209.34 L487.2,209.44 L488.2,209.52 L489.2,209.58 L490.2,209.62 L491.2,209.64 L492.2,209.64 L493.2,209.62 L494.2,209.57 L495.2,209.51 L496.2,209.42 L497.2,209.31 L498.2,209.18 L499.2,209.02 L500.2,208.84 L501.2,208.64 L502.2,208.40 L503.2,208.15 L504.2,207.86 L505.2,207.55 L506.2,207.23 L507.2,206.88 L508.2,206.52 L509.2,206.16 L510.2,205.78 L511.2,205.40 L512.2,205.02 L513.2,204.65 L514.2,204.28 L515.2,203.92 L516.2,203.56 L517.2,203.21 L518.2,202.87 L519.2,202.53 L520.2,202.20 L521.2,201.87 L522.2,201.54 L523.2,201.22 L524.2,200.90 L525.2,200.59 L526.2,200.27 L527.2,199.96 L528.2,199.65 L529.2,199.35 L530.2,199.05 L531.2,198.75 L532.2,198.46 L533.2,198.17 L534.2,197.90 L535.2,197.63 L536.2,197.37 L537.2,197.12 L538.2,196.88 L539.2,196.65 L540.2,196.43 L541.2,196.22 L542.2,196.02 L543.2,195.84 L544.2,195.66 L545.2,195.49 L546.2,195.33 L547.2,195.18 L548.2,195.04 L549.2,194.91 L550.2,194.79 L551.2,194.68 L552.2,194.58 L553.2,194.51 L554.2,194.45 L555.2,194.41 L556.2,194.40 L557.2,194.41 L558.2,194.45 L559.2,194.51 L560.2,194.60 L561.2,194.70 L562.2,194.82 L563.2,194.96 L564.2,195.11 L565.2,195.28 L566.2,195.45 L567.2,195.64 L568.2,195.83 L569.2,196.03 L570.2,196.24 L571.2,196.45 L572.2,196.66 L573.2,196.89 L574.2,197.11 L575.2,197.34 L576.2,197.57 L577.2,197.81 L578.2,198.05 L579.2,198.29 L580.2,198.53 L581.2,198.77 L582.2,199.02 L583.2,199.28 L584.2,199.54 L585.2,199.81 L586.2,200.08 L587.2,200.37 L588.2,200.66 L589.2,200.96 L590.2,201.28 L591.2,201.60 L592.2,201.94 L593.2,202.30 L594.2,202.66 L595.2,203.04 L596.2,203.44 L597.2,203.86 L597.3,358.2 L80.2,358.2 Z" fill="url(#g6)" stroke="none"/>
<path d="M80.2,281.50 L81.2,280.83 L82.2,280.30 L83.2,279.90 L84.2,279.62 L85.2,279.46 L86.2,279.40 L87.2,279.44 L88.2,279.58 L89.2,279.79 L90.2,280.09 L91.2,280.44 L92.2,280.86 L93.2,281.33 L94.2,281.84 L95.2,282.38 L96.2,282.92 L97.2,283.40 L98.2,283.77 L99.2,283.98 L100.2,283.97 L101.2,283.75 L102.2,283.41 L103.2,283.06 L104.2,282.78 L105.2,282.69 L106.2,282.83 L107.2,283.18 L108.2,283.71 L109.2,284.40 L110.2,285.19 L111.2,285.93 L112.2,286.41 L113.2,286.46 L114.2,285.88 L115.2,284.49 L116.2,282.12 L117.2,278.59 L118.2,273.86 L119.2,268.34 L120.2,262.49 L121.2,256.75 L122.2,251.40 L123.2,246.68 L124.2,242.80 L125.2,239.93 L126.2,238.03 L127.2,237.04 L128.2,236.93 L129.2,237.51 L130.2,238.51 L131.2,239.68 L132.2,240.78 L133.2,241.71 L134.2,242.42 L135.2,242.87 L136.2,243.03 L137.2,242.95 L138.2,242.69 L139.2,242.29 L140.2,241.82 L141.2,241.31 L142.2,240.83 L143.2,240.43 L144.2,240.15 L145.2,240.02 L146.2,240.01 L147.2,240.12 L148.2,240.32 L149.2,240.60 L150.2,240.94 L151.2,241.34 L152.2,241.76 L153.2,242.21 L154.2,242.66 L155.2,243.12 L156.2,243.59 L157.2,244.09 L158.2,244.63 L159.2,245.22 L160.2,245.86 L161.2,246.57 L162.2,247.36 L163.2,248.23 L164.2,249.17 L165.2,250.16 L166.2,251.19 L167.2,252.25 L168.2,253.31 L169.2,254.36 L170.2,255.40 L171.2,256.39 L172.2,257.34 L173.2,258.24 L174.2,259.06 L175.2,259.82 L176.2,260.48 L177.2,261.06 L178.2,261.53 L179.2,261.90 L180.2,262.16 L181.2,262.32 L182.2,262.40 L183.2,262.38 L184.2,262.29 L185.2,262.13 L186.2,261.91 L187.2,261.65 L188.2,261.35 L189.2,261.03 L190.2,260.69 L191.2,260.35 L192.2,260.03 L193.2,259.72 L194.2,259.44 L195.2,259.18 L196.2,258.95 L197.2,258.75 L198.2,258.58 L199.2,258.44 L200.2,258.33 L201.2,258.25 L202.2,258.21 L203.2,258.20 L204.2,258.21 L205.2,258.24 L206.2,258.28 L207.2,258.31 L208.2,258.33 L209.2,258.32 L210.2,258.27 L211.2,258.18 L212.2,258.03 L213.2,257.83 L214.2,257.59 L215.2,257.32 L216.2,257.01 L217.2,256.67 L218.2,256.32 L219.2,255.95 L220.2,255.57 L221.2,255.20 L222.2,254.84 L223.2,254.52 L224.2,254.23 L225.2,254.01 L226.2,253.86 L227.2,253.79 L228.2,253.83 L229.2,253.95 L230.2,254.17 L231.2,254.48 L232.2,254.87 L233.2,255.35 L234.2,255.91 L235.2,256.51 L236.2,257.13 L237.2,257.74 L238.2,258.31 L239.2,258.80 L240.2,259.20 L241.2,259.48 L242.2,259.62 L243.2,259.59 L244.2,259.37 L245.2,258.94 L246.2,258.29 L247.2,257.40 L248.2,256.28 L249.2,254.90 L250.2,253.28 L251.2,251.45 L252.2,249.46 L253.2,247.34 L254.2,245.14 L255.2,242.90 L256.2,240.66 L257.2,238.47 L258.2,236.35 L259.2,234.35 L260.2,232.50 L261.2,230.85 L262.2,229.43 L263.2,228.23 L264.2,227.23 L265.2,226.43 L266.2,225.80 L267.2,225.34 L268.2,225.06 L269.2,224.99 L270.2,225.14 L271.2,225.49 L272.2,226.02 L273.2,226.70 L274.2,227.48 L275.2,228.36 L276.2,229.31 L277.2,230.33 L278.2,231.41 L279.2,232.53 L280.2,233.68 L281.2,234.85 L282.2,236.03 L283.2,237.22 L284.2,238.40 L285.2,239.56 L286.2,240.70 L287.2,241.81 L288.2,242.88 L289.2,243.90 L290.2,244.87 L291.2,245.79 L292.2,246.65 L293.2,247.44 L294.2,248.16 L295.2,248.81 L296.2,249.39 L297.2,249.90 L298.2,250.35 L299.2,250.74 L300.2,251.07 L301.2,251.35 L302.2,251.59 L303.2,251.78 L304.2,251.93 L305.2,252.04 L306.2,252.12 L307.2,252.17 L308.2,252.20 L309.2,252.20 L310.2,252.18 L311.2,252.15 L312.2,252.10 L313.2,252.03 L314.2,251.95 L315.2,251.85 L316.2,251.74 L317.2,251.62 L318.2,251.49 L319.2,251.34 L320.2,251.19 L321.2,251.03 L322.2,250.87 L323.2,250.69 L324.2,250.51 L325.2,250.33 L326.2,250.14 L327.2,249.95 L328.2,249.75 L329.2,249.55 L330.2,249.34 L331.2,249.13 L332.2,248.92 L333.2,248.71 L334.2,248.49 L335.2,248.27 L336.2,248.05 L337.2,247.83 L338.2,247.59 L339.2,247.35 L340.2,247.10 L341.2,246.84 L342.2,246.56 L343.2,246.27 L344.2,245.96 L345.2,245.64 L346.2,245.29 L347.2,244.93 L348.2,244.55 L349.2,244.14 L350.2,243.72 L351.2,243.28 L352.2,242.82 L353.2,242.34 L354.2,241.85 L355.2,241.34 L356.2,240.81 L357.2,240.26 L358.2,239.70 L359.2,239.12 L360.2,238.53 L361.2,237.91 L362.2,237.28 L363.2,236.62 L364.2,235.94 L365.2,235.23 L366.2,234.50 L367.2,233.73 L368.2,232.94 L369.2,232.11 L370.2,231.25 L371.2,230.35 L372.2,229.41 L373.2,228.42 L374.2,227.40 L375.2,226.32 L376.2,225.20 L377.2,224.03 L378.2,222.80 L379.2,221.53 L380.2,220.21 L381.2,218.85 L382.2,217.48 L383.2,216.09 L384.2,214.69 L385.2,213.29 L386.2,211.90 L387.2,210.53 L388.2,209.16 L389.2,207.80 L390.2,206.41 L391.2,204.99 L392.2,203.54 L393.2,202.02 L394.2,200.45 L395.2,198.82 L396.2,197.20 L397.2,195.60 L398.2,194.09 L399.2,192.69 L400.2,191.40 L401.2,190.19 L402.2,189.04 L403.2,187.93 L404.2,186.83 L405.2,185.72 L406.2,184.61 L407.2,183.51 L408.2,182.45 L409.2,181.45 L410.2,180.52 L411.2,179.70 L412.2,178.99 L413.2,178.36 L414.2,177.82 L415.2,177.35 L416.2,176.93 L417.2,176.55 L418.2,176.22 L419.2,175.92 L420.2,175.67 L421.2,175.47 L422.2,175.32 L423.2,175.23 L424.2,175.20 L425.2,175.23 L426.2,175.32 L427.2,175.47 L428.2,175.67 L429.2,175.93 L430.2,176.23 L431.2,176.59 L432.2,176.98 L433.2,177.42 L434.2,177.91 L435.2,178.44 L436.2,179.01 L437.2,179.64 L438.2,180.30 L439.2,181.02 L440.2,181.78 L441.2,182.58 L442.2,183.42 L443.2,184.29 L444.2,185.17 L445.2,186.08 L446.2,187.00 L447.2,187.93 L448.2,188.85 L449.2,189.78 L450.2,190.71 L451.2,191.63 L452.2,192.54 L453.2,193.44 L454.2,194.33 L455.2,195.20 L456.2,196.05 L457.2,196.87 L458.2,197.68 L459.2,198.45 L460.2,199.20 L461.2,199.91 L462.2,200.59 L463.2,201.24 L464.2,201.86 L465.2,202.45 L466.2,203.01 L467.2,203.54 L468.2,204.05 L469.2,204.53 L470.2,204.99 L471.2,205.42 L472.2,205.83 L473.2,206.22 L474.2,206.58 L475.2,206.93 L476.2,207.25 L477.2,207.55 L478.2,207.83 L479.2,208.09 L480.2,208.33 L481.2,208.55 L482.2,208.74 L483.2,208.92 L484.2,209.08 L485.2,209.22 L486.2,209.34 L487.2,209.44 L488.2,209.52 L489.2,209.58 L490.2,209.62 L491.2,209.64 L492.2,209.64 L493.2,209.62 L494.2,209.57 L495.2,209.51 L496.2,209.42 L497.2,209.31 L498.2,209.18 L499.2,209.02 L500.2,208.84 L501.2,208.64 L502.2,208.40 L503.2,208.15 L504.2,207.86 L505.2,207.55 L506.2,207.23 L507.2,206.88 L508.2,206.52 L509.2,206.16 L510.2,205.78 L511.2,205.40 L512.2,205.02 L513.2,204.65 L514.2,204.28 L515.2,203.92 L516.2,203.56 L517.2,203.21 L518.2,202.87 L519.2,202.53 L520.2,202.20 L521.2,201.87 L522.2,201.54 L523.2,201.22 L524.2,200.90 L525.2,200.59 L526.2,200.27 L527.2,199.96 L528.2,199.65 L529.2,199.35 L530.2,199.05 L531.2,198.75 L532.2,198.46 L533.2,198.17 L534.2,197.90 L535.2,197.63 L536.2,197.37 L537.2,197.12 L538.2,196.88 L539.2,196.65 L540.2,196.43 L541.2,196.22 L542.2,196.02 L543.2,195.84 L544.2,195.66 L545.2,195.49 L546.2,195.33 L547.2,195.18 L548.2,195.04 L549.2,194.91 L550.2,194.79 L551.2,194.68 L552.2,194.58 L553.2,194.51 L554.2,194.45 L555.2,194.41 L556.2,194.40 L557.2,194.41 L558.2,194.45 L559.2,194.51 L560.2,194.60 L561.2,194.70 L562.2,194.82 L563.2,194.96 L564.2,195.11 L565.2,195.28 L566.2,195.45 L567.2,195.64 L568.2,195.83 L569.2,196.03 L570.2,196.24 L571.2,196.45 L572.2,196.66 L573.2,196.89 L574.2,197.11 L575.2,197.34 L576.2,197.57 L577.2,197.81 L578.2,198.05 L579.2,198.29 L580.2,198.53 L581.2,198.77 L582.2,199.02 L583.2,199.28 L584.2,199.54 L585.2,199.81 L586.2,200.08 L587.2,200.37 L588.2,200.66 L589.2,200.96 L590.2,201.28 L591.2,201.60 L592.2,201.94 L593.2,202.30 L594.2,202.66 L595.2,203.04 L596.2,203.44 L597.2,203.86" fill="none" stroke="#111" stroke-width="1.2" stroke-linejoin="round"/>
<path d="M80.2,309.70 L81.2,308.87 L82.2,308.24 L83.2,307.81 L84.2,307.57 L85.2,307.49 L86.2,307.57 L87.2,307.80 L88.2,308.16 L89.2,308.64 L90.2,309.23 L91.2,309.91 L92.2,310.68 L93.2,311.52 L94.2,312.42 L95.2,313.36 L96.2,314.30 L97.2,315.16 L98.2,315.89 L99.2,316.40 L100.2,316.64 L101.2,316.60 L102.2,316.38 L103.2,316.10 L104.2,315.87 L105.2,315.80 L106.2,315.99 L107.2,316.50 L108.2,317.42 L109.2,318.80 L110.2,320.62 L111.2,322.50 L112.2,323.94 L113.2,324.45 L114.2,323.60 L115.2,321.31 L116.2,317.64 L117.2,312.68 L118.2,306.71 L119.2,300.19 L120.2,293.56 L121.2,287.24 L122.2,281.57 L123.2,276.91 L124.2,273.33 L125.2,270.65 L126.2,268.67 L127.2,267.34 L128.2,266.80 L129.2,267.18 L130.2,268.27 L131.2,269.67 L132.2,271.01 L133.2,272.07 L134.2,272.86 L135.2,273.40 L136.2,273.70 L137.2,273.78 L138.2,273.69 L139.2,273.45 L140.2,273.11 L141.2,272.70 L142.2,272.27 L143.2,271.85 L144.2,271.49 L145.2,271.18 L146.2,270.94 L147.2,270.76 L148.2,270.62 L149.2,270.54 L150.2,270.50 L151.2,270.51 L152.2,270.55 L153.2,270.62 L154.2,270.73 L155.2,270.86 L156.2,271.03 L157.2,271.21 L158.2,271.41 L159.2,271.63 L160.2,271.86 L161.2,272.11 L162.2,272.37 L163.2,272.64 L164.2,272.93 L165.2,273.23 L166.2,273.55 L167.2,273.88 L168.2,274.24 L169.2,274.61 L170.2,274.99 L171.2,275.40 L172.2,275.82 L173.2,276.27 L174.2,276.73 L175.2,277.21 L176.2,277.71 L177.2,278.23 L178.2,278.76 L179.2,279.32 L180.2,279.88 L181.2,280.46 L182.2,281.03 L183.2,281.61 L184.2,282.17 L185.2,282.72 L186.2,283.25 L187.2,283.76 L188.2,284.23 L189.2,284.68 L190.2,285.09 L191.2,285.47 L192.2,285.82 L193.2,286.13 L194.2,286.41 L195.2,286.66 L196.2,286.88 L197.2,287.06 L198.2,287.22 L199.2,287.34 L200.2,287.44 L201.2,287.51 L202.2,287.56 L203.2,287.59 L204.2,287.60 L205.2,287.60 L206.2,287.57 L207.2,287.54 L208.2,287.49 L209.2,287.44 L210.2,287.37 L211.2,287.31 L212.2,287.24 L213.2,287.16 L214.2,287.09 L215.2,287.02 L216.2,286.96 L217.2,286.90 L218.2,286.85 L219.2,286.81 L220.2,286.77 L221.2,286.73 L222.2,286.69 L223.2,286.64 L224.2,286.59 L225.2,286.54 L226.2,286.47 L227.2,286.38 L228.2,286.28 L229.2,286.17 L230.2,286.04 L231.2,285.89 L232.2,285.73 L233.2,285.56 L234.2,285.37 L235.2,285.16 L236.2,284.94 L237.2,284.70 L238.2,284.45 L239.2,284.18 L240.2,283.90 L241.2,283.61 L242.2,283.32 L243.2,283.01 L244.2,282.71 L245.2,282.40 L246.2,282.09 L247.2,281.79 L248.2,281.49 L249.2,281.21 L250.2,280.93 L251.2,280.66 L252.2,280.41 L253.2,280.17 L254.2,279.94 L255.2,279.72 L256.2,279.52 L257.2,279.33 L258.2,279.15 L259.2,278.98 L260.2,278.82 L261.2,278.67 L262.2,278.54 L263.2,278.41 L264.2,278.30 L265.2,278.20 L266.2,278.10 L267.2,278.02 L268.2,277.95 L269.2,277.90 L270.2,277.85 L271.2,277.82 L272.2,277.80 L273.2,277.79 L274.2,277.80 L275.2,277.82 L276.2,277.86 L277.2,277.92 L278.2,278.00 L279.2,278.09 L280.2,278.21 L281.2,278.35 L282.2,278.52 L283.2,278.71 L284.2,278.92 L285.2,279.15 L286.2,279.39 L287.2,279.64 L288.2,279.90 L289.2,280.17 L290.2,280.43 L291.2,280.69 L292.2,280.95 L293.2,281.20 L294.2,281.43 L295.2,281.65 L296.2,281.86 L297.2,282.05 L298.2,282.23 L299.2,282.39 L300.2,282.53 L301.2,282.64 L302.2,282.73 L303.2,282.80 L304.2,282.85 L305.2,282.88 L306.2,282.89 L307.2,282.89 L308.2,282.87 L309.2,282.83 L310.2,282.78 L311.2,282.73 L312.2,282.66 L313.2,282.58 L314.2,282.50 L315.2,282.41 L316.2,282.31 L317.2,282.21 L318.2,282.10 L319.2,281.98 L320.2,281.86 L321.2,281.73 L322.2,281.59 L323.2,281.45 L324.2,281.29 L325.2,281.12 L326.2,280.94 L327.2,280.74 L328.2,280.52 L329.2,280.27 L330.2,280.00 L331.2,279.70 L332.2,279.37 L333.2,279.01 L334.2,278.62 L335.2,278.22 L336.2,277.79 L337.2,277.34 L338.2,276.87 L339.2,276.39 L340.2,275.90 L341.2,275.40 L342.2,274.89 L343.2,274.37 L344.2,273.84 L345.2,273.30 L346.2,272.74 L347.2,272.16 L348.2,271.57 L349.2,270.95 L350.2,270.30 L351.2,269.63 L352.2,268.93 L353.2,268.21 L354.2,267.46 L355.2,266.71 L356.2,265.94 L357.2,265.16 L358.2,264.38 L359.2,263.59 L360.2,262.81 L361.2,262.04 L362.2,261.27 L363.2,260.51 L364.2,259.75 L365.2,259.01 L366.2,258.26 L367.2,257.53 L368.2,256.79 L369.2,256.07 L370.2,255.34 L371.2,254.62 L372.2,253.91 L373.2,253.20 L374.2,252.50 L375.2,251.81 L376.2,251.13 L377.2,250.47 L378.2,249.81 L379.2,249.18 L380.2,248.56 L381.2,247.96 L382.2,247.38 L383.2,246.82 L384.2,246.28 L385.2,245.77 L386.2,245.27 L387.2,244.80 L388.2,244.35 L389.2,243.92 L390.2,243.52 L391.2,243.14 L392.2,242.78 L393.2,242.44 L394.2,242.12 L395.2,241.80 L396.2,241.49 L397.2,241.19 L398.2,240.89 L399.2,240.59 L400.2,240.29 L401.2,239.99 L402.2,239.71 L403.2,239.44 L404.2,239.19 L405.2,238.96 L406.2,238.76 L407.2,238.59 L408.2,238.45 L409.2,238.32 L410.2,238.20 L411.2,238.08 L412.2,237.96 L413.2,237.84 L414.2,237.70 L415.2,237.57 L416.2,237.43 L417.2,237.29 L418.2,237.15 L419.2,237.02 L420.2,236.89 L421.2,236.77 L422.2,236.67 L423.2,236.57 L424.2,236.49 L425.2,236.43 L426.2,236.38 L427.2,236.34 L428.2,236.32 L429.2,236.31 L430.2,236.31 L431.2,236.32 L432.2,236.34 L433.2,236.37 L434.2,236.41 L435.2,236.45 L436.2,236.49 L437.2,236.54 L438.2,236.59 L439.2,236.65 L440.2,236.70 L441.2,236.76 L442.2,236.83 L443.2,236.89 L444.2,236.96 L445.2,237.03 L446.2,237.11 L447.2,237.18 L448.2,237.26 L449.2,237.34 L450.2,237.42 L451.2,237.50 L452.2,237.59 L453.2,237.67 L454.2,237.76 L455.2,237.84 L456.2,237.93 L457.2,238.01 L458.2,238.10 L459.2,238.18 L460.2,238.26 L461.2,238.34 L462.2,238.41 L463.2,238.49 L464.2,238.56 L465.2,238.62 L466.2,238.69 L467.2,238.75 L468.2,238.81 L469.2,238.86 L470.2,238.91 L471.2,238.96 L472.2,239.01 L473.2,239.05 L474.2,239.09 L475.2,239.12 L476.2,239.15 L477.2,239.18 L478.2,239.20 L479.2,239.22 L480.2,239.24 L481.2,239.25 L482.2,239.26 L483.2,239.27 L484.2,239.27 L485.2,239.27 L486.2,239.26 L487.2,239.25 L488.2,239.24 L489.2,239.22 L490.2,239.20 L491.2,239.18 L492.2,239.15 L493.2,239.12 L494.2,239.09 L495.2,239.04 L496.2,239.00 L497.2,238.95 L498.2,238.90 L499.2,238.84 L500.2,238.77 L501.2,238.71 L502.2,238.63 L503.2,238.55 L504.2,238.47 L505.2,238.38 L506.2,238.28 L507.2,238.18 L508.2,238.07 L509.2,237.96 L510.2,237.84 L511.2,237.71 L512.2,237.58 L513.2,237.45 L514.2,237.30 L515.2,237.15 L516.2,237.00 L517.2,236.84 L518.2,236.68 L519.2,236.51 L520.2,236.33 L521.2,236.15 L522.2,235.97 L523.2,235.78 L524.2,235.59 L525.2,235.40 L526.2,235.20 L527.2,235.00 L528.2,234.80 L529.2,234.59 L530.2,234.38 L531.2,234.18 L532.2,233.97 L533.2,233.76 L534.2,233.55 L535.2,233.34 L536.2,233.14 L537.2,232.94 L538.2,232.74 L539.2,232.54 L540.2,232.35 L541.2,232.16 L542.2,231.97 L543.2,231.79 L544.2,231.60 L545.2,231.42 L546.2,231.23 L547.2,231.05 L548.2,230.86 L549.2,230.67 L550.2,230.48 L551.2,230.29 L552.2,230.09 L553.2,229.90 L554.2,229.70 L555.2,229.50 L556.2,229.30 L557.2,229.11 L558.2,228.91 L559.2,228.71 L560.2,228.51 L561.2,228.32 L562.2,228.13 L563.2,227.93 L564.2,227.74 L565.2,227.55 L566.2,227.36 L567.2,227.17 L568.2,226.98 L569.2,226.78 L570.2,226.59 L571.2,226.39 L572.2,226.19 L573.2,225.98 L574.2,225.77 L575.2,225.56 L576.2,225.35 L577.2,225.13 L578.2,224.91 L579.2,224.69 L580.2,224.47 L581.2,224.25 L582.2,224.02 L583.2,223.80 L584.2,223.58 L585.2,223.35 L586.2,223.13 L587.2,222.91 L588.2,222.70 L589.2,222.48 L590.2,222.27 L591.2,222.06 L592.2,221.86 L593.2,221.66 L594.2,221.47 L595.2,221.28 L596.2,221.09 L597.2,220.92 L597.3,358.2 L80.2,358.2 Z" fill="url(#g7)" stroke="none"/>
<path d="M80.2,309.70 L81.2,308.87 L82.2,308.24 L83.2,307.81 L84.2,307.57 L85.2,307.49 L86.2,307.57 L87.2,307.80 L88.2,308.16 L89.2,308.64 L90.2,309.23 L91.2,309.91 L92.2,310.68 L93.2,311.52 L94.2,312.42 L95.2,313.36 L96.2,314.30 L97.2,315.16 L98.2,315.89 L99.2,316.40 L100.2,316.64 L101.2,316.60 L102.2,316.38 L103.2,316.10 L104.2,315.87 L105.2,315.80 L106.2,315.99 L107.2,316.50 L108.2,317.42 L109.2,318.80 L110.2,320.62 L111.2,322.50 L112.2,323.94 L113.2,324.45 L114.2,323.60 L115.2,321.31 L116.2,317.64 L117.2,312.68 L118.2,306.71 L119.2,300.19 L120.2,293.56 L121.2,287.24 L122.2,281.57 L123.2,276.91 L124.2,273.33 L125.2,270.65 L126.2,268.67 L127.2,267.34 L128.2,266.80 L129.2,267.18 L130.2,268.27 L131.2,269.67 L132.2,271.01 L133.2,272.07 L134.2,272.86 L135.2,273.40 L136.2,273.70 L137.2,273.78 L138.2,273.69 L139.2,273.45 L140.2,273.11 L141.2,272.70 L142.2,272.27 L143.2,271.85 L144.2,271.49 L145.2,271.18 L146.2,270.94 L147.2,270.76 L148.2,270.62 L149.2,270.54 L150.2,270.50 L151.2,270.51 L152.2,270.55 L153.2,270.62 L154.2,270.73 L155.2,270.86 L156.2,271.03 L157.2,271.21 L158.2,271.41 L159.2,271.63 L160.2,271.86 L161.2,272.11 L162.2,272.37 L163.2,272.64 L164.2,272.93 L165.2,273.23 L166.2,273.55 L167.2,273.88 L168.2,274.24 L169.2,274.61 L170.2,274.99 L171.2,275.40 L172.2,275.82 L173.2,276.27 L174.2,276.73 L175.2,277.21 L176.2,277.71 L177.2,278.23 L178.2,278.76 L179.2,279.32 L180.2,279.88 L181.2,280.46 L182.2,281.03 L183.2,281.61 L184.2,282.17 L185.2,282.72 L186.2,283.25 L187.2,283.76 L188.2,284.23 L189.2,284.68 L190.2,285.09 L191.2,285.47 L192.2,285.82 L193.2,286.13 L194.2,286.41 L195.2,286.66 L196.2,286.88 L197.2,287.06 L198.2,287.22 L199.2,287.34 L200.2,287.44 L201.2,287.51 L202.2,287.56 L203.2,287.59 L204.2,287.60 L205.2,287.60 L206.2,287.57 L207.2,287.54 L208.2,287.49 L209.2,287.44 L210.2,287.37 L211.2,287.31 L212.2,287.24 L213.2,287.16 L214.2,287.09 L215.2,287.02 L216.2,286.96 L217.2,286.90 L218.2,286.85 L219.2,286.81 L220.2,286.77 L221.2,286.73 L222.2,286.69 L223.2,286.64 L224.2,286.59 L225.2,286.54 L226.2,286.47 L227.2,286.38 L228.2,286.28 L229.2,286.17 L230.2,286.04 L231.2,285.89 L232.2,285.73 L233.2,285.56 L234.2,285.37 L235.2,285.16 L236.2,284.94 L237.2,284.70 L238.2,284.45 L239.2,284.18 L240.2,283.90 L241.2,283.61 L242.2,283.32 L243.2,283.01 L244.2,282.71 L245.2,282.40 L246.2,282.09 L247.2,281.79 L248.2,281.49 L249.2,281.21 L250.2,280.93 L251.2,280.66 L252.2,280.41 L253.2,280.17 L254.2,279.94 L255.2,279.72 L256.2,279.52 L257.2,279.33 L258.2,279.15 L259.2,278.98 L260.2,278.82 L261.2,278.67 L262.2,278.54 L263.2,278.41 L264.2,278.30 L265.2,278.20 L266.2,278.10 L267.2,278.02 L268.2,277.95 L269.2,277.90 L270.2,277.85 L271.2,277.82 L272.2,277.80 L273.2,277.79 L274.2,277.80 L275.2,277.82 L276.2,277.86 L277.2,277.92 L278.2,278.00 L279.2,278.09 L280.2,278.21 L281.2,278.35 L282.2,278.52 L283.2,278.71 L284.2,278.92 L285.2,279.15 L286.2,279.39 L287.2,279.64 L288.2,279.90 L289.2,280.17 L290.2,280.43 L291.2,280.69 L292.2,280.95 L293.2,281.20 L294.2,281.43 L295.2,281.65 L296.2,281.86 L297.2,282.05 L298.2,282.23 L299.2,282.39 L300.2,282.53 L301.2,282.64 L302.2,282.73 L303.2,282.80 L304.2,282.85 L305.2,282.88 L306.2,282.89 L307.2,282.89 L308.2,282.87 L309.2,282.83 L310.2,282.78 L311.2,282.73 L312.2,282.66 L313.2,282.58 L314.2,282.50 L315.2,282.41 L316.2,282.31 L317.2,282.21 L318.2,282.10 L319.2,281.98 L320.2,281.86 L321.2,281.73 L322.2,281.59 L323.2,281.45 L324.2,281.29 L325.2,281.12 L326.2,280.94 L327.2,280.74 L328.2,280.52 L329.2,280.27 L330.2,280.00 L331.2,279.70 L332.2,279.37 L333.2,279.01 L334.2,278.62 L335.2,278.22 L336.2,277.79 L337.2,277.34 L338.2,276.87 L339.2,276.39 L340.2,275.90 L341.2,275.40 L342.2,274.89 L343.2,274.37 L344.2,273.84 L345.2,273.30 L346.2,272.74 L347.2,272.16 L348.2,271.57 L349.2,270.95 L350.2,270.30 L351.2,269.63 L352.2,268.93 L353.2,268.21 L354.2,267.46 L355.2,266.71 L356.2,265.94 L357.2,265.16 L358.2,264.38 L359.2,263.59 L360.2,262.81 L361.2,262.04 L362.2,261.27 L363.2,260.51 L364.2,259.75 L365.2,259.01 L366.2,258.26 L367.2,257.53 L368.2,256.79 L369.2,256.07 L370.2,255.34 L371.2,254.62 L372.2,253.91 L373.2,253.20 L374.2,252.50 L375.2,251.81 L376.2,251.13 L377.2,250.47 L378.2,249.81 L379.2,249.18 L380.2,248.56 L381.2,247.96 L382.2,247.38 L383.2,246.82 L384.2,246.28 L385.2,245.77 L386.2,245.27 L387.2,244.80 L388.2,244.35 L389.2,243.92 L390.2,243.52 L391.2,243.14 L392.2,242.78 L393.2,242.44 L394.2,242.12 L395.2,241.80 L396.2,241.49 L397.2,241.19 L398.2,240.89 L399.2,240.59 L400.2,240.29 L401.2,239.99 L402.2,239.71 L403.2,239.44 L404.2,239.19 L405.2,238.96 L406.2,238.76 L407.2,238.59 L408.2,238.45 L409.2,238.32 L410.2,238.20 L411.2,238.08 L412.2,237.96 L413.2,237.84 L414.2,237.70 L415.2,237.57 L416.2,237.43 L417.2,237.29 L418.2,237.15 L419.2,237.02 L420.2,236.89 L421.2,236.77 L422.2,236.67 L423.2,236.57 L424.2,236.49 L425.2,236.43 L426.2,236.38 L427.2,236.34 L428.2,236.32 L429.2,236.31 L430.2,236.31 L431.2,236.32 L432.2,236.34 L433.2,236.37 L434.2,236.41 L435.2,236.45 L436.2,236.49 L437.2,236.54 L438.2,236.59 L439.2,236.65 L440.2,236.70 L441.2,236.76 L442.2,236.83 L443.2,236.89 L444.2,236.96 L445.2,237.03 L446.2,237.11 L447.2,237.18 L448.2,237.26 L449.2,237.34 L450.2,237.42 L451.2,237.50 L452.2,237.59 L453.2,237.67 L454.2,237.76 L455.2,237.84 L456.2,237.93 L457.2,238.01 L458.2,238.10 L459.2,238.18 L460.2,238.26 L461.2,238.34 L462.2,238.41 L463.2,238.49 L464.2,238.56 L465.2,238.62 L466.2,238.69 L467.2,238.75 L468.2,238.81 L469.2,238.86 L470.2,238.91 L471.2,238.96 L472.2,239.01 L473.2,239.05 L474.2,239.09 L475.2,239.12 L476.2,239.15 L477.2,239.18 L478.2,239.20 L479.2,239.22 L480.2,239.24 L481.2,239.25 L482.2,239.26 L483.2,239.27 L484.2,239.27 L485.2,239.27 L486.2,239.26 L487.2,239.25 L488.2,239.24 L489.2,239.22 L490.2,239.20 L491.2,239.18 L492.2,239.15 L493.2,239.12 L494.2,239.09 L495.2,239.04 L496.2,239.00 L497.2,238.95 L498.2,238.90 L499.2,238.84 L500.2,238.77 L501.2,238.71 L502.2,238.63 L503.2,238.55 L504.2,238.47 L505.2,238.38 L506.2,238.28 L507.2,238.18 L508.2,238.07 L509.2,237.96 L510.2,237.84 L511.2,237.71 L512.2,237.58 L513.2,237.45 L514.2,237.30 L515.2,237.15 L516.2,237.00 L517.2,236.84 L518.2,236.68 L519.2,236.51 L520.2,236.33 L521.2,236.15 L522.2,235.97 L523.2,235.78 L524.2,235.59 L525.2,235.40 L526.2,235.20 L527.2,235.00 L528.2,234.80 L529.2,234.59 L530.2,234.38 L531.2,234.18 L532.2,233.97 L533.2,233.76 L534.2,233.55 L535.2,233.34 L536.2,233.14 L537.2,232.94 L538.2,232.74 L539.2,232.54 L540.2,232.35 L541.2,232.16 L542.2,231.97 L543.2,231.79 L544.2,231.60 L545.2,231.42 L546.2,231.23 L547.2,231.05 L548.2,230.86 L549.2,230.67 L550.2,230.48 L551.2,230.29 L552.2,230.09 L553.2,229.90 L554.2,229.70 L555.2,229.50 L556.2,229.30 L557.2,229.11 L558.2,228.91 L559.2,228.71 L560.2,228.51 L561.2,228.32 L562.2,228.13 L563.2,227.93 L564.2,227.74 L565.2,227.55 L566.2,227.36 L567.2,227.17 L568.2,226.98 L569.2,226.78 L570.2,226.59 L571.2,226.39 L572.2,226.19 L573.2,225.98 L574.2,225.77 L575.2,225.56 L576.2,225.35 L577.2,225.13 L578.2,224.91 L579.2,224.69 L580.2,224.47 L581.2,224.25 L582.2,224.02 L583.2,223.80 L584.2,223.58 L585.2,223.35 L586.2,223.13 L587.2,222.91 L588.2,222.70 L589.2,222.48 L590.2,222.27 L591.2,222.06 L592.2,221.86 L593.2,221.66 L594.2,221.47 L595.2,221.28 L596.2,221.09 L597.2,220.92" fill="none" stroke="#111" stroke-width="1.2" stroke-linejoin="round"/>
<text class="yl" transform="translate(50.3,161.1) scale(0.93,1)">10ml</text>
<line x1="52.8" y1="158.0" x2="55.9" y2="158.0" stroke="#333" stroke-width="1.2"/>
<text class="yl" transform="translate(50.3,193.7) scale(0.93,1)">20ml</text>
<line x1="52.8" y1="190.2" x2="55.9" y2="190.2" stroke="#333" stroke-width="1.2"/>
<text class="yl" transform="translate(50.3,221.25) scale(0.93,1)">50ml</text>
<line x1="52.8" y1="218.9" x2="55.9" y2="218.9" stroke="#333" stroke-width="1.2"/>
<text class="yl" transform="translate(50.3,251.2) scale(0.93,1)">100ml</text>
<line x1="52.8" y1="249.5" x2="55.9" y2="249.5" stroke="#333" stroke-width="1.2"/>
<text class="yl" transform="translate(50.3,283.1) scale(0.93,1)">250ml</text>
<line x1="52.8" y1="280.1" x2="55.9" y2="280.1" stroke="#333" stroke-width="1.2"/>
<text class="yl" transform="translate(52.0,312.2) scale(0.93,1)">500ml</text>
<line x1="52.8" y1="309.2" x2="55.9" y2="309.2" stroke="#333" stroke-width="1.2"/>
<text class="yl" transform="translate(52.0,361.35) scale(0.93,1)">1000ml</text>
<line x1="52.8" y1="358.0" x2="55.9" y2="358.0" stroke="#333" stroke-width="1.2"/>
<text transform="translate(14.2,178.9) rotate(-90)" text-anchor="middle" style="font:17px 'Liberation Serif',serif" fill="#111">Volume</text>
<rect x="71.2" y="359.0" width="88.4" height="16.0" fill="#ffffff" stroke="#333" stroke-width="1"/>
<rect x="159.6" y="359.0" width="262.4" height="16.0" fill="#f7f7f7" stroke="#333" stroke-width="1"/>
<rect x="422.0" y="359.0" width="174.4" height="16.0" fill="#f7f7f7" stroke="#333" stroke-width="1"/>
<text class="ph" transform="translate(117.7,371.1) scale(0.885,1)">Phase 1</text>
<text class="ph" transform="translate(292,372) scale(0.885,1)">Phase 2</text>
<text class="ph" transform="translate(517.7,372) scale(0.885,1)">Phase 3</text>
<line x1="72.4" y1="375.3" x2="72.4" y2="378.2" stroke="#333" stroke-width="1"/>
<text class="xl" transform="translate(71.9,386.6) scale(0.94,1)">0</text>
<line x1="116.1" y1="375.3" x2="116.1" y2="378.2" stroke="#333" stroke-width="1"/>
<text class="xl" transform="translate(113.8,386.6) scale(0.94,1)">5</text>
<line x1="159.7" y1="375.3" x2="159.7" y2="378.2" stroke="#333" stroke-width="1"/>
<text class="xl" transform="translate(154.8,386.6) scale(0.94,1)">10</text>
<line x1="203.3" y1="375.3" x2="203.3" y2="378.2" stroke="#333" stroke-width="1"/>
<text class="xl" transform="translate(203.2,386.6) scale(0.94,1)">15</text>
<line x1="247.0" y1="375.3" x2="247.0" y2="378.2" stroke="#333" stroke-width="1"/>
<text class="xl" transform="translate(245.4,386.6) scale(0.94,1)">20</text>
<line x1="290.6" y1="375.3" x2="290.6" y2="378.2" stroke="#333" stroke-width="1"/>
<text class="xl" transform="translate(289.2,386.6) scale(0.94,1)">25</text>
<line x1="334.3" y1="375.3" x2="334.3" y2="378.2" stroke="#333" stroke-width="1"/>
<text class="xl" transform="translate(330.7,386.6) scale(0.94,1)">30</text>
<line x1="378.0" y1="375.3" x2="378.0" y2="378.2" stroke="#333" stroke-width="1"/>
<text class="xl" transform="translate(377.7,386.6) scale(0.94,1)">35</text>
<line x1="421.6" y1="375.3" x2="421.6" y2="378.2" stroke="#333" stroke-width="1"/>
<text class="xl" transform="translate(420.2,386.6) scale(0.94,1)">40</text>
<line x1="465.2" y1="375.3" x2="465.2" y2="378.2" stroke="#333" stroke-width="1"/>
<text class="xl" transform="translate(462.8,386.6) scale(0.94,1)">45</text>
<line x1="508.9" y1="375.3" x2="508.9" y2="378.2" stroke="#333" stroke-width="1"/>
<text class="xl" transform="translate(504.9,386.6) scale(0.94,1)">50</text>
<line x1="552.5" y1="375.3" x2="552.5" y2="378.2" stroke="#333" stroke-width="1"/>
<text class="xl" transform="translate(552.2,386.6) scale(0.94,1)">55</text>
<line x1="596.2" y1="375.3" x2="596.2" y2="378.2" stroke="#333" stroke-width="1"/>
<text class="xl" transform="translate(593.9,386.6) scale(0.94,1)">60</text>
<text x="341" y="403.8" text-anchor="middle" style="font:bold 17px 'Liberation Serif',serif" fill="#111">day</text>
<text transform="translate(600.4,146.6) scale(1.51,1)" style="font:8.9px 'Liberation Serif',serif" fill="#111">Extinction rates</text>
<rect x="630.7" y="154.7" width="17.2" height="83.2" fill="url(#lg)"/>
<line x1="637.8" y1="158.9" x2="641" y2="158.9" stroke="#fff" stroke-opacity="0.6" stroke-width="0.8"/>
<text class="lg" transform="translate(658.8,162.6) scale(0.93,1)">100</text>
<line x1="637.8" y1="179.0" x2="641" y2="179.0" stroke="#fff" stroke-opacity="0.6" stroke-width="0.8"/>
<text class="lg" transform="translate(658.8,182.7) scale(0.93,1)">80</text>
<line x1="637.8" y1="199.1" x2="641" y2="199.1" stroke="#fff" stroke-opacity="0.6" stroke-width="0.8"/>
<text class="lg" transform="translate(658.8,202.8) scale(0.93,1)">60</text>
<line x1="637.8" y1="219.2" x2="641" y2="219.2" stroke="#fff" stroke-opacity="0.6" stroke-width="0.8"/>
<text class="lg" transform="translate(658.8,222.9) scale(0.93,1)">40</text>
</svg></body></html>
